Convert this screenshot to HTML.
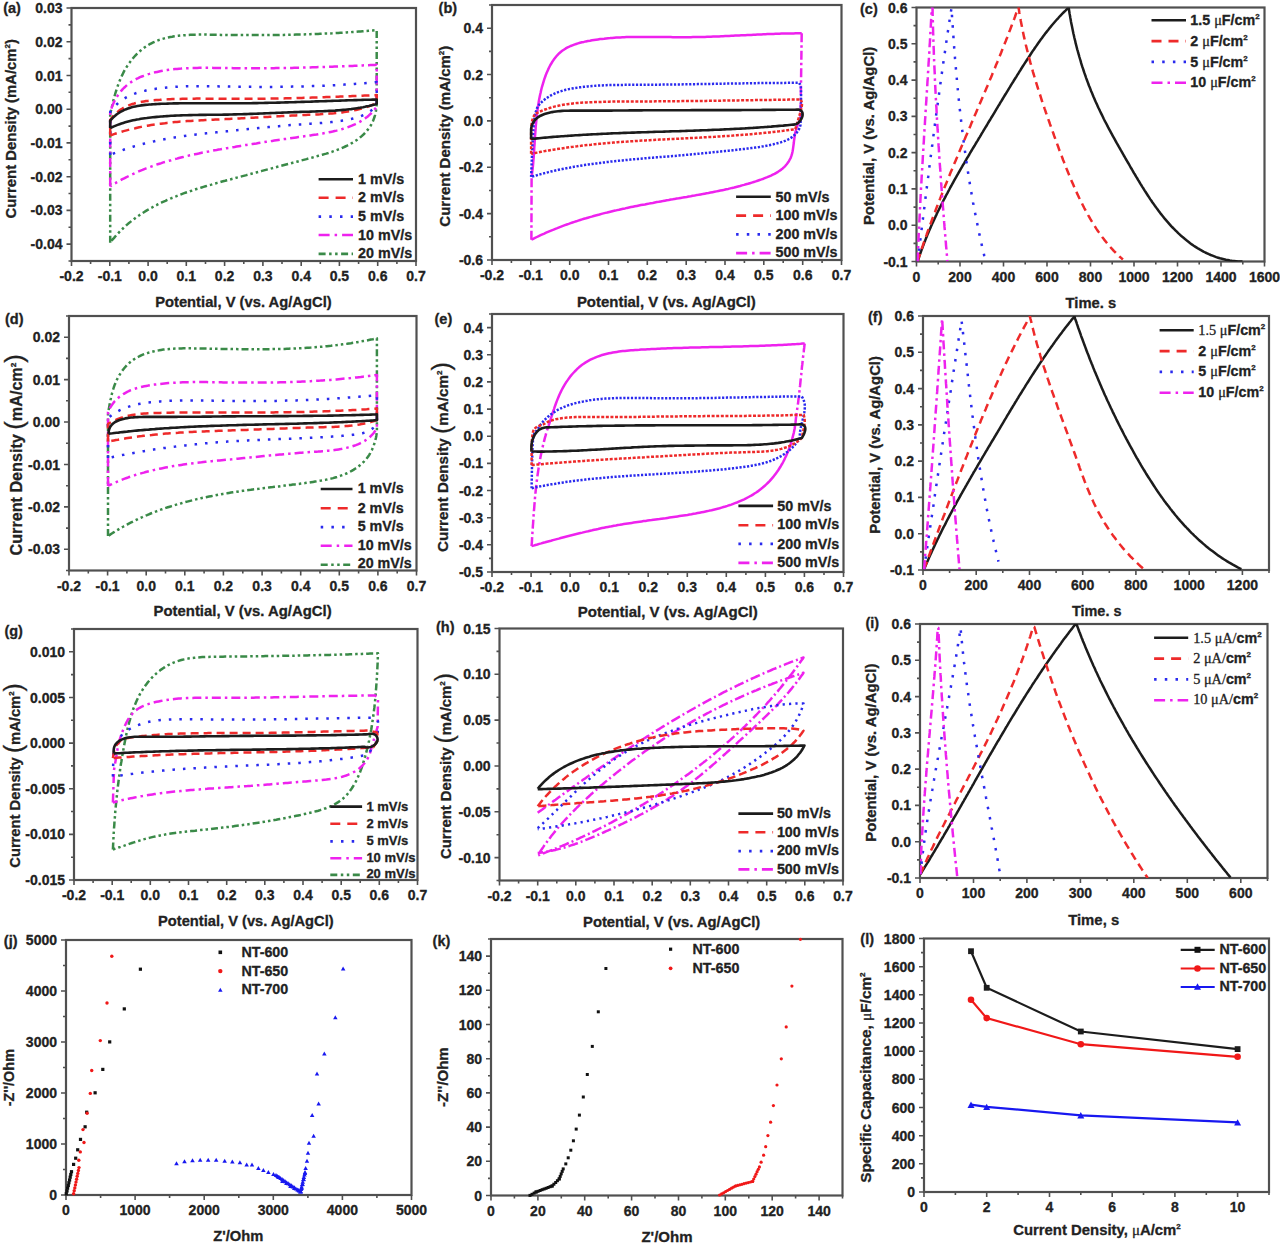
<!DOCTYPE html>
<html><head><meta charset="utf-8"><style>html,body{margin:0;padding:0;background:#fff;overflow:hidden}svg{display:block}</style></head>
<body>
<svg width="1280" height="1245" viewBox="0 0 1280 1245">
<style>text{font-family:"Liberation Sans", sans-serif;font-weight:bold;fill:#222222;stroke:#222222;stroke-width:0.3px} .t{font-size:14px} .ti{font-size:14.8px} .lg{font-size:14.3px} .lgs{font-size:13px} .pl{font-size:14.5px} .sr{font-family:"Liberation Serif",serif;font-weight:normal}</style>
<rect width="1280" height="1245" fill="#fff"/>
<clipPath id="ca"><rect x="71.5" y="8" width="344.5" height="253"/></clipPath>
<clipPath id="cb"><rect x="492" y="5" width="349.5" height="255"/></clipPath>
<clipPath id="cc"><rect x="916.5" y="7.5" width="348.0" height="254.0"/></clipPath>
<clipPath id="cd"><rect x="69" y="316" width="347.5" height="254.5"/></clipPath>
<clipPath id="ce"><rect x="492" y="314" width="351.5" height="258"/></clipPath>
<clipPath id="cf"><rect x="923" y="316" width="346" height="254"/></clipPath>
<clipPath id="cg"><rect x="74" y="629" width="343.5" height="251"/></clipPath>
<clipPath id="ch"><rect x="499.5" y="628.5" width="343.5" height="252.0"/></clipPath>
<clipPath id="ci"><rect x="920" y="624" width="347.5" height="254"/></clipPath>
<clipPath id="cj"><rect x="66" y="940" width="345.5" height="255"/></clipPath>
<clipPath id="ck"><rect x="491" y="939" width="351.5" height="256.5"/></clipPath>
<clipPath id="cl"><rect x="924" y="938.5" width="345" height="253.5"/></clipPath>
<rect x="71.5" y="8" width="344.5" height="253" fill="none" stroke="#505050" stroke-width="2.2"/>
<path d="M71.5 261v5M90.6 261v3M109.8 261v5M128.9 261v3M148.1 261v5M167.2 261v3M186.3 261v5M205.5 261v3M224.6 261v5M243.8 261v3M262.9 261v5M282.0 261v3M301.2 261v5M320.3 261v3M339.4 261v5M358.6 261v3M377.7 261v5M396.9 261v3M416.0 261v5M71.5 244.1h-5M71.5 227.3h-3M71.5 210.4h-5M71.5 193.5h-3M71.5 176.7h-5M71.5 159.8h-3M71.5 142.9h-5M71.5 126.1h-3M71.5 109.2h-5M71.5 92.3h-3M71.5 75.5h-5M71.5 58.6h-3M71.5 41.7h-5M71.5 24.9h-3M71.5 8.0h-5M71.5 261.0h-3" stroke="#505050" stroke-width="1.6" fill="none"/>
<text class="t" x="71.5" y="281" text-anchor="middle">-0.2</text>
<text class="t" x="109.8" y="281" text-anchor="middle">-0.1</text>
<text class="t" x="148.1" y="281" text-anchor="middle">0.0</text>
<text class="t" x="186.3" y="281" text-anchor="middle">0.1</text>
<text class="t" x="224.6" y="281" text-anchor="middle">0.2</text>
<text class="t" x="262.9" y="281" text-anchor="middle">0.3</text>
<text class="t" x="301.2" y="281" text-anchor="middle">0.4</text>
<text class="t" x="339.4" y="281" text-anchor="middle">0.5</text>
<text class="t" x="377.7" y="281" text-anchor="middle">0.6</text>
<text class="t" x="416.0" y="281" text-anchor="middle">0.7</text>
<text class="t" x="62.5" y="249.1" text-anchor="end">-0.04</text>
<text class="t" x="62.5" y="215.4" text-anchor="end">-0.03</text>
<text class="t" x="62.5" y="181.7" text-anchor="end">-0.02</text>
<text class="t" x="62.5" y="147.9" text-anchor="end">-0.01</text>
<text class="t" x="62.5" y="114.2" text-anchor="end">0.00</text>
<text class="t" x="62.5" y="80.5" text-anchor="end">0.01</text>
<text class="t" x="62.5" y="46.7" text-anchor="end">0.02</text>
<text class="t" x="62.5" y="13.0" text-anchor="end">0.03</text>
<rect x="492" y="5" width="349.5" height="255" fill="none" stroke="#505050" stroke-width="2.2"/>
<path d="M492.0 260v5M511.4 260v3M530.8 260v5M550.2 260v3M569.7 260v5M589.1 260v3M608.5 260v5M627.9 260v3M647.3 260v5M666.8 260v3M686.2 260v5M705.6 260v3M725.0 260v5M744.4 260v3M763.8 260v5M783.2 260v3M802.7 260v5M822.1 260v3M841.5 260v5M492 260.0h-5M492 236.8h-3M492 213.6h-5M492 190.5h-3M492 167.3h-5M492 144.1h-3M492 120.9h-5M492 97.7h-3M492 74.5h-5M492 51.4h-3M492 28.2h-5M492 5.0h-3" stroke="#505050" stroke-width="1.6" fill="none"/>
<text class="t" x="492.0" y="280" text-anchor="middle">-0.2</text>
<text class="t" x="530.8" y="280" text-anchor="middle">-0.1</text>
<text class="t" x="569.7" y="280" text-anchor="middle">0.0</text>
<text class="t" x="608.5" y="280" text-anchor="middle">0.1</text>
<text class="t" x="647.3" y="280" text-anchor="middle">0.2</text>
<text class="t" x="686.2" y="280" text-anchor="middle">0.3</text>
<text class="t" x="725.0" y="280" text-anchor="middle">0.4</text>
<text class="t" x="763.8" y="280" text-anchor="middle">0.5</text>
<text class="t" x="802.7" y="280" text-anchor="middle">0.6</text>
<text class="t" x="841.5" y="280" text-anchor="middle">0.7</text>
<text class="t" x="483" y="265.0" text-anchor="end">-0.6</text>
<text class="t" x="483" y="218.6" text-anchor="end">-0.4</text>
<text class="t" x="483" y="172.3" text-anchor="end">-0.2</text>
<text class="t" x="483" y="125.9" text-anchor="end">0.0</text>
<text class="t" x="483" y="79.5" text-anchor="end">0.2</text>
<text class="t" x="483" y="33.2" text-anchor="end">0.4</text>
<rect x="916.5" y="7.5" width="348.0" height="254.0" fill="none" stroke="#505050" stroke-width="2.2"/>
<path d="M916.5 261.5v5M938.2 261.5v3M960.0 261.5v5M981.8 261.5v3M1003.5 261.5v5M1025.2 261.5v3M1047.0 261.5v5M1068.8 261.5v3M1090.5 261.5v5M1112.2 261.5v3M1134.0 261.5v5M1155.8 261.5v3M1177.5 261.5v5M1199.2 261.5v3M1221.0 261.5v5M1242.8 261.5v3M1264.5 261.5v5M916.5 261.5h-5M916.5 243.4h-3M916.5 225.2h-5M916.5 207.1h-3M916.5 188.9h-5M916.5 170.8h-3M916.5 152.6h-5M916.5 134.5h-3M916.5 116.4h-5M916.5 98.2h-3M916.5 80.1h-5M916.5 61.9h-3M916.5 43.8h-5M916.5 25.6h-3M916.5 7.5h-5" stroke="#505050" stroke-width="1.6" fill="none"/>
<text class="t" x="916.5" y="281.5" text-anchor="middle">0</text>
<text class="t" x="960.0" y="281.5" text-anchor="middle">200</text>
<text class="t" x="1003.5" y="281.5" text-anchor="middle">400</text>
<text class="t" x="1047.0" y="281.5" text-anchor="middle">600</text>
<text class="t" x="1090.5" y="281.5" text-anchor="middle">800</text>
<text class="t" x="1134.0" y="281.5" text-anchor="middle">1000</text>
<text class="t" x="1177.5" y="281.5" text-anchor="middle">1200</text>
<text class="t" x="1221.0" y="281.5" text-anchor="middle">1400</text>
<text class="t" x="1264.5" y="281.5" text-anchor="middle">1600</text>
<text class="t" x="907.5" y="266.5" text-anchor="end">-0.1</text>
<text class="t" x="907.5" y="230.2" text-anchor="end">0.0</text>
<text class="t" x="907.5" y="193.9" text-anchor="end">0.1</text>
<text class="t" x="907.5" y="157.6" text-anchor="end">0.2</text>
<text class="t" x="907.5" y="121.4" text-anchor="end">0.3</text>
<text class="t" x="907.5" y="85.1" text-anchor="end">0.4</text>
<text class="t" x="907.5" y="48.8" text-anchor="end">0.5</text>
<text class="t" x="907.5" y="12.5" text-anchor="end">0.6</text>
<rect x="69" y="316" width="347.5" height="254.5" fill="none" stroke="#505050" stroke-width="2.2"/>
<path d="M69.0 570.5v5M88.3 570.5v3M107.6 570.5v5M126.9 570.5v3M146.2 570.5v5M165.5 570.5v3M184.8 570.5v5M204.1 570.5v3M223.4 570.5v5M242.8 570.5v3M262.1 570.5v5M281.4 570.5v3M300.7 570.5v5M320.0 570.5v3M339.3 570.5v5M358.6 570.5v3M377.9 570.5v5M397.2 570.5v3M416.5 570.5v5M69 549.3h-5M69 528.1h-3M69 506.9h-5M69 485.7h-3M69 464.5h-5M69 443.2h-3M69 422.0h-5M69 400.8h-3M69 379.6h-5M69 358.4h-3M69 337.2h-5M69 316.0h-3M69 570.5h-3" stroke="#505050" stroke-width="1.6" fill="none"/>
<text class="t" x="69.0" y="590.5" text-anchor="middle">-0.2</text>
<text class="t" x="107.6" y="590.5" text-anchor="middle">-0.1</text>
<text class="t" x="146.2" y="590.5" text-anchor="middle">0.0</text>
<text class="t" x="184.8" y="590.5" text-anchor="middle">0.1</text>
<text class="t" x="223.4" y="590.5" text-anchor="middle">0.2</text>
<text class="t" x="262.1" y="590.5" text-anchor="middle">0.3</text>
<text class="t" x="300.7" y="590.5" text-anchor="middle">0.4</text>
<text class="t" x="339.3" y="590.5" text-anchor="middle">0.5</text>
<text class="t" x="377.9" y="590.5" text-anchor="middle">0.6</text>
<text class="t" x="416.5" y="590.5" text-anchor="middle">0.7</text>
<text class="t" x="60" y="554.3" text-anchor="end">-0.03</text>
<text class="t" x="60" y="511.9" text-anchor="end">-0.02</text>
<text class="t" x="60" y="469.5" text-anchor="end">-0.01</text>
<text class="t" x="60" y="427.0" text-anchor="end">0.00</text>
<text class="t" x="60" y="384.6" text-anchor="end">0.01</text>
<text class="t" x="60" y="342.2" text-anchor="end">0.02</text>
<rect x="492" y="314" width="351.5" height="258" fill="none" stroke="#505050" stroke-width="2.2"/>
<path d="M492.0 572v5M511.5 572v3M531.1 572v5M550.6 572v3M570.1 572v5M589.6 572v3M609.2 572v5M628.7 572v3M648.2 572v5M667.8 572v3M687.3 572v5M706.8 572v3M726.3 572v5M745.9 572v3M765.4 572v5M784.9 572v3M804.4 572v5M824.0 572v3M843.5 572v5M492 572.0h-5M492 558.4h-3M492 544.8h-5M492 531.3h-3M492 517.7h-5M492 504.1h-3M492 490.5h-5M492 476.9h-3M492 463.4h-5M492 449.8h-3M492 436.2h-5M492 422.6h-3M492 409.1h-5M492 395.5h-3M492 381.9h-5M492 368.3h-3M492 354.7h-5M492 341.2h-3M492 327.6h-5M492 314.0h-3" stroke="#505050" stroke-width="1.6" fill="none"/>
<text class="t" x="492.0" y="592" text-anchor="middle">-0.2</text>
<text class="t" x="531.1" y="592" text-anchor="middle">-0.1</text>
<text class="t" x="570.1" y="592" text-anchor="middle">0.0</text>
<text class="t" x="609.2" y="592" text-anchor="middle">0.1</text>
<text class="t" x="648.2" y="592" text-anchor="middle">0.2</text>
<text class="t" x="687.3" y="592" text-anchor="middle">0.3</text>
<text class="t" x="726.3" y="592" text-anchor="middle">0.4</text>
<text class="t" x="765.4" y="592" text-anchor="middle">0.5</text>
<text class="t" x="804.4" y="592" text-anchor="middle">0.6</text>
<text class="t" x="843.5" y="592" text-anchor="middle">0.7</text>
<text class="t" x="483" y="577.0" text-anchor="end">-0.5</text>
<text class="t" x="483" y="549.8" text-anchor="end">-0.4</text>
<text class="t" x="483" y="522.7" text-anchor="end">-0.3</text>
<text class="t" x="483" y="495.5" text-anchor="end">-0.2</text>
<text class="t" x="483" y="468.4" text-anchor="end">-0.1</text>
<text class="t" x="483" y="441.2" text-anchor="end">0.0</text>
<text class="t" x="483" y="414.1" text-anchor="end">0.1</text>
<text class="t" x="483" y="386.9" text-anchor="end">0.2</text>
<text class="t" x="483" y="359.7" text-anchor="end">0.3</text>
<text class="t" x="483" y="332.6" text-anchor="end">0.4</text>
<rect x="923" y="316" width="346" height="254" fill="none" stroke="#505050" stroke-width="2.2"/>
<path d="M923.0 570v5M949.6 570v3M976.2 570v5M1002.8 570v3M1029.5 570v5M1056.1 570v3M1082.7 570v5M1109.3 570v3M1135.9 570v5M1162.5 570v3M1189.2 570v5M1215.8 570v3M1242.4 570v5M1269.0 570v3M923 570.0h-5M923 551.9h-3M923 533.7h-5M923 515.6h-3M923 497.4h-5M923 479.3h-3M923 461.1h-5M923 443.0h-3M923 424.9h-5M923 406.7h-3M923 388.6h-5M923 370.4h-3M923 352.3h-5M923 334.1h-3M923 316.0h-5" stroke="#505050" stroke-width="1.6" fill="none"/>
<text class="t" x="923.0" y="590" text-anchor="middle">0</text>
<text class="t" x="976.2" y="590" text-anchor="middle">200</text>
<text class="t" x="1029.5" y="590" text-anchor="middle">400</text>
<text class="t" x="1082.7" y="590" text-anchor="middle">600</text>
<text class="t" x="1135.9" y="590" text-anchor="middle">800</text>
<text class="t" x="1189.2" y="590" text-anchor="middle">1000</text>
<text class="t" x="1242.4" y="590" text-anchor="middle">1200</text>
<text class="t" x="914" y="575.0" text-anchor="end">-0.1</text>
<text class="t" x="914" y="538.7" text-anchor="end">0.0</text>
<text class="t" x="914" y="502.4" text-anchor="end">0.1</text>
<text class="t" x="914" y="466.1" text-anchor="end">0.2</text>
<text class="t" x="914" y="429.9" text-anchor="end">0.3</text>
<text class="t" x="914" y="393.6" text-anchor="end">0.4</text>
<text class="t" x="914" y="357.3" text-anchor="end">0.5</text>
<text class="t" x="914" y="321.0" text-anchor="end">0.6</text>
<rect x="74" y="629" width="343.5" height="251" fill="none" stroke="#505050" stroke-width="2.2"/>
<path d="M74.0 880v5M93.1 880v3M112.2 880v5M131.2 880v3M150.3 880v5M169.4 880v3M188.5 880v5M207.6 880v3M226.7 880v5M245.8 880v3M264.8 880v5M283.9 880v3M303.0 880v5M322.1 880v3M341.2 880v5M360.2 880v3M379.3 880v5M398.4 880v3M417.5 880v5M74 880.0h-5M74 857.2h-3M74 834.4h-5M74 811.5h-3M74 788.7h-5M74 765.9h-3M74 743.1h-5M74 720.3h-3M74 697.5h-5M74 674.6h-3M74 651.8h-5M74 629.0h-3" stroke="#505050" stroke-width="1.6" fill="none"/>
<text class="t" x="74.0" y="900" text-anchor="middle">-0.2</text>
<text class="t" x="112.2" y="900" text-anchor="middle">-0.1</text>
<text class="t" x="150.3" y="900" text-anchor="middle">0.0</text>
<text class="t" x="188.5" y="900" text-anchor="middle">0.1</text>
<text class="t" x="226.7" y="900" text-anchor="middle">0.2</text>
<text class="t" x="264.8" y="900" text-anchor="middle">0.3</text>
<text class="t" x="303.0" y="900" text-anchor="middle">0.4</text>
<text class="t" x="341.2" y="900" text-anchor="middle">0.5</text>
<text class="t" x="379.3" y="900" text-anchor="middle">0.6</text>
<text class="t" x="417.5" y="900" text-anchor="middle">0.7</text>
<text class="t" x="65" y="885.0" text-anchor="end">-0.015</text>
<text class="t" x="65" y="839.4" text-anchor="end">-0.010</text>
<text class="t" x="65" y="793.7" text-anchor="end">-0.005</text>
<text class="t" x="65" y="748.1" text-anchor="end">0.000</text>
<text class="t" x="65" y="702.5" text-anchor="end">0.005</text>
<text class="t" x="65" y="656.8" text-anchor="end">0.010</text>
<rect x="499.5" y="628.5" width="343.5" height="252.0" fill="none" stroke="#505050" stroke-width="2.2"/>
<path d="M499.5 880.5v5M518.6 880.5v3M537.7 880.5v5M556.8 880.5v3M575.8 880.5v5M594.9 880.5v3M614.0 880.5v5M633.1 880.5v3M652.2 880.5v5M671.2 880.5v3M690.3 880.5v5M709.4 880.5v3M728.5 880.5v5M747.6 880.5v3M766.7 880.5v5M785.8 880.5v3M804.8 880.5v5M823.9 880.5v3M843.0 880.5v5M499.5 857.6h-5M499.5 834.7h-3M499.5 811.8h-5M499.5 788.9h-3M499.5 766.0h-5M499.5 743.0h-3M499.5 720.1h-5M499.5 697.2h-3M499.5 674.3h-5M499.5 651.4h-3M499.5 628.5h-5M499.5 880.5h-3" stroke="#505050" stroke-width="1.6" fill="none"/>
<text class="t" x="499.5" y="900.5" text-anchor="middle">-0.2</text>
<text class="t" x="537.7" y="900.5" text-anchor="middle">-0.1</text>
<text class="t" x="575.8" y="900.5" text-anchor="middle">0.0</text>
<text class="t" x="614.0" y="900.5" text-anchor="middle">0.1</text>
<text class="t" x="652.2" y="900.5" text-anchor="middle">0.2</text>
<text class="t" x="690.3" y="900.5" text-anchor="middle">0.3</text>
<text class="t" x="728.5" y="900.5" text-anchor="middle">0.4</text>
<text class="t" x="766.7" y="900.5" text-anchor="middle">0.5</text>
<text class="t" x="804.8" y="900.5" text-anchor="middle">0.6</text>
<text class="t" x="843.0" y="900.5" text-anchor="middle">0.7</text>
<text class="t" x="490.5" y="862.6" text-anchor="end">-0.10</text>
<text class="t" x="490.5" y="816.8" text-anchor="end">-0.05</text>
<text class="t" x="490.5" y="771.0" text-anchor="end">0.00</text>
<text class="t" x="490.5" y="725.1" text-anchor="end">0.05</text>
<text class="t" x="490.5" y="679.3" text-anchor="end">0.10</text>
<text class="t" x="490.5" y="633.5" text-anchor="end">0.15</text>
<rect x="920" y="624" width="347.5" height="254" fill="none" stroke="#505050" stroke-width="2.2"/>
<path d="M920.0 878v5M946.7 878v3M973.5 878v5M1000.2 878v3M1026.9 878v5M1053.7 878v3M1080.4 878v5M1107.1 878v3M1133.8 878v5M1160.6 878v3M1187.3 878v5M1214.0 878v3M1240.8 878v5M1267.5 878v3M920 878.0h-5M920 859.9h-3M920 841.7h-5M920 823.6h-3M920 805.4h-5M920 787.3h-3M920 769.1h-5M920 751.0h-3M920 732.9h-5M920 714.7h-3M920 696.6h-5M920 678.4h-3M920 660.3h-5M920 642.1h-3M920 624.0h-5" stroke="#505050" stroke-width="1.6" fill="none"/>
<text class="t" x="920.0" y="898" text-anchor="middle">0</text>
<text class="t" x="973.5" y="898" text-anchor="middle">100</text>
<text class="t" x="1026.9" y="898" text-anchor="middle">200</text>
<text class="t" x="1080.4" y="898" text-anchor="middle">300</text>
<text class="t" x="1133.8" y="898" text-anchor="middle">400</text>
<text class="t" x="1187.3" y="898" text-anchor="middle">500</text>
<text class="t" x="1240.8" y="898" text-anchor="middle">600</text>
<text class="t" x="911" y="883.0" text-anchor="end">-0.1</text>
<text class="t" x="911" y="846.7" text-anchor="end">0.0</text>
<text class="t" x="911" y="810.4" text-anchor="end">0.1</text>
<text class="t" x="911" y="774.1" text-anchor="end">0.2</text>
<text class="t" x="911" y="737.9" text-anchor="end">0.3</text>
<text class="t" x="911" y="701.6" text-anchor="end">0.4</text>
<text class="t" x="911" y="665.3" text-anchor="end">0.5</text>
<text class="t" x="911" y="629.0" text-anchor="end">0.6</text>
<rect x="66" y="940" width="345.5" height="255" fill="none" stroke="#505050" stroke-width="2.2"/>
<path d="M66.0 1195v5M100.6 1195v3M135.1 1195v5M169.6 1195v3M204.2 1195v5M238.8 1195v3M273.3 1195v5M307.9 1195v3M342.4 1195v5M376.9 1195v3M411.5 1195v5M66 1195.0h-5M66 1169.5h-3M66 1144.0h-5M66 1118.5h-3M66 1093.0h-5M66 1067.5h-3M66 1042.0h-5M66 1016.5h-3M66 991.0h-5M66 965.5h-3M66 940.0h-5" stroke="#505050" stroke-width="1.6" fill="none"/>
<text class="t" x="66.0" y="1215" text-anchor="middle">0</text>
<text class="t" x="135.1" y="1215" text-anchor="middle">1000</text>
<text class="t" x="204.2" y="1215" text-anchor="middle">2000</text>
<text class="t" x="273.3" y="1215" text-anchor="middle">3000</text>
<text class="t" x="342.4" y="1215" text-anchor="middle">4000</text>
<text class="t" x="411.5" y="1215" text-anchor="middle">5000</text>
<text class="t" x="57" y="1200.0" text-anchor="end">0</text>
<text class="t" x="57" y="1149.0" text-anchor="end">1000</text>
<text class="t" x="57" y="1098.0" text-anchor="end">2000</text>
<text class="t" x="57" y="1047.0" text-anchor="end">3000</text>
<text class="t" x="57" y="996.0" text-anchor="end">4000</text>
<text class="t" x="57" y="945.0" text-anchor="end">5000</text>
<rect x="491" y="939" width="351.5" height="256.5" fill="none" stroke="#505050" stroke-width="2.2"/>
<path d="M491.0 1195.5v5M514.4 1195.5v3M537.9 1195.5v5M561.3 1195.5v3M584.7 1195.5v5M608.2 1195.5v3M631.6 1195.5v5M655.0 1195.5v3M678.5 1195.5v5M701.9 1195.5v3M725.3 1195.5v5M748.8 1195.5v3M772.2 1195.5v5M795.6 1195.5v3M819.1 1195.5v5M842.5 1195.5v3M491 1195.5h-5M491 1178.4h-3M491 1161.3h-5M491 1144.2h-3M491 1127.1h-5M491 1110.0h-3M491 1092.9h-5M491 1075.8h-3M491 1058.7h-5M491 1041.6h-3M491 1024.5h-5M491 1007.4h-3M491 990.3h-5M491 973.2h-3M491 956.1h-5M491 939.0h-3" stroke="#505050" stroke-width="1.6" fill="none"/>
<text class="t" x="491.0" y="1215.5" text-anchor="middle">0</text>
<text class="t" x="537.9" y="1215.5" text-anchor="middle">20</text>
<text class="t" x="584.7" y="1215.5" text-anchor="middle">40</text>
<text class="t" x="631.6" y="1215.5" text-anchor="middle">60</text>
<text class="t" x="678.5" y="1215.5" text-anchor="middle">80</text>
<text class="t" x="725.3" y="1215.5" text-anchor="middle">100</text>
<text class="t" x="772.2" y="1215.5" text-anchor="middle">120</text>
<text class="t" x="819.1" y="1215.5" text-anchor="middle">140</text>
<text class="t" x="482" y="1200.5" text-anchor="end">0</text>
<text class="t" x="482" y="1166.3" text-anchor="end">20</text>
<text class="t" x="482" y="1132.1" text-anchor="end">40</text>
<text class="t" x="482" y="1097.9" text-anchor="end">60</text>
<text class="t" x="482" y="1063.7" text-anchor="end">80</text>
<text class="t" x="482" y="1029.5" text-anchor="end">100</text>
<text class="t" x="482" y="995.3" text-anchor="end">120</text>
<text class="t" x="482" y="961.1" text-anchor="end">140</text>
<rect x="924" y="938.5" width="345" height="253.5" fill="none" stroke="#505050" stroke-width="2.2"/>
<path d="M924.0 1192v5M955.4 1192v3M986.7 1192v5M1018.1 1192v3M1049.5 1192v5M1080.8 1192v3M1112.2 1192v5M1143.5 1192v3M1174.9 1192v5M1206.3 1192v3M1237.6 1192v5M1269.0 1192v3M924 1192.0h-5M924 1177.9h-3M924 1163.8h-5M924 1149.8h-3M924 1135.7h-5M924 1121.6h-3M924 1107.5h-5M924 1093.4h-3M924 1079.3h-5M924 1065.2h-3M924 1051.2h-5M924 1037.1h-3M924 1023.0h-5M924 1008.9h-3M924 994.8h-5M924 980.8h-3M924 966.7h-5M924 952.6h-3M924 938.5h-5" stroke="#505050" stroke-width="1.6" fill="none"/>
<text class="t" x="924.0" y="1212" text-anchor="middle">0</text>
<text class="t" x="986.7" y="1212" text-anchor="middle">2</text>
<text class="t" x="1049.5" y="1212" text-anchor="middle">4</text>
<text class="t" x="1112.2" y="1212" text-anchor="middle">6</text>
<text class="t" x="1174.9" y="1212" text-anchor="middle">8</text>
<text class="t" x="1237.6" y="1212" text-anchor="middle">10</text>
<text class="t" x="915" y="1197.0" text-anchor="end">0</text>
<text class="t" x="915" y="1168.8" text-anchor="end">200</text>
<text class="t" x="915" y="1140.7" text-anchor="end">400</text>
<text class="t" x="915" y="1112.5" text-anchor="end">600</text>
<text class="t" x="915" y="1084.3" text-anchor="end">800</text>
<text class="t" x="915" y="1056.2" text-anchor="end">1000</text>
<text class="t" x="915" y="1028.0" text-anchor="end">1200</text>
<text class="t" x="915" y="999.8" text-anchor="end">1400</text>
<text class="t" x="915" y="971.7" text-anchor="end">1600</text>
<text class="t" x="915" y="943.5" text-anchor="end">1800</text>
<path d="M110.2 242.7L110.2 114.0L110.2 114.0L110.6 112.1L111.1 110.2L111.5 108.3L112.0 106.4L112.4 104.4L112.9 102.5L113.4 100.5L113.9 98.5L114.5 96.5L115.0 94.5L115.6 92.5L116.2 90.6L116.8 88.6L117.5 86.6L118.2 84.6L118.9 82.7L119.7 80.8L120.5 78.8L121.3 76.9L122.2 75.1L123.1 73.2L124.0 71.4L125.0 69.6L126.1 67.8L127.2 66.1L128.3 64.4L129.5 62.8L130.7 61.1L131.9 59.6L133.2 58.0L134.5 56.5L135.8 55.1L137.2 53.7L138.7 52.3L140.1 51.0L141.6 49.7L143.2 48.5L144.8 47.3L146.4 46.2L148.0 45.2L149.7 44.2L151.4 43.3L153.2 42.4L155.0 41.6L156.8 40.8L158.6 40.1L160.5 39.5L162.4 38.9L164.3 38.4L166.2 37.9L168.2 37.4L170.2 37.0L172.2 36.7L174.2 36.3L176.2 36.0L178.2 35.8L180.2 35.6L182.3 35.4L184.3 35.2L186.3 35.1L188.4 34.9L190.4 34.8L192.4 34.8L194.5 34.7L196.5 34.7L198.6 34.6L200.6 34.6L202.7 34.6L204.7 34.6L206.7 34.6L208.8 34.7L210.8 34.7L212.9 34.7L214.9 34.8L217.0 34.8L219.0 34.8L221.0 34.9L223.1 34.9L225.1 34.9L227.1 34.9L229.2 35.0L231.2 35.0L233.2 35.0L235.3 35.0L237.3 35.0L239.3 35.1L241.4 35.1L243.4 35.1L245.4 35.1L247.4 35.1L249.5 35.1L251.5 35.1L253.5 35.1L255.5 35.1L257.6 35.1L259.6 35.1L261.6 35.1L263.6 35.1L265.7 35.1L267.7 35.1L269.7 35.0L271.7 35.0L273.7 35.0L275.8 35.0L277.8 35.0L279.8 34.9L281.8 34.9L283.8 34.9L285.8 34.8L287.9 34.8L289.9 34.8L291.9 34.7L293.9 34.7L295.9 34.6L297.9 34.6L300.0 34.5L302.0 34.5L304.0 34.4L306.0 34.3L308.0 34.3L310.0 34.2L312.1 34.1L314.1 34.1L316.1 34.0L318.1 33.9L320.1 33.8L322.1 33.7L324.1 33.6L326.2 33.5L328.2 33.5L330.2 33.4L332.2 33.3L334.2 33.1L336.2 33.0L338.3 32.9L340.3 32.8L342.3 32.7L344.3 32.6L346.3 32.4L348.4 32.3L350.4 32.2L352.4 32.0L354.4 31.9L356.4 31.8L358.5 31.6L360.5 31.5L362.5 31.3L364.5 31.1L366.6 31.0L368.6 30.8L370.6 30.6L372.6 30.5L374.7 30.3L376.7 30.1L376.7 30.1L376.7 104.0L376.7 104.0L376.6 106.3L376.3 108.6L376.0 110.8L375.6 112.9L375.1 115.0L374.5 117.0L373.8 118.9L373.1 120.8L372.3 122.6L371.4 124.3L370.4 126.0L369.3 127.6L368.2 129.1L367.0 130.6L365.8 132.1L364.5 133.5L363.1 134.8L361.7 136.1L360.3 137.3L358.8 138.5L357.2 139.7L355.6 140.8L354.0 141.8L352.3 142.8L350.6 143.8L348.9 144.8L347.1 145.7L345.3 146.5L343.5 147.3L341.7 148.1L339.8 148.9L337.9 149.6L336.0 150.3L334.1 151.0L332.2 151.7L330.3 152.3L328.3 153.0L326.3 153.6L324.4 154.1L322.4 154.7L320.4 155.3L318.4 155.8L316.4 156.4L314.5 156.9L312.5 157.5L310.5 158.0L308.5 158.5L306.5 159.1L304.6 159.6L302.6 160.1L300.7 160.6L298.7 161.2L296.8 161.7L294.8 162.2L292.9 162.7L290.9 163.2L289.0 163.8L287.0 164.3L285.1 164.8L283.2 165.3L281.2 165.8L279.3 166.3L277.4 166.8L275.4 167.4L273.5 167.9L271.6 168.4L269.7 168.9L267.7 169.4L265.8 169.9L263.9 170.4L262.0 170.9L260.0 171.5L258.1 172.0L256.2 172.5L254.2 173.0L252.3 173.5L250.4 174.0L248.5 174.5L246.5 175.1L244.6 175.6L242.6 176.1L240.7 176.6L238.8 177.1L236.8 177.6L234.9 178.2L232.9 178.7L231.0 179.2L229.0 179.7L227.1 180.2L225.1 180.8L223.1 181.3L221.2 181.8L219.2 182.4L217.3 182.9L215.3 183.5L213.3 184.0L211.4 184.6L209.4 185.1L207.4 185.7L205.5 186.3L203.5 186.9L201.6 187.5L199.6 188.1L197.7 188.7L195.7 189.3L193.8 189.9L191.9 190.6L189.9 191.2L188.0 191.9L186.1 192.5L184.2 193.2L182.3 193.9L180.4 194.6L178.5 195.3L176.6 196.1L174.7 196.8L172.9 197.6L171.0 198.3L169.1 199.1L167.3 199.9L165.5 200.8L163.6 201.6L161.8 202.4L160.0 203.3L158.2 204.2L156.5 205.1L154.7 206.0L152.9 207.0L151.2 207.9L149.5 208.9L147.7 209.9L146.0 210.9L144.3 212.0L142.7 213.0L141.0 214.1L139.4 215.2L137.7 216.4L136.1 217.5L134.5 218.7L132.9 219.9L131.4 221.1L129.8 222.4L128.3 223.6L126.8 224.9L125.3 226.3L123.8 227.6L122.4 229.0L120.9 230.4L119.5 231.8L118.1 233.3L116.7 234.8L115.4 236.3L114.1 237.9L112.7 239.4L111.5 241.1L110.2 242.7" fill="none" stroke="#3a8a48" stroke-width="2.5" stroke-dasharray="7,3,2.5,3,2.5,3" stroke-linejoin="round" clip-path="url(#ca)"/>
<path d="M110.2 186.4L110.2 113.0L110.2 113.0L110.7 110.9L111.3 108.8L112.0 106.8L112.8 104.8L113.6 102.9L114.5 101.0L115.4 99.2L116.5 97.4L117.6 95.7L118.7 94.1L119.9 92.5L121.2 90.9L122.5 89.4L123.8 88.0L125.3 86.7L126.7 85.4L128.2 84.1L129.8 83.0L131.4 81.9L133.1 80.8L134.7 79.9L136.5 78.9L138.2 78.1L140.0 77.2L141.8 76.5L143.7 75.8L145.5 75.1L147.4 74.4L149.3 73.9L151.3 73.3L153.2 72.8L155.2 72.3L157.2 71.9L159.1 71.5L161.1 71.1L163.1 70.7L165.1 70.4L167.1 70.1L169.1 69.8L171.1 69.5L173.1 69.3L175.1 69.1L177.1 68.9L179.1 68.7L181.1 68.6L183.1 68.4L185.1 68.3L187.2 68.2L189.2 68.1L191.2 68.0L193.2 68.0L195.2 67.9L197.2 67.9L199.3 67.8L201.3 67.8L203.3 67.8L205.3 67.8L207.4 67.8L209.4 67.8L211.4 67.8L213.4 67.9L215.4 67.9L217.5 67.9L219.5 67.9L221.5 68.0L223.5 68.0L225.6 68.1L227.6 68.1L229.6 68.1L231.6 68.1L233.7 68.2L235.7 68.2L237.7 68.2L239.7 68.2L241.7 68.3L243.8 68.3L245.8 68.3L247.8 68.3L249.8 68.3L251.8 68.3L253.8 68.3L255.9 68.3L257.9 68.3L259.9 68.3L261.9 68.3L263.9 68.3L265.9 68.2L268.0 68.2L270.0 68.2L272.0 68.2L274.0 68.2L276.0 68.1L278.0 68.1L280.0 68.1L282.1 68.0L284.1 68.0L286.1 68.0L288.1 67.9L290.1 67.9L292.1 67.9L294.1 67.8L296.1 67.8L298.2 67.7L300.2 67.7L302.2 67.6L304.2 67.6L306.2 67.5L308.2 67.5L310.2 67.4L312.2 67.3L314.2 67.3L316.3 67.2L318.3 67.1L320.3 67.1L322.3 67.0L324.3 66.9L326.3 66.9L328.3 66.8L330.3 66.7L332.4 66.7L334.4 66.6L336.4 66.5L338.4 66.4L340.4 66.4L342.4 66.3L344.4 66.2L346.5 66.1L348.5 66.0L350.5 66.0L352.5 65.9L354.5 65.8L356.5 65.7L358.5 65.6L360.6 65.5L362.6 65.4L364.6 65.3L366.6 65.3L368.6 65.2L370.6 65.1L372.7 65.0L374.7 64.9L376.7 64.8L376.7 64.8L376.7 106.7L376.7 106.7L375.5 108.4L374.2 110.0L372.9 111.5L371.5 113.0L370.0 114.4L368.6 115.7L367.1 116.9L365.5 118.1L363.9 119.2L362.3 120.3L360.6 121.3L358.9 122.3L357.2 123.2L355.4 124.1L353.6 124.9L351.8 125.7L350.0 126.4L348.1 127.1L346.2 127.7L344.4 128.4L342.4 129.0L340.5 129.5L338.6 130.1L336.6 130.6L334.7 131.0L332.7 131.5L330.7 131.9L328.7 132.3L326.7 132.7L324.7 133.1L322.7 133.5L320.6 133.8L318.6 134.1L316.6 134.5L314.5 134.8L312.5 135.1L310.5 135.4L308.4 135.7L306.4 136.0L304.4 136.2L302.3 136.5L300.3 136.8L298.3 137.1L296.3 137.4L294.2 137.7L292.2 138.0L290.2 138.3L288.2 138.6L286.2 138.9L284.2 139.1L282.2 139.4L280.2 139.7L278.2 140.0L276.2 140.3L274.2 140.6L272.3 140.9L270.3 141.2L268.3 141.5L266.3 141.8L264.3 142.1L262.3 142.4L260.3 142.7L258.4 143.0L256.4 143.4L254.4 143.7L252.4 144.0L250.4 144.3L248.5 144.6L246.5 144.9L244.5 145.2L242.5 145.6L240.5 145.9L238.5 146.2L236.6 146.5L234.6 146.9L232.6 147.2L230.6 147.5L228.6 147.9L226.6 148.2L224.6 148.6L222.6 148.9L220.6 149.3L218.6 149.6L216.6 150.0L214.6 150.3L212.6 150.7L210.6 151.1L208.6 151.5L206.7 151.8L204.7 152.2L202.7 152.6L200.7 153.0L198.7 153.5L196.7 153.9L194.7 154.3L192.7 154.7L190.8 155.2L188.8 155.6L186.8 156.1L184.8 156.6L182.9 157.1L180.9 157.5L178.9 158.0L177.0 158.6L175.0 159.1L173.0 159.6L171.1 160.2L169.2 160.7L167.2 161.3L165.3 161.9L163.3 162.4L161.4 163.1L159.5 163.7L157.6 164.3L155.7 164.9L153.8 165.6L151.9 166.3L150.0 167.0L148.1 167.7L146.2 168.4L144.3 169.1L142.5 169.9L140.6 170.6L138.7 171.4L136.9 172.2L135.1 173.0L133.2 173.9L131.4 174.7L129.6 175.6L127.8 176.5L126.0 177.4L124.2 178.3L122.4 179.2L120.6 180.2L118.9 181.2L117.1 182.2L115.4 183.2L113.6 184.2L111.9 185.3L110.2 186.4" fill="none" stroke="#ee22ee" stroke-width="2.5" stroke-dasharray="9,4,2.5,4" stroke-linejoin="round" clip-path="url(#ca)"/>
<path d="M110.2 155.0L110.2 112.0L110.2 112.0L111.5 110.2L112.8 108.5L114.2 107.0L115.6 105.5L117.1 104.0L118.6 102.7L120.1 101.5L121.7 100.3L123.3 99.2L125.0 98.2L126.7 97.2L128.4 96.3L130.2 95.5L132.0 94.7L133.8 94.0L135.6 93.3L137.5 92.7L139.3 92.1L141.2 91.6L143.2 91.1L145.1 90.7L147.0 90.2L149.0 89.9L151.0 89.5L152.9 89.2L154.9 88.9L156.9 88.6L158.9 88.3L160.9 88.1L162.9 87.9L164.9 87.7L166.9 87.5L168.9 87.3L170.9 87.1L172.9 87.0L174.9 86.8L176.9 86.7L178.9 86.6L180.9 86.5L183.0 86.4L185.0 86.4L187.0 86.3L189.0 86.3L191.1 86.2L193.1 86.2L195.1 86.2L197.2 86.2L199.2 86.2L201.2 86.2L203.2 86.2L205.3 86.2L207.3 86.2L209.4 86.2L211.4 86.2L213.4 86.3L215.5 86.3L217.5 86.3L219.5 86.4L221.6 86.4L223.6 86.4L225.6 86.5L227.7 86.5L229.7 86.6L231.7 86.6L233.7 86.6L235.8 86.7L237.8 86.7L239.8 86.7L241.8 86.7L243.9 86.8L245.9 86.8L247.9 86.8L249.9 86.8L252.0 86.8L254.0 86.9L256.0 86.9L258.0 86.9L260.0 86.9L262.0 86.9L264.1 86.9L266.1 86.9L268.1 86.9L270.1 86.9L272.1 86.9L274.1 86.9L276.1 86.8L278.1 86.8L280.1 86.8L282.2 86.8L284.2 86.8L286.2 86.7L288.2 86.7L290.2 86.7L292.2 86.6L294.2 86.6L296.2 86.6L298.2 86.5L300.2 86.5L302.2 86.4L304.2 86.4L306.3 86.3L308.3 86.3L310.3 86.2L312.3 86.1L314.3 86.1L316.3 86.0L318.3 85.9L320.3 85.8L322.3 85.8L324.3 85.7L326.3 85.6L328.3 85.5L330.4 85.4L332.4 85.3L334.4 85.2L336.4 85.1L338.4 85.0L340.4 84.9L342.4 84.7L344.4 84.6L346.4 84.5L348.4 84.4L350.5 84.2L352.5 84.1L354.5 83.9L356.5 83.8L358.5 83.6L360.5 83.5L362.6 83.3L364.6 83.2L366.6 83.0L368.6 82.8L370.6 82.7L372.7 82.5L374.7 82.3L376.7 82.1L376.7 82.1L376.7 105.3L376.7 105.3L375.3 106.8L373.9 108.2L372.4 109.6L370.9 110.8L369.3 111.9L367.6 112.9L365.9 113.8L364.2 114.7L362.4 115.5L360.6 116.2L358.8 116.9L356.9 117.5L355.0 118.0L353.1 118.5L351.2 119.0L349.2 119.4L347.3 119.8L345.3 120.2L343.3 120.5L341.3 120.8L339.3 121.1L337.3 121.4L335.3 121.7L333.3 121.9L331.3 122.1L329.3 122.3L327.2 122.5L325.2 122.7L323.1 122.8L321.1 123.0L319.1 123.1L317.0 123.3L315.0 123.4L312.9 123.5L310.9 123.7L308.8 123.8L306.8 123.9L304.8 124.1L302.7 124.2L300.7 124.4L298.7 124.5L296.6 124.7L294.6 124.8L292.6 125.0L290.6 125.1L288.5 125.3L286.5 125.5L284.5 125.6L282.5 125.8L280.5 126.0L278.5 126.2L276.5 126.3L274.5 126.5L272.5 126.7L270.5 126.9L268.5 127.1L266.5 127.3L264.5 127.5L262.5 127.7L260.5 127.9L258.5 128.1L256.5 128.3L254.5 128.5L252.5 128.7L250.5 128.9L248.5 129.1L246.5 129.3L244.5 129.5L242.5 129.7L240.5 129.9L238.5 130.1L236.5 130.3L234.5 130.5L232.5 130.7L230.5 130.9L228.5 131.1L226.5 131.3L224.5 131.5L222.5 131.7L220.4 131.9L218.4 132.1L216.4 132.3L214.4 132.5L212.4 132.7L210.4 132.9L208.4 133.1L206.4 133.3L204.3 133.5L202.3 133.7L200.3 134.0L198.3 134.2L196.3 134.4L194.3 134.7L192.3 134.9L190.3 135.2L188.3 135.4L186.3 135.7L184.3 136.0L182.3 136.3L180.3 136.5L178.3 136.8L176.3 137.2L174.3 137.5L172.3 137.8L170.3 138.1L168.3 138.5L166.3 138.8L164.3 139.2L162.3 139.6L160.3 139.9L158.4 140.3L156.4 140.7L154.4 141.2L152.5 141.6L150.5 142.0L148.5 142.5L146.6 143.0L144.6 143.5L142.7 144.0L140.7 144.5L138.8 145.0L136.8 145.6L134.9 146.1L133.0 146.7L131.1 147.3L129.1 147.9L127.2 148.5L125.3 149.2L123.4 149.8L121.5 150.5L119.6 151.2L117.7 151.9L115.8 152.7L113.9 153.4L112.1 154.2L110.2 155.0" fill="none" stroke="#2a2aee" stroke-width="2.5" stroke-dasharray="2.5,8" stroke-linejoin="round" clip-path="url(#ca)"/>
<path d="M110.2 135.5L110.2 120.0L110.2 120.0L111.5 118.2L112.8 116.6L114.2 115.0L115.6 113.6L117.1 112.2L118.7 111.0L120.2 109.8L121.9 108.8L123.5 107.8L125.2 106.9L127.0 106.1L128.7 105.3L130.6 104.6L132.4 104.0L134.3 103.5L136.2 102.9L138.1 102.5L140.0 102.1L142.0 101.7L143.9 101.4L145.9 101.1L147.9 100.9L149.9 100.6L151.9 100.4L153.9 100.3L156.0 100.1L158.0 99.9L160.0 99.8L162.0 99.6L164.0 99.5L166.1 99.4L168.1 99.3L170.1 99.2L172.2 99.1L174.2 99.0L176.2 99.0L178.2 98.9L180.3 98.9L182.3 98.8L184.3 98.8L186.4 98.7L188.4 98.7L190.4 98.7L192.5 98.7L194.5 98.7L196.5 98.6L198.6 98.6L200.6 98.6L202.6 98.6L204.7 98.7L206.7 98.7L208.7 98.7L210.8 98.7L212.8 98.7L214.8 98.7L216.9 98.7L218.9 98.8L220.9 98.8L223.0 98.8L225.0 98.8L227.0 98.8L229.1 98.8L231.1 98.8L233.1 98.8L235.2 98.8L237.2 98.8L239.2 98.8L241.2 98.8L243.3 98.8L245.3 98.8L247.3 98.8L249.3 98.8L251.4 98.8L253.4 98.8L255.4 98.8L257.4 98.8L259.5 98.7L261.5 98.7L263.5 98.7L265.5 98.7L267.6 98.6L269.6 98.6L271.6 98.6L273.6 98.5L275.6 98.5L277.7 98.5L279.7 98.4L281.7 98.4L283.7 98.4L285.7 98.3L287.7 98.3L289.8 98.2L291.8 98.2L293.8 98.1L295.8 98.1L297.8 98.0L299.9 98.0L301.9 97.9L303.9 97.8L305.9 97.8L307.9 97.7L309.9 97.7L312.0 97.6L314.0 97.5L316.0 97.5L318.0 97.4L320.0 97.3L322.1 97.3L324.1 97.2L326.1 97.1L328.1 97.1L330.1 97.0L332.2 96.9L334.2 96.8L336.2 96.8L338.2 96.7L340.2 96.6L342.3 96.5L344.3 96.5L346.3 96.4L348.3 96.3L350.3 96.2L352.4 96.1L354.4 96.1L356.4 96.0L358.4 95.9L360.5 95.8L362.5 95.7L364.5 95.6L366.6 95.5L368.6 95.5L370.6 95.4L372.6 95.3L374.7 95.2L376.7 95.1L376.7 95.1L376.7 103.0L376.7 103.0L374.9 103.8L373.0 104.6L371.1 105.4L369.2 106.1L367.3 106.8L365.4 107.4L363.5 108.0L361.6 108.5L359.7 109.0L357.8 109.5L355.8 110.0L353.9 110.4L351.9 110.8L350.0 111.2L348.0 111.5L346.0 111.8L344.1 112.1L342.1 112.4L340.1 112.6L338.1 112.9L336.1 113.1L334.1 113.3L332.1 113.4L330.1 113.6L328.1 113.8L326.1 113.9L324.1 114.0L322.1 114.1L320.1 114.3L318.0 114.4L316.0 114.5L314.0 114.6L312.0 114.7L310.0 114.7L307.9 114.8L305.9 114.9L303.9 115.0L301.9 115.1L299.9 115.2L297.9 115.3L295.8 115.4L293.8 115.5L291.8 115.6L289.8 115.7L287.8 115.8L285.8 115.9L283.8 116.0L281.7 116.1L279.7 116.2L277.7 116.3L275.7 116.5L273.7 116.6L271.7 116.7L269.7 116.8L267.7 116.9L265.7 117.0L263.6 117.1L261.6 117.2L259.6 117.4L257.6 117.5L255.6 117.6L253.6 117.7L251.6 117.8L249.6 117.9L247.5 118.0L245.5 118.1L243.5 118.2L241.5 118.3L239.5 118.4L237.5 118.5L235.5 118.7L233.4 118.8L231.4 118.8L229.4 118.9L227.4 119.0L225.4 119.1L223.3 119.2L221.3 119.3L219.3 119.4L217.3 119.5L215.3 119.6L213.2 119.7L211.2 119.8L209.2 119.9L207.2 120.0L205.2 120.1L203.1 120.2L201.1 120.3L199.1 120.4L197.1 120.5L195.1 120.6L193.1 120.7L191.0 120.9L189.0 121.0L187.0 121.1L185.0 121.3L183.0 121.4L181.0 121.6L179.0 121.7L177.0 121.9L174.9 122.1L172.9 122.3L170.9 122.5L168.9 122.7L166.9 122.9L164.9 123.2L163.0 123.4L161.0 123.7L159.0 123.9L157.0 124.2L155.0 124.5L153.0 124.8L151.0 125.1L149.1 125.4L147.1 125.8L145.1 126.1L143.1 126.5L141.2 126.9L139.2 127.3L137.2 127.7L135.3 128.2L133.3 128.6L131.4 129.1L129.4 129.6L127.5 130.1L125.6 130.6L123.6 131.1L121.7 131.7L119.8 132.3L117.8 132.9L115.9 133.5L114.0 134.1L112.1 134.8L110.2 135.5" fill="none" stroke="#ee2a2a" stroke-width="2.5" stroke-dasharray="8,5" stroke-linejoin="round" clip-path="url(#ca)"/>
<path d="M110.2 128.1L110.2 120.7L110.2 120.7L111.6 119.1L113.0 117.6L114.5 116.2L116.0 114.9L117.6 113.8L119.2 112.7L120.9 111.7L122.6 110.8L124.3 109.9L126.1 109.2L127.9 108.5L129.7 107.9L131.6 107.3L133.5 106.8L135.4 106.4L137.4 106.0L139.3 105.7L141.3 105.4L143.3 105.1L145.3 104.9L147.3 104.7L149.4 104.5L151.4 104.4L153.4 104.2L155.5 104.1L157.5 104.0L159.6 103.9L161.6 103.8L163.6 103.7L165.7 103.7L167.7 103.6L169.7 103.5L171.8 103.5L173.8 103.4L175.9 103.4L177.9 103.4L179.9 103.3L182.0 103.3L184.0 103.3L186.0 103.3L188.1 103.2L190.1 103.2L192.2 103.2L194.2 103.2L196.2 103.2L198.3 103.2L200.3 103.2L202.3 103.2L204.4 103.2L206.4 103.3L208.4 103.3L210.5 103.3L212.5 103.3L214.5 103.3L216.6 103.3L218.6 103.3L220.6 103.3L222.7 103.3L224.7 103.3L226.7 103.3L228.7 103.3L230.8 103.3L232.8 103.3L234.8 103.3L236.9 103.3L238.9 103.3L240.9 103.3L243.0 103.3L245.0 103.3L247.0 103.2L249.0 103.2L251.1 103.2L253.1 103.1L255.1 103.1L257.1 103.1L259.2 103.0L261.2 103.0L263.2 103.0L265.2 102.9L267.3 102.9L269.3 102.8L271.3 102.8L273.3 102.7L275.4 102.7L277.4 102.6L279.4 102.6L281.4 102.5L283.5 102.5L285.5 102.4L287.5 102.4L289.5 102.3L291.6 102.2L293.6 102.2L295.6 102.1L297.6 102.0L299.7 102.0L301.7 101.9L303.7 101.9L305.7 101.8L307.8 101.7L309.8 101.7L311.8 101.6L313.8 101.5L315.9 101.4L317.9 101.4L319.9 101.3L321.9 101.2L324.0 101.2L326.0 101.1L328.0 101.0L330.0 101.0L332.1 100.9L334.1 100.8L336.1 100.7L338.1 100.7L340.2 100.6L342.2 100.5L344.2 100.5L346.3 100.4L348.3 100.3L350.3 100.3L352.3 100.2L354.4 100.1L356.4 100.1L358.4 100.0L360.5 100.0L362.5 99.9L364.5 99.8L366.5 99.8L368.6 99.7L370.6 99.7L372.6 99.6L374.7 99.6L376.7 99.5L376.7 99.5L376.7 103.8L376.7 103.8L374.8 104.4L372.8 104.9L370.9 105.4L368.9 105.9L367.0 106.3L365.0 106.8L363.1 107.2L361.1 107.5L359.1 107.9L357.1 108.2L355.2 108.5L353.2 108.8L351.2 109.1L349.2 109.3L347.2 109.5L345.2 109.7L343.2 109.9L341.2 110.1L339.1 110.3L337.1 110.4L335.1 110.6L333.1 110.7L331.1 110.8L329.0 110.9L327.0 111.0L325.0 111.1L323.0 111.2L320.9 111.3L318.9 111.3L316.9 111.4L314.8 111.5L312.8 111.5L310.8 111.6L308.7 111.7L306.7 111.7L304.7 111.8L302.7 111.8L300.6 111.9L298.6 112.0L296.6 112.1L294.5 112.1L292.5 112.2L290.5 112.3L288.5 112.4L286.5 112.5L284.4 112.5L282.4 112.6L280.4 112.7L278.4 112.8L276.4 112.9L274.3 113.0L272.3 113.0L270.3 113.1L268.3 113.2L266.3 113.3L264.2 113.4L262.2 113.5L260.2 113.5L258.2 113.6L256.2 113.7L254.1 113.8L252.1 113.9L250.1 113.9L248.1 114.0L246.1 114.1L244.0 114.1L242.0 114.2L240.0 114.3L238.0 114.3L235.9 114.4L233.9 114.4L231.9 114.5L229.9 114.5L227.8 114.6L225.8 114.6L223.8 114.6L221.7 114.7L219.7 114.7L217.7 114.7L215.7 114.7L213.6 114.8L211.6 114.8L209.5 114.8L207.5 114.8L205.5 114.9L203.4 114.9L201.4 114.9L199.4 114.9L197.3 115.0L195.3 115.0L193.3 115.0L191.2 115.1L189.2 115.1L187.2 115.2L185.2 115.3L183.1 115.3L181.1 115.4L179.1 115.5L177.0 115.5L175.0 115.6L173.0 115.7L171.0 115.8L168.9 116.0L166.9 116.1L164.9 116.2L162.9 116.4L160.9 116.5L158.9 116.7L156.9 116.9L154.8 117.1L152.8 117.3L150.8 117.5L148.8 117.7L146.8 118.0L144.8 118.2L142.9 118.5L140.9 118.8L138.9 119.2L136.9 119.5L135.0 119.9L133.0 120.3L131.1 120.8L129.1 121.3L127.2 121.8L125.2 122.3L123.3 122.9L121.4 123.5L119.5 124.2L117.6 124.9L115.8 125.6L113.9 126.4L112.0 127.2L110.2 128.1" fill="none" stroke="#1c1c1c" stroke-width="2.6" stroke-linejoin="round" clip-path="url(#ca)"/>
<path d="M531.4 239.7L531.6 177.0" fill="none" stroke="#ee22ee" stroke-width="2.5" stroke-dasharray="9,3,2.5,3" stroke-linejoin="round" clip-path="url(#cb)"/>
<path d="M531.6 177.0L531.9 175.0L532.1 173.0L532.3 171.1L532.6 169.1L532.8 167.1L533.0 165.1L533.2 163.1L533.3 161.1L533.5 159.1L533.7 157.1L533.8 155.1L533.9 153.1L534.1 151.1L534.2 149.0L534.3 147.0L534.5 145.0L534.6 143.0L534.7 141.0L534.9 139.0L535.0 136.9L535.1 134.9L535.3 132.9L535.4 130.9L535.6 128.9L535.7 126.8L535.9 124.8L536.1 122.8L536.3 120.8L536.5 118.8L536.7 116.7L536.9 114.7L537.1 112.7L537.4 110.7L537.7 108.7L538.0 106.7L538.3 104.7L538.6 102.7L538.9 100.7L539.3 98.7L539.7 96.7L540.1 94.7L540.6 92.7L541.0 90.7L541.5 88.7L542.0 86.8L542.6 84.8L543.2 82.8L543.8 80.9L544.4 78.9L545.1 77.0L545.8 75.0L546.6 73.1L547.4 71.2L548.2 69.4L549.1 67.5L550.0 65.7L551.0 64.0L552.0 62.3L553.1 60.6L554.2 59.0L555.4 57.5L556.6 56.0L557.9 54.6L559.3 53.2L560.7 52.0L562.2 50.8L563.8 49.7L565.4 48.7L567.1 47.7L568.8 46.9L570.6 46.0L572.4 45.3L574.2 44.6L576.1 44.0L578.0 43.4L580.0 42.8L581.9 42.3L583.9 41.9L585.9 41.4L587.9 41.0L590.0 40.7L592.0 40.3L594.0 40.0L596.0 39.7L598.0 39.4L600.1 39.1L602.1 38.9L604.1 38.7L606.1 38.4L608.1 38.2L610.2 38.1L612.2 37.9L614.2 37.7L616.2 37.6L618.2 37.5L620.3 37.4L622.3 37.3L624.3 37.2L626.3 37.1L628.3 37.1L630.4 37.0L632.4 37.0L634.4 36.9L636.4 36.9L638.4 36.9L640.5 36.9L642.5 36.9L644.5 36.9L646.5 36.9L648.5 36.9L650.6 36.9L652.6 36.9L654.6 36.9L656.6 37.0L658.6 37.0L660.7 37.0L662.7 37.0L664.7 37.1L666.7 37.1L668.7 37.1L670.7 37.1L672.8 37.2L674.8 37.2L676.8 37.2L678.8 37.2L680.8 37.2L682.8 37.2L684.9 37.2L686.9 37.2L688.9 37.2L690.9 37.2L692.9 37.1L694.9 37.1L696.9 37.1L699.0 37.0L701.0 37.0L703.0 36.9L705.0 36.9L707.0 36.8L709.0 36.7L711.0 36.7L713.1 36.6L715.1 36.5L717.1 36.4L719.1 36.4L721.1 36.3L723.1 36.2L725.1 36.1L727.1 36.0L729.2 35.9L731.2 35.8L733.2 35.7L735.2 35.6L737.2 35.5L739.2 35.4L741.2 35.3L743.2 35.2L745.3 35.2L747.3 35.1L749.3 35.0L751.3 34.9L753.3 34.8L755.3 34.7L757.3 34.6L759.4 34.5L761.4 34.4L763.4 34.3L765.4 34.2L767.4 34.1L769.4 34.1L771.4 34.0L773.5 33.9L775.5 33.8L777.5 33.8L779.5 33.7L781.5 33.6L783.5 33.6L785.6 33.5L787.6 33.5L789.6 33.4L791.6 33.4L793.6 33.4L795.6 33.3L797.7 33.3L799.7 33.3L801.7 33.3" fill="none" stroke="#ee22ee" stroke-width="2.5" stroke-linejoin="round" clip-path="url(#cb)"/>
<path d="M801.7 33.3L800.5 119.8" fill="none" stroke="#ee22ee" stroke-width="2.5" stroke-dasharray="9,3,2.5,3" stroke-linejoin="round" clip-path="url(#cb)"/>
<path d="M800.5 119.8L799.4 121.5L798.4 123.3L797.6 125.0L796.9 126.9L796.3 128.8L795.8 130.7L795.3 132.6L794.9 134.6L794.6 136.7L794.3 138.7L794.0 140.9L793.8 143.0L793.5 145.2L793.2 147.4L792.9 149.6L792.5 151.8L792.0 153.9L791.4 155.9L790.7 157.8L789.8 159.5L788.9 161.2L787.8 162.8L786.7 164.3L785.4 165.8L784.1 167.1L782.7 168.4L781.2 169.6L779.6 170.7L778.0 171.8L776.3 172.8L774.6 173.8L772.8 174.7L771.0 175.6L769.2 176.4L767.3 177.2L765.4 177.9L763.5 178.7L761.5 179.4L759.6 180.0L757.6 180.7L755.7 181.4L753.8 182.0L751.8 182.6L749.9 183.2L747.9 183.8L746.0 184.3L744.0 184.9L742.0 185.4L740.1 186.0L738.1 186.5L736.2 187.0L734.2 187.5L732.2 187.9L730.3 188.4L728.3 188.9L726.3 189.3L724.4 189.8L722.4 190.2L720.4 190.6L718.4 191.0L716.5 191.4L714.5 191.8L712.5 192.2L710.5 192.6L708.5 193.0L706.6 193.3L704.6 193.7L702.6 194.1L700.6 194.4L698.6 194.8L696.6 195.1L694.7 195.5L692.7 195.8L690.7 196.2L688.7 196.5L686.7 196.9L684.7 197.2L682.7 197.6L680.7 197.9L678.7 198.3L676.7 198.6L674.7 198.9L672.8 199.3L670.8 199.6L668.8 200.0L666.8 200.3L664.8 200.7L662.8 201.1L660.8 201.4L658.8 201.8L656.8 202.1L654.8 202.5L652.8 202.9L650.8 203.2L648.9 203.6L646.9 204.0L644.9 204.4L642.9 204.7L640.9 205.1L638.9 205.5L636.9 205.9L634.9 206.3L633.0 206.7L631.0 207.1L629.0 207.5L627.0 207.9L625.1 208.4L623.1 208.8L621.1 209.2L619.1 209.7L617.2 210.1L615.2 210.6L613.2 211.0L611.3 211.5L609.3 212.0L607.3 212.5L605.4 212.9L603.4 213.4L601.5 213.9L599.5 214.5L597.6 215.0L595.6 215.5L593.7 216.0L591.7 216.6L589.8 217.1L587.9 217.7L585.9 218.3L584.0 218.8L582.1 219.4L580.1 220.0L578.2 220.6L576.3 221.3L574.4 221.9L572.5 222.5L570.6 223.2L568.7 223.9L566.8 224.5L564.9 225.2L563.0 225.9L561.1 226.6L559.2 227.3L557.3 228.1L555.4 228.8L553.6 229.6L551.7 230.3L549.8 231.1L548.0 231.9L546.1 232.7L544.3 233.6L542.4 234.4L540.6 235.2L538.7 236.1L536.9 237.0L535.0 237.9L533.2 238.8L531.4 239.7" fill="none" stroke="#ee22ee" stroke-width="2.5" stroke-linejoin="round" clip-path="url(#cb)"/>
<path d="M531.1 176.9C531.5 168.0 532.7 135.1 533.8 123.4C534.9 111.7 536.9 109.6 537.5 106.8L537.5 106.8L538.8 105.2L540.2 103.6L541.6 102.2L543.1 100.8L544.6 99.6L546.2 98.4L547.8 97.3L549.5 96.3L551.1 95.3L552.9 94.4L554.6 93.6L556.4 92.8L558.3 92.1L560.1 91.5L562.0 90.9L563.9 90.3L565.9 89.8L567.8 89.4L569.8 88.9L571.7 88.6L573.7 88.2L575.7 87.9L577.7 87.6L579.8 87.3L581.8 87.1L583.8 86.8L585.8 86.6L587.8 86.4L589.9 86.2L591.9 86.0L593.9 85.9L595.9 85.7L598.0 85.6L600.0 85.5L602.0 85.4L604.1 85.3L606.1 85.2L608.2 85.1L610.2 85.1L612.2 85.0L614.3 85.0L616.3 84.9L618.4 84.9L620.4 84.9L622.5 84.9L624.5 84.8L626.5 84.8L628.6 84.8L630.6 84.8L632.7 84.8L634.7 84.8L636.8 84.8L638.8 84.8L640.8 84.8L642.9 84.8L644.9 84.8L647.0 84.7L649.0 84.7L651.0 84.7L653.1 84.7L655.1 84.7L657.1 84.7L659.2 84.7L661.2 84.6L663.2 84.6L665.3 84.6L667.3 84.6L669.3 84.5L671.3 84.5L673.4 84.5L675.4 84.5L677.4 84.4L679.4 84.4L681.5 84.4L683.5 84.3L685.5 84.3L687.5 84.3L689.6 84.3L691.6 84.2L693.6 84.2L695.6 84.2L697.7 84.1L699.7 84.1L701.7 84.1L703.7 84.0L705.7 84.0L707.8 84.0L709.8 83.9L711.8 83.9L713.8 83.8L715.8 83.8L717.9 83.8L719.9 83.7L721.9 83.7L723.9 83.7L725.9 83.6L728.0 83.6L730.0 83.6L732.0 83.5L734.0 83.5L736.1 83.5L738.1 83.4L740.1 83.4L742.1 83.4L744.1 83.3L746.2 83.3L748.2 83.3L750.2 83.2L752.2 83.2L754.3 83.2L756.3 83.2L758.3 83.1L760.3 83.1L762.4 83.1L764.4 83.0L766.4 83.0L768.5 83.0L770.5 83.0L772.5 83.0L774.6 82.9L776.6 82.9L778.6 82.9L780.7 82.9L782.7 82.9L784.7 82.9L786.8 82.8L788.8 82.8L790.8 82.8L792.9 82.8L794.9 82.8L797.0 82.8L799.0 82.8L799.0 82.8C799.3 84.0 800.8 83.0 801.0 90.0C801.2 97.0 800.6 119.2 800.5 125.0L800.5 125.0L799.9 127.0L799.1 128.9L798.1 130.7L797.0 132.3L795.9 133.7L794.5 135.0L793.1 136.3L791.6 137.4L790.1 138.4L788.4 139.3L786.7 140.1L784.9 140.9L783.0 141.5L781.1 142.2L779.2 142.8L777.3 143.3L775.3 143.8L773.3 144.3L771.4 144.7L769.4 145.2L767.4 145.6L765.4 145.9L763.4 146.3L761.4 146.6L759.3 147.0L757.3 147.3L755.3 147.6L753.3 147.9L751.2 148.1L749.2 148.4L747.2 148.6L745.1 148.9L743.1 149.1L741.0 149.3L739.0 149.6L737.0 149.8L735.0 150.0L732.9 150.2L730.9 150.5L728.9 150.7L726.9 150.9L724.9 151.1L722.8 151.3L720.8 151.5L718.8 151.7L716.8 151.9L714.8 152.1L712.8 152.3L710.8 152.5L708.8 152.7L706.8 152.9L704.8 153.1L702.8 153.3L700.8 153.5L698.8 153.7L696.8 153.9L694.8 154.1L692.8 154.3L690.8 154.4L688.8 154.6L686.8 154.8L684.8 155.0L682.8 155.2L680.8 155.3L678.8 155.5L676.8 155.7L674.8 155.9L672.8 156.0L670.8 156.2L668.7 156.4L666.7 156.5L664.7 156.7L662.7 156.8L660.7 157.0L658.7 157.2L656.7 157.3L654.7 157.5L652.7 157.7L650.6 157.8L648.6 158.0L646.6 158.2L644.6 158.3L642.6 158.5L640.6 158.7L638.5 158.9L636.5 159.0L634.5 159.2L632.5 159.4L630.5 159.6L628.5 159.8L626.5 160.0L624.4 160.2L622.4 160.4L620.4 160.6L618.4 160.8L616.4 161.0L614.4 161.2L612.4 161.4L610.4 161.6L608.3 161.9L606.3 162.1L604.3 162.4L602.3 162.6L600.3 162.9L598.3 163.1L596.3 163.4L594.3 163.6L592.3 163.9L590.3 164.2L588.3 164.5L586.3 164.8L584.3 165.1L582.3 165.4L580.3 165.7L578.3 166.1L576.3 166.4L574.3 166.7L572.3 167.1L570.4 167.5L568.4 167.8L566.4 168.2L564.4 168.6L562.4 169.0L560.5 169.4L558.5 169.8L556.5 170.3L554.5 170.7L552.6 171.2L550.6 171.6L548.6 172.1L546.7 172.6L544.7 173.1L542.8 173.6L540.8 174.1L538.9 174.6L536.9 175.2L535.0 175.7L533.0 176.3L531.1 176.9" fill="none" stroke="#2a2aee" stroke-width="2.5" stroke-dasharray="2.2,1.6" stroke-linejoin="round" clip-path="url(#cb)"/>
<path d="M531.1 153.8C531.2 149.0 530.9 131.6 531.5 125.0C532.1 118.4 534.2 115.9 534.8 114.1L534.8 114.1L536.6 113.2L538.4 112.3L540.2 111.5L542.1 110.7L543.9 109.9L545.8 109.3L547.7 108.6L549.6 108.0L551.5 107.4L553.4 106.9L555.3 106.4L557.2 106.0L559.2 105.6L561.1 105.2L563.1 104.8L565.0 104.5L567.0 104.2L569.0 103.9L570.9 103.7L572.9 103.4L574.9 103.2L576.9 103.0L578.9 102.9L580.9 102.7L582.9 102.6L584.9 102.5L587.0 102.4L589.0 102.3L591.0 102.2L593.0 102.1L595.0 102.0L597.1 102.0L599.1 101.9L601.1 101.9L603.1 101.8L605.1 101.8L607.2 101.7L609.2 101.7L611.2 101.6L613.2 101.6L615.3 101.6L617.3 101.5L619.3 101.5L621.3 101.5L623.3 101.5L625.4 101.5L627.4 101.5L629.4 101.4L631.4 101.4L633.5 101.4L635.5 101.4L637.5 101.4L639.5 101.4L641.5 101.4L643.6 101.4L645.6 101.4L647.6 101.4L649.6 101.4L651.7 101.4L653.7 101.4L655.7 101.3L657.7 101.3L659.7 101.3L661.8 101.3L663.8 101.3L665.8 101.3L667.8 101.3L669.8 101.3L671.8 101.2L673.9 101.2L675.9 101.2L677.9 101.2L679.9 101.2L681.9 101.1L683.9 101.1L685.9 101.1L688.0 101.1L690.0 101.1L692.0 101.0L694.0 101.0L696.0 101.0L698.0 101.0L700.0 100.9L702.1 100.9L704.1 100.9L706.1 100.9L708.1 100.8L710.1 100.8L712.1 100.8L714.1 100.7L716.1 100.7L718.2 100.7L720.2 100.7L722.2 100.6L724.2 100.6L726.2 100.6L728.2 100.5L730.2 100.5L732.2 100.5L734.3 100.4L736.3 100.4L738.3 100.4L740.3 100.3L742.3 100.3L744.3 100.3L746.3 100.2L748.3 100.2L750.4 100.2L752.4 100.2L754.4 100.1L756.4 100.1L758.4 100.1L760.4 100.0L762.4 100.0L764.5 100.0L766.5 99.9L768.5 99.9L770.5 99.9L772.5 99.9L774.5 99.8L776.6 99.8L778.6 99.8L780.6 99.7L782.6 99.7L784.6 99.7L786.7 99.7L788.7 99.6L790.7 99.6L792.7 99.6L794.7 99.6L796.8 99.5L798.8 99.5L800.8 99.5L800.8 99.5C800.9 100.7 802.6 102.0 801.7 106.9C800.8 111.8 796.4 125.4 795.3 129.1L795.3 129.1L793.3 129.4L791.3 129.7L789.3 130.0L787.3 130.2L785.3 130.5L783.3 130.8L781.2 131.0L779.2 131.3L777.2 131.5L775.2 131.7L773.2 132.0L771.2 132.2L769.2 132.4L767.2 132.6L765.1 132.8L763.1 133.0L761.1 133.2L759.1 133.4L757.1 133.6L755.1 133.8L753.0 134.0L751.0 134.2L749.0 134.3L747.0 134.5L745.0 134.7L742.9 134.8L740.9 135.0L738.9 135.1L736.9 135.3L734.8 135.4L732.8 135.6L730.8 135.7L728.8 135.9L726.7 136.0L724.7 136.1L722.7 136.3L720.7 136.4L718.6 136.5L716.6 136.6L714.6 136.8L712.6 136.9L710.5 137.0L708.5 137.1L706.5 137.2L704.5 137.3L702.4 137.4L700.4 137.6L698.4 137.7L696.3 137.8L694.3 137.9L692.3 138.0L690.3 138.1L688.2 138.2L686.2 138.3L684.2 138.4L682.1 138.5L680.1 138.6L678.1 138.7L676.1 138.8L674.0 138.9L672.0 139.0L670.0 139.1L667.9 139.2L665.9 139.3L663.9 139.4L661.9 139.5L659.8 139.6L657.8 139.7L655.8 139.8L653.7 140.0L651.7 140.1L649.7 140.2L647.7 140.3L645.6 140.4L643.6 140.5L641.6 140.6L639.6 140.8L637.5 140.9L635.5 141.0L633.5 141.2L631.5 141.3L629.4 141.4L627.4 141.6L625.4 141.7L623.4 141.8L621.4 142.0L619.3 142.1L617.3 142.3L615.3 142.4L613.3 142.6L611.3 142.8L609.2 142.9L607.2 143.1L605.2 143.3L603.2 143.5L601.2 143.7L599.1 143.8L597.1 144.0L595.1 144.2L593.1 144.4L591.1 144.7L589.1 144.9L587.1 145.1L585.1 145.3L583.0 145.5L581.0 145.8L579.0 146.0L577.0 146.3L575.0 146.5L573.0 146.8L571.0 147.0L569.0 147.3L567.0 147.6L565.0 147.9L563.0 148.2L561.0 148.5L559.0 148.8L557.0 149.1L555.0 149.4L553.0 149.7L551.0 150.0L549.0 150.4L547.0 150.7L545.0 151.1L543.0 151.4L541.0 151.8L539.0 152.2L537.1 152.6L535.1 153.0L533.1 153.4L531.1 153.8" fill="none" stroke="#ee2a2a" stroke-width="2.5" stroke-dasharray="3,1.6" stroke-linejoin="round" clip-path="url(#cb)"/>
<path d="M531.1 139.0L531.1 128.9L531.1 128.9L531.5 126.7L532.2 124.6L533.0 122.8L534.0 121.2L535.2 119.7L536.5 118.5L537.9 117.3L539.4 116.3L541.1 115.5L542.8 114.7L544.6 114.0L546.4 113.4L548.3 112.9L550.2 112.5L552.1 112.1L554.0 111.8L556.0 111.5L558.0 111.3L560.1 111.1L562.1 110.9L564.1 110.8L566.2 110.7L568.3 110.7L570.4 110.6L572.5 110.6L574.6 110.6L576.6 110.6L578.7 110.6L580.8 110.6L582.9 110.6L585.0 110.6L587.0 110.6L589.1 110.6L591.2 110.6L593.2 110.6L595.3 110.6L597.3 110.6L599.4 110.6L601.4 110.6L603.4 110.6L605.5 110.6L607.5 110.6L609.5 110.6L611.5 110.6L613.5 110.5L615.6 110.5L617.6 110.5L619.6 110.5L621.6 110.5L623.6 110.5L625.6 110.5L627.6 110.5L629.6 110.4L631.6 110.4L633.6 110.4L635.6 110.4L637.6 110.4L639.6 110.4L641.6 110.4L643.6 110.3L645.6 110.3L647.6 110.3L649.6 110.3L651.6 110.3L653.6 110.3L655.6 110.3L657.6 110.3L659.6 110.2L661.6 110.2L663.6 110.2L665.6 110.2L667.7 110.2L669.7 110.2L671.7 110.2L673.7 110.2L675.7 110.2L677.7 110.2L679.7 110.2L681.8 110.2L683.8 110.2L685.8 110.2L687.8 110.2L689.8 110.2L691.9 110.1L693.9 110.1L695.9 110.1L697.9 110.1L700.0 110.1L702.0 110.1L704.0 110.1L706.0 110.1L708.1 110.1L710.1 110.1L712.1 110.1L714.1 110.1L716.2 110.1L718.2 110.1L720.2 110.1L722.3 110.1L724.3 110.1L726.3 110.1L728.3 110.1L730.4 110.1L732.4 110.1L734.4 110.1L736.4 110.1L738.5 110.1L740.5 110.1L742.5 110.0L744.6 110.0L746.6 110.0L748.6 110.0L750.6 110.0L752.7 110.0L754.7 110.0L756.7 110.0L758.7 110.0L760.7 110.0L762.8 109.9L764.8 109.9L766.8 109.9L768.8 109.9L770.8 109.9L772.9 109.9L774.9 109.9L776.9 109.8L778.9 109.8L780.9 109.8L782.9 109.8L785.0 109.8L787.0 109.7L789.0 109.7L791.0 109.7L793.0 109.7L795.0 109.7L797.0 109.6L799.0 109.6L799.0 109.6L800.1 110.1L801.0 110.6L801.7 111.3L802.2 112.1L802.5 113.0L802.6 113.9L802.6 114.9L802.5 115.9L802.2 116.9L801.8 118.0L801.3 119.0L800.7 119.9L800.0 120.9L799.3 121.7L798.6 122.5L797.8 123.2L796.9 123.7L796.1 124.1L795.3 124.4L795.3 124.4L793.3 124.6L791.3 124.8L789.3 125.0L787.3 125.2L785.2 125.4L783.2 125.6L781.2 125.7L779.2 125.9L777.2 126.1L775.2 126.3L773.2 126.4L771.2 126.6L769.1 126.7L767.1 126.9L765.1 127.0L763.1 127.2L761.1 127.3L759.1 127.5L757.1 127.6L755.0 127.7L753.0 127.9L751.0 128.0L749.0 128.1L747.0 128.2L745.0 128.4L742.9 128.5L740.9 128.6L738.9 128.7L736.9 128.8L734.9 128.9L732.9 129.0L730.8 129.1L728.8 129.2L726.8 129.3L724.8 129.4L722.8 129.5L720.8 129.6L718.7 129.7L716.7 129.8L714.7 129.8L712.7 129.9L710.7 130.0L708.6 130.1L706.6 130.2L704.6 130.2L702.6 130.3L700.6 130.4L698.6 130.5L696.5 130.5L694.5 130.6L692.5 130.7L690.5 130.8L688.5 130.8L686.4 130.9L684.4 131.0L682.4 131.0L680.4 131.1L678.4 131.2L676.3 131.2L674.3 131.3L672.3 131.3L670.3 131.4L668.3 131.5L666.2 131.5L664.2 131.6L662.2 131.7L660.2 131.7L658.2 131.8L656.1 131.8L654.1 131.9L652.1 132.0L650.1 132.0L648.1 132.1L646.0 132.2L644.0 132.2L642.0 132.3L640.0 132.4L638.0 132.4L635.9 132.5L633.9 132.6L631.9 132.6L629.9 132.7L627.9 132.8L625.8 132.9L623.8 132.9L621.8 133.0L619.8 133.1L617.8 133.2L615.7 133.3L613.7 133.3L611.7 133.4L609.7 133.5L607.7 133.6L605.7 133.7L603.6 133.8L601.6 133.9L599.6 134.0L597.6 134.1L595.6 134.2L593.5 134.3L591.5 134.4L589.5 134.5L587.5 134.6L585.5 134.7L583.5 134.8L581.4 135.0L579.4 135.1L577.4 135.2L575.4 135.3L573.4 135.5L571.4 135.6L569.4 135.7L567.3 135.9L565.3 136.0L563.3 136.2L561.3 136.3L559.3 136.5L557.3 136.6L555.2 136.8L553.2 136.9L551.2 137.1L549.2 137.3L547.2 137.5L545.2 137.6L543.2 137.8L541.2 138.0L539.1 138.2L537.1 138.4L535.1 138.6L533.1 138.8L531.1 139.0" fill="none" stroke="#1c1c1c" stroke-width="2.6" stroke-linejoin="round" clip-path="url(#cb)"/>
<path d="M917.6 261.4L918.2 259.5L918.9 257.5L919.5 255.6L920.2 253.7L920.9 251.8L921.6 249.9L922.3 248.0L923.0 246.1L923.7 244.2L924.4 242.3L925.2 240.4L925.9 238.6L926.7 236.7L927.4 234.8L928.2 233.0L929.0 231.1L929.8 229.3L930.6 227.4L931.4 225.6L932.2 223.7L933.1 221.9L933.9 220.1L934.8 218.3L935.6 216.4L936.5 214.6L937.3 212.8L938.2 211.0L939.1 209.2L940.0 207.4L940.9 205.6L941.8 203.8L942.7 202.0L943.6 200.2L944.6 198.4L945.5 196.6L946.4 194.8L947.4 193.1L948.3 191.3L949.3 189.5L950.2 187.7L951.2 186.0L952.2 184.2L953.2 182.4L954.1 180.7L955.1 178.9L956.1 177.2L957.1 175.4L958.1 173.7L959.1 171.9L960.1 170.1L961.1 168.4L962.1 166.7L963.1 164.9L964.2 163.2L965.2 161.4L966.2 159.7L967.2 157.9L968.3 156.2L969.3 154.5L970.3 152.7L971.3 151.0L972.4 149.2L973.4 147.5L974.5 145.8L975.5 144.0L976.5 142.3L977.6 140.6L978.6 138.8L979.7 137.1L980.7 135.4L981.7 133.6L982.8 131.9L983.8 130.2L984.9 128.4L985.9 126.7L987.0 125.0L988.0 123.2L989.0 121.5L990.1 119.8L991.1 118.0L992.2 116.3L993.2 114.6L994.3 112.8L995.3 111.1L996.3 109.4L997.4 107.6L998.4 105.9L999.5 104.2L1000.5 102.4L1001.6 100.7L1002.6 99.0L1003.7 97.2L1004.7 95.5L1005.8 93.8L1006.8 92.1L1007.9 90.3L1008.9 88.6L1010.0 86.9L1011.0 85.2L1012.1 83.4L1013.2 81.7L1014.2 80.0L1015.3 78.3L1016.4 76.6L1017.4 74.9L1018.5 73.2L1019.6 71.4L1020.7 69.7L1021.7 68.0L1022.8 66.3L1023.9 64.6L1025.0 62.9L1026.1 61.2L1027.2 59.5L1028.3 57.9L1029.4 56.2L1030.5 54.5L1031.6 52.8L1032.7 51.1L1033.9 49.5L1035.0 47.8L1036.2 46.1L1037.3 44.5L1038.5 42.8L1039.6 41.2L1040.8 39.6L1042.0 38.0L1043.2 36.3L1044.4 34.7L1045.6 33.1L1046.8 31.6L1048.1 30.0L1049.3 28.4L1050.6 26.9L1051.9 25.3L1053.2 23.8L1054.5 22.3L1055.8 20.8L1057.1 19.3L1058.5 17.8L1059.8 16.3L1061.2 14.8L1062.6 13.4L1064.0 12.0L1065.5 10.6L1066.9 9.2L1068.4 7.8L1068.7 7.8L1069.0 9.8L1069.3 11.8L1069.6 13.8L1070.0 15.7L1070.3 17.7L1070.7 19.7L1071.0 21.7L1071.4 23.7L1071.8 25.6L1072.2 27.6L1072.6 29.6L1073.0 31.6L1073.4 33.5L1073.9 35.5L1074.3 37.5L1074.8 39.5L1075.3 41.4L1075.7 43.4L1076.2 45.3L1076.7 47.3L1077.2 49.3L1077.8 51.2L1078.3 53.2L1078.9 55.1L1079.4 57.0L1080.0 59.0L1080.6 60.9L1081.1 62.9L1081.7 64.8L1082.3 66.7L1083.0 68.6L1083.6 70.5L1084.2 72.4L1084.9 74.4L1085.6 76.3L1086.2 78.1L1086.9 80.0L1087.6 81.9L1088.3 83.8L1089.0 85.7L1089.8 87.5L1090.5 89.4L1091.2 91.3L1092.0 93.1L1092.8 95.0L1093.5 96.8L1094.3 98.6L1095.1 100.5L1095.9 102.3L1096.8 104.1L1097.6 105.9L1098.4 107.7L1099.3 109.5L1100.1 111.3L1101.0 113.1L1101.9 114.9L1102.8 116.7L1103.6 118.5L1104.5 120.3L1105.4 122.0L1106.4 123.8L1107.3 125.6L1108.2 127.4L1109.1 129.1L1110.1 130.9L1111.0 132.6L1112.0 134.4L1112.9 136.2L1113.9 137.9L1114.9 139.7L1115.8 141.4L1116.8 143.2L1117.8 144.9L1118.8 146.7L1119.8 148.4L1120.8 150.2L1121.8 151.9L1122.8 153.7L1123.8 155.5L1124.8 157.2L1125.8 159.0L1126.8 160.7L1127.9 162.5L1128.9 164.2L1129.9 166.0L1130.9 167.8L1132.0 169.5L1133.0 171.3L1134.0 173.1L1135.1 174.8L1136.1 176.6L1137.2 178.3L1138.2 180.1L1139.3 181.8L1140.3 183.6L1141.4 185.3L1142.5 187.1L1143.6 188.8L1144.7 190.6L1145.8 192.3L1146.9 194.0L1148.0 195.7L1149.1 197.4L1150.2 199.1L1151.4 200.8L1152.5 202.5L1153.7 204.1L1154.9 205.8L1156.1 207.4L1157.3 209.1L1158.5 210.7L1159.7 212.3L1160.9 213.9L1162.2 215.5L1163.4 217.0L1164.7 218.6L1166.0 220.1L1167.3 221.6L1168.6 223.1L1169.9 224.6L1171.2 226.1L1172.6 227.5L1174.0 228.9L1175.4 230.3L1176.8 231.7L1178.2 233.1L1179.6 234.4L1181.1 235.8L1182.6 237.1L1184.1 238.3L1185.6 239.6L1187.1 240.8L1188.7 242.0L1190.2 243.2L1191.8 244.4L1193.4 245.5L1195.1 246.6L1196.7 247.6L1198.4 248.7L1200.1 249.7L1201.8 250.6L1203.5 251.6L1205.3 252.5L1207.1 253.3L1208.9 254.2L1210.7 255.0L1212.5 255.7L1214.4 256.4L1216.2 257.1L1218.1 257.7L1220.0 258.3L1222.0 258.8L1223.9 259.3L1225.9 259.8L1227.9 260.1L1229.9 260.5L1232.0 260.8L1234.0 261.0L1236.1 261.2L1238.2 261.4L1240.4 261.5L1242.5 261.5" fill="none" stroke="#1c1c1c" stroke-width="2.5" stroke-linejoin="round" clip-path="url(#cc)"/>
<path d="M917.6 261.4L918.2 259.5L918.8 257.5L919.5 255.6L920.1 253.7L920.7 251.8L921.4 249.8L922.0 247.9L922.7 246.0L923.3 244.1L924.0 242.1L924.7 240.2L925.3 238.3L926.0 236.4L926.7 234.5L927.3 232.6L928.0 230.7L928.7 228.8L929.4 226.9L930.1 225.0L930.8 223.1L931.5 221.2L932.2 219.3L932.9 217.4L933.6 215.5L934.3 213.6L935.1 211.7L935.8 209.8L936.5 207.9L937.2 206.0L938.0 204.1L938.7 202.2L939.4 200.3L940.2 198.4L940.9 196.6L941.7 194.7L942.4 192.8L943.2 190.9L943.9 189.0L944.7 187.1L945.4 185.3L946.2 183.4L947.0 181.5L947.7 179.6L948.5 177.8L949.3 175.9L950.0 174.0L950.8 172.1L951.6 170.3L952.4 168.4L953.1 166.5L953.9 164.6L954.7 162.8L955.5 160.9L956.3 159.0L957.1 157.2L957.8 155.3L958.6 153.4L959.4 151.5L960.2 149.7L961.0 147.8L961.8 145.9L962.6 144.1L963.4 142.2L964.2 140.3L965.0 138.5L965.8 136.6L966.6 134.7L967.4 132.9L968.2 131.0L969.0 129.2L969.8 127.3L970.6 125.4L971.3 123.6L972.1 121.7L972.9 119.8L973.7 118.0L974.5 116.1L975.3 114.2L976.1 112.4L976.9 110.5L977.7 108.6L978.5 106.8L979.3 104.9L980.1 103.0L980.9 101.2L981.7 99.3L982.5 97.4L983.3 95.6L984.1 93.7L984.9 91.8L985.7 90.0L986.5 88.1L987.3 86.2L988.0 84.4L988.8 82.5L989.6 80.6L990.4 78.8L991.2 76.9L992.0 75.0L992.7 73.1L993.5 71.3L994.3 69.4L995.1 67.5L995.8 65.6L996.6 63.8L997.4 61.9L998.1 60.0L998.9 58.1L999.7 56.3L1000.4 54.4L1001.2 52.5L1001.9 50.6L1002.7 48.7L1003.4 46.8L1004.2 45.0L1004.9 43.1L1005.7 41.2L1006.4 39.3L1007.2 37.4L1007.9 35.5L1008.6 33.6L1009.3 31.7L1010.1 29.8L1010.8 27.9L1011.5 26.0L1012.2 24.1L1012.9 22.2L1013.6 20.3L1014.4 18.4L1015.1 16.5L1015.7 14.6L1016.4 12.7L1017.1 10.8L1017.8 8.9L1018.5 7.0L1018.5 7.0L1018.8 9.0L1019.1 11.0L1019.4 13.0L1019.8 15.0L1020.1 17.0L1020.5 19.0L1020.8 21.0L1021.2 23.0L1021.6 25.0L1022.0 27.0L1022.4 29.0L1022.8 31.0L1023.2 33.0L1023.6 34.9L1024.0 36.9L1024.5 38.9L1024.9 40.9L1025.4 42.8L1025.8 44.8L1026.3 46.8L1026.8 48.7L1027.3 50.7L1027.8 52.6L1028.3 54.6L1028.8 56.5L1029.3 58.5L1029.8 60.4L1030.3 62.4L1030.9 64.3L1031.4 66.3L1031.9 68.2L1032.5 70.1L1033.0 72.1L1033.6 74.0L1034.2 76.0L1034.8 77.9L1035.3 79.8L1035.9 81.8L1036.5 83.7L1037.1 85.6L1037.7 87.5L1038.3 89.5L1038.9 91.4L1039.5 93.3L1040.2 95.2L1040.8 97.1L1041.4 99.1L1042.0 101.0L1042.7 102.9L1043.3 104.8L1044.0 106.7L1044.6 108.6L1045.3 110.6L1045.9 112.5L1046.6 114.4L1047.3 116.3L1047.9 118.2L1048.6 120.1L1049.3 122.0L1049.9 123.9L1050.6 125.8L1051.3 127.8L1052.0 129.7L1052.7 131.6L1053.4 133.5L1054.0 135.4L1054.7 137.3L1055.4 139.2L1056.1 141.1L1056.8 143.0L1057.5 144.9L1058.2 146.8L1058.9 148.8L1059.6 150.7L1060.4 152.6L1061.1 154.5L1061.8 156.4L1062.5 158.3L1063.2 160.2L1064.0 162.1L1064.7 164.0L1065.4 165.9L1066.2 167.8L1066.9 169.6L1067.7 171.5L1068.5 173.4L1069.2 175.3L1070.0 177.2L1070.8 179.0L1071.6 180.9L1072.4 182.8L1073.2 184.6L1074.0 186.5L1074.8 188.3L1075.6 190.2L1076.5 192.0L1077.3 193.9L1078.2 195.7L1079.0 197.5L1079.9 199.3L1080.8 201.1L1081.7 202.9L1082.6 204.7L1083.5 206.5L1084.4 208.3L1085.4 210.1L1086.3 211.9L1087.3 213.6L1088.3 215.4L1089.3 217.1L1090.3 218.9L1091.3 220.6L1092.3 222.3L1093.4 224.0L1094.4 225.7L1095.5 227.4L1096.6 229.1L1097.7 230.7L1098.9 232.4L1100.0 234.0L1101.2 235.6L1102.4 237.3L1103.6 238.8L1104.8 240.4L1106.1 242.0L1107.3 243.5L1108.6 245.1L1109.9 246.6L1111.3 248.1L1112.7 249.6L1114.0 251.1L1115.5 252.5L1116.9 253.9L1118.4 255.4L1119.8 256.8L1121.4 258.1L1122.9 259.5" fill="none" stroke="#ee2a2a" stroke-width="2.5" stroke-dasharray="8,5" stroke-linejoin="round" clip-path="url(#cc)"/>
<path d="M917.6 261.4L917.8 259.4L918.1 257.4L918.3 255.4L918.6 253.4L918.9 251.3L919.1 249.3L919.4 247.3L919.6 245.3L919.9 243.3L920.1 241.3L920.4 239.3L920.6 237.3L920.9 235.3L921.1 233.2L921.4 231.2L921.6 229.2L921.9 227.2L922.1 225.2L922.4 223.2L922.6 221.2L922.9 219.2L923.1 217.1L923.4 215.1L923.6 213.1L923.9 211.1L924.1 209.1L924.4 207.1L924.6 205.1L924.9 203.1L925.1 201.0L925.4 199.0L925.6 197.0L925.9 195.0L926.1 193.0L926.4 191.0L926.6 189.0L926.9 187.0L927.1 184.9L927.4 182.9L927.6 180.9L927.9 178.9L928.2 176.9L928.4 174.9L928.7 172.9L928.9 170.8L929.2 168.8L929.4 166.8L929.7 164.8L929.9 162.8L930.2 160.8L930.5 158.8L930.7 156.8L931.0 154.7L931.2 152.7L931.5 150.7L931.8 148.7L932.0 146.7L932.3 144.7L932.5 142.7L932.8 140.6L933.1 138.6L933.3 136.6L933.6 134.6L933.8 132.6L934.1 130.6L934.4 128.6L934.6 126.6L934.9 124.5L935.2 122.5L935.4 120.5L935.7 118.5L936.0 116.5L936.2 114.5L936.5 112.5L936.8 110.5L937.0 108.4L937.3 106.4L937.6 104.4L937.9 102.4L938.1 100.4L938.4 98.4L938.7 96.4L939.0 94.4L939.2 92.3L939.5 90.3L939.8 88.3L940.1 86.3L940.3 84.3L940.6 82.3L940.9 80.3L941.2 78.3L941.5 76.3L941.7 74.3L942.0 72.2L942.3 70.2L942.6 68.2L942.9 66.2L943.1 64.2L943.4 62.2L943.7 60.2L944.0 58.2L944.3 56.2L944.6 54.2L944.9 52.1L945.2 50.1L945.5 48.1L945.8 46.1L946.0 44.1L946.3 42.1L946.6 40.1L946.9 38.1L947.2 36.1L947.5 34.1L947.8 32.1L948.1 30.1L948.4 28.1L948.7 26.0L949.0 24.0L949.3 22.0L949.6 20.0L949.9 18.0L950.3 16.0L950.6 14.0L950.9 12.0L951.2 10.0L951.5 8.0L951.5 8.0L951.6 10.0L951.7 12.0L951.9 14.0L952.0 16.1L952.1 18.1L952.3 20.1L952.4 22.1L952.5 24.1L952.7 26.1L952.8 28.1L952.9 30.2L953.1 32.2L953.2 34.2L953.4 36.2L953.5 38.2L953.6 40.2L953.8 42.2L953.9 44.3L954.1 46.3L954.2 48.3L954.4 50.3L954.6 52.3L954.7 54.3L954.9 56.4L955.0 58.4L955.2 60.4L955.4 62.4L955.5 64.4L955.7 66.4L955.9 68.4L956.0 70.5L956.2 72.5L956.4 74.5L956.6 76.5L956.8 78.5L956.9 80.5L957.1 82.5L957.3 84.6L957.5 86.6L957.7 88.6L957.9 90.6L958.1 92.6L958.3 94.6L958.5 96.6L958.7 98.6L958.9 100.6L959.1 102.7L959.3 104.7L959.5 106.7L959.7 108.7L960.0 110.7L960.2 112.7L960.4 114.7L960.6 116.7L960.9 118.7L961.1 120.7L961.3 122.8L961.6 124.8L961.8 126.8L962.0 128.8L962.3 130.8L962.5 132.8L962.8 134.8L963.0 136.8L963.3 138.8L963.6 140.8L963.8 142.8L964.1 144.8L964.4 146.8L964.6 148.8L964.9 150.8L965.2 152.8L965.5 154.8L965.7 156.8L966.0 158.8L966.3 160.8L966.6 162.8L966.9 164.8L967.2 166.8L967.5 168.8L967.8 170.8L968.1 172.8L968.4 174.8L968.7 176.8L969.1 178.8L969.4 180.8L969.7 182.8L970.0 184.8L970.4 186.8L970.7 188.8L971.0 190.8L971.4 192.8L971.7 194.8L972.1 196.7L972.4 198.7L972.8 200.7L973.1 202.7L973.5 204.7L973.9 206.7L974.3 208.7L974.6 210.6L975.0 212.6L975.4 214.6L975.8 216.6L976.2 218.6L976.6 220.6L977.0 222.5L977.4 224.5L977.8 226.5L978.2 228.5L978.6 230.5L979.0 232.4L979.4 234.4L979.9 236.4L980.3 238.4L980.7 240.3L981.2 242.3L981.6 244.3L982.0 246.2L982.5 248.2L983.0 250.2L983.4 252.1L983.9 254.1L984.3 256.1L984.8 258.0L985.3 260.0" fill="none" stroke="#2a2aee" stroke-width="2.5" stroke-dasharray="2.5,8" stroke-linejoin="round" clip-path="url(#cc)"/>
<path d="M917.6 261.4L917.7 259.4L917.8 257.3L917.8 255.3L917.9 253.3L918.0 251.3L918.1 249.2L918.2 247.2L918.2 245.2L918.3 243.1L918.4 241.1L918.5 239.1L918.6 237.1L918.7 235.0L918.8 233.0L918.9 231.0L919.0 228.9L919.1 226.9L919.2 224.9L919.3 222.9L919.4 220.8L919.5 218.8L919.6 216.8L919.7 214.8L919.8 212.7L919.9 210.7L920.0 208.7L920.1 206.6L920.2 204.6L920.3 202.6L920.4 200.6L920.5 198.5L920.6 196.5L920.7 194.5L920.8 192.4L920.9 190.4L921.0 188.4L921.2 186.4L921.3 184.3L921.4 182.3L921.5 180.3L921.6 178.3L921.7 176.2L921.8 174.2L922.0 172.2L922.1 170.1L922.2 168.1L922.3 166.1L922.4 164.1L922.6 162.0L922.7 160.0L922.8 158.0L922.9 156.0L923.0 153.9L923.2 151.9L923.3 149.9L923.4 147.9L923.5 145.8L923.6 143.8L923.8 141.8L923.9 139.7L924.0 137.7L924.1 135.7L924.3 133.7L924.4 131.6L924.5 129.6L924.6 127.6L924.8 125.6L924.9 123.5L925.0 121.5L925.1 119.5L925.3 117.5L925.4 115.4L925.5 113.4L925.6 111.4L925.8 109.3L925.9 107.3L926.0 105.3L926.1 103.3L926.3 101.2L926.4 99.2L926.5 97.2L926.6 95.2L926.8 93.1L926.9 91.1L927.0 89.1L927.2 87.1L927.3 85.0L927.4 83.0L927.5 81.0L927.7 78.9L927.8 76.9L927.9 74.9L928.0 72.9L928.2 70.8L928.3 68.8L928.4 66.8L928.5 64.8L928.6 62.7L928.8 60.7L928.9 58.7L929.0 56.7L929.1 54.6L929.3 52.6L929.4 50.6L929.5 48.5L929.6 46.5L929.7 44.5L929.9 42.5L930.0 40.4L930.1 38.4L930.2 36.4L930.3 34.4L930.4 32.3L930.6 30.3L930.7 28.3L930.8 26.2L930.9 24.2L931.0 22.2L931.1 20.2L931.2 18.1L931.4 16.1L931.5 14.1L931.6 12.1L931.7 10.0L931.8 8.0L932.5 8.0L932.6 10.0L932.6 12.1L932.6 14.1L932.7 16.1L932.7 18.2L932.8 20.2L932.9 22.2L932.9 24.2L933.0 26.3L933.0 28.3L933.1 30.3L933.1 32.4L933.2 34.4L933.3 36.4L933.3 38.5L933.4 40.5L933.5 42.5L933.5 44.5L933.6 46.6L933.7 48.6L933.8 50.6L933.8 52.7L933.9 54.7L934.0 56.7L934.1 58.7L934.1 60.8L934.2 62.8L934.3 64.8L934.4 66.9L934.5 68.9L934.6 70.9L934.7 72.9L934.8 75.0L934.8 77.0L934.9 79.0L935.0 81.1L935.1 83.1L935.2 85.1L935.3 87.1L935.4 89.2L935.5 91.2L935.6 93.2L935.7 95.2L935.8 97.3L935.9 99.3L936.0 101.3L936.1 103.4L936.2 105.4L936.4 107.4L936.5 109.4L936.6 111.5L936.7 113.5L936.8 115.5L936.9 117.5L937.0 119.6L937.2 121.6L937.3 123.6L937.4 125.7L937.5 127.7L937.6 129.7L937.8 131.7L937.9 133.8L938.0 135.8L938.1 137.8L938.3 139.8L938.4 141.9L938.5 143.9L938.6 145.9L938.8 147.9L938.9 150.0L939.0 152.0L939.2 154.0L939.3 156.0L939.4 158.1L939.6 160.1L939.7 162.1L939.8 164.1L940.0 166.2L940.1 168.2L940.3 170.2L940.4 172.2L940.6 174.3L940.7 176.3L940.8 178.3L941.0 180.3L941.1 182.4L941.3 184.4L941.4 186.4L941.6 188.4L941.7 190.5L941.9 192.5L942.0 194.5L942.2 196.5L942.3 198.6L942.5 200.6L942.6 202.6L942.8 204.6L942.9 206.7L943.1 208.7L943.3 210.7L943.4 212.7L943.6 214.8L943.7 216.8L943.9 218.8L944.1 220.8L944.2 222.9L944.4 224.9L944.5 226.9L944.7 228.9L944.9 231.0L945.0 233.0L945.2 235.0L945.4 237.0L945.5 239.0L945.7 241.1L945.9 243.1L946.0 245.1L946.2 247.1L946.4 249.2L946.5 251.2L946.7 253.2L946.9 255.2L947.1 257.3L947.2 259.3L947.4 261.3" fill="none" stroke="#ee22ee" stroke-width="2.5" stroke-dasharray="9,4,2.5,4" stroke-linejoin="round" clip-path="url(#cc)"/>
<path d="M108.0 536.1L108.0 415.0L108.0 415.0L108.3 413.1L108.6 411.1L108.8 409.1L109.2 407.1L109.5 405.1L109.9 403.1L110.2 401.1L110.7 399.1L111.1 397.0L111.6 395.0L112.1 393.0L112.7 391.0L113.3 389.0L113.9 387.0L114.6 385.1L115.4 383.2L116.2 381.3L117.0 379.5L118.0 377.6L118.9 375.9L120.0 374.2L121.0 372.5L122.2 370.9L123.4 369.3L124.6 367.8L125.9 366.3L127.2 364.9L128.6 363.6L130.1 362.3L131.6 361.1L133.2 359.9L134.8 358.8L136.4 357.8L138.2 356.9L139.9 356.0L141.7 355.2L143.5 354.4L145.4 353.7L147.3 353.1L149.2 352.5L151.2 352.0L153.1 351.5L155.1 351.0L157.1 350.6L159.1 350.3L161.1 349.9L163.2 349.6L165.2 349.4L167.2 349.2L169.2 349.0L171.3 348.8L173.3 348.7L175.3 348.6L177.3 348.5L179.4 348.4L181.4 348.4L183.4 348.3L185.4 348.3L187.5 348.3L189.5 348.3L191.5 348.3L193.6 348.4L195.6 348.4L197.6 348.4L199.7 348.5L201.7 348.5L203.7 348.5L205.8 348.6L207.8 348.6L209.8 348.7L211.8 348.7L213.9 348.8L215.9 348.8L217.9 348.8L220.0 348.9L222.0 348.9L224.0 348.9L226.1 349.0L228.1 349.0L230.1 349.0L232.1 349.1L234.2 349.1L236.2 349.1L238.2 349.2L240.2 349.2L242.3 349.2L244.3 349.2L246.3 349.2L248.3 349.2L250.4 349.3L252.4 349.3L254.4 349.3L256.4 349.3L258.5 349.3L260.5 349.3L262.5 349.2L264.5 349.2L266.6 349.2L268.6 349.2L270.6 349.2L272.6 349.1L274.6 349.1L276.7 349.1L278.7 349.0L280.7 349.0L282.7 348.9L284.7 348.9L286.8 348.8L288.8 348.7L290.8 348.6L292.8 348.6L294.8 348.5L296.8 348.4L298.8 348.3L300.9 348.2L302.9 348.1L304.9 347.9L306.9 347.8L308.9 347.7L310.9 347.6L312.9 347.4L314.9 347.3L316.9 347.1L319.0 346.9L321.0 346.8L323.0 346.6L325.0 346.4L327.0 346.2L329.0 346.0L331.0 345.8L333.0 345.5L335.0 345.3L337.0 345.1L339.0 344.8L341.0 344.6L343.0 344.3L345.0 344.0L347.0 343.8L349.0 343.5L351.0 343.2L353.0 342.8L355.0 342.5L357.0 342.2L359.0 341.9L361.0 341.5L363.0 341.1L365.0 340.8L367.0 340.4L368.9 340.0L370.9 339.6L372.9 339.2L374.9 338.7L376.9 338.3L376.9 338.3L376.9 431.8L376.9 431.8L376.6 433.9L376.3 435.9L375.9 438.0L375.4 440.0L374.9 442.0L374.2 444.0L373.6 446.0L372.8 447.9L372.0 449.8L371.1 451.6L370.1 453.4L369.1 455.1L368.0 456.7L366.8 458.3L365.5 459.8L364.2 461.3L362.8 462.7L361.4 464.0L359.9 465.3L358.4 466.6L356.8 467.7L355.1 468.8L353.4 469.9L351.7 470.9L350.0 471.8L348.2 472.7L346.4 473.5L344.6 474.3L342.7 475.0L340.8 475.7L338.9 476.4L337.0 477.0L335.1 477.5L333.1 478.1L331.1 478.6L329.2 479.0L327.2 479.4L325.2 479.9L323.2 480.2L321.1 480.6L319.1 480.9L317.1 481.3L315.1 481.6L313.0 481.9L311.0 482.2L309.0 482.5L306.9 482.8L304.9 483.1L302.9 483.3L300.9 483.6L298.9 483.9L296.8 484.1L294.8 484.4L292.8 484.6L290.8 484.9L288.8 485.1L286.8 485.4L284.8 485.6L282.8 485.9L280.8 486.1L278.8 486.4L276.8 486.6L274.8 486.8L272.8 487.1L270.8 487.3L268.8 487.5L266.8 487.8L264.8 488.0L262.8 488.3L260.8 488.5L258.8 488.8L256.8 489.0L254.8 489.3L252.8 489.5L250.8 489.8L248.8 490.0L246.8 490.3L244.8 490.6L242.8 490.8L240.8 491.1L238.8 491.4L236.9 491.7L234.9 492.0L232.9 492.3L230.9 492.6L228.9 492.9L226.9 493.3L224.9 493.6L222.9 493.9L220.9 494.3L218.9 494.6L216.9 495.0L214.9 495.4L213.0 495.8L211.0 496.2L209.0 496.6L207.0 497.0L205.0 497.4L203.0 497.8L201.0 498.2L199.1 498.7L197.1 499.1L195.1 499.6L193.1 500.1L191.2 500.6L189.2 501.1L187.2 501.6L185.3 502.1L183.3 502.6L181.4 503.2L179.4 503.7L177.5 504.3L175.5 504.9L173.6 505.5L171.7 506.1L169.7 506.7L167.8 507.3L165.9 507.9L164.0 508.6L162.1 509.2L160.2 509.9L158.3 510.6L156.4 511.3L154.5 512.0L152.6 512.8L150.7 513.5L148.9 514.3L147.0 515.1L145.2 515.8L143.3 516.6L141.5 517.5L139.6 518.3L137.8 519.2L136.0 520.0L134.2 520.9L132.4 521.8L130.6 522.7L128.8 523.6L127.0 524.6L125.2 525.5L123.5 526.5L121.7 527.5L120.0 528.5L118.2 529.6L116.5 530.6L114.8 531.7L113.1 532.7L111.4 533.8L109.7 535.0L108.0 536.1" fill="none" stroke="#3a8a48" stroke-width="2.5" stroke-dasharray="7,3,2.5,3,2.5,3" stroke-linejoin="round" clip-path="url(#cd)"/>
<path d="M108.0 485.9L108.0 412.0L108.0 412.0L108.9 410.0L109.9 408.1L111.0 406.3L112.2 404.5L113.4 402.9L114.7 401.3L116.1 399.9L117.5 398.5L119.0 397.2L120.6 396.0L122.2 394.8L123.8 393.8L125.5 392.8L127.2 391.9L129.0 391.0L130.8 390.2L132.7 389.5L134.5 388.9L136.4 388.3L138.4 387.7L140.3 387.2L142.3 386.7L144.3 386.3L146.3 385.9L148.3 385.6L150.3 385.2L152.3 384.9L154.3 384.6L156.3 384.4L158.3 384.1L160.4 383.9L162.4 383.7L164.4 383.5L166.4 383.3L168.4 383.1L170.5 383.0L172.5 382.8L174.5 382.7L176.5 382.6L178.5 382.5L180.6 382.4L182.6 382.3L184.6 382.3L186.6 382.2L188.7 382.2L190.7 382.2L192.7 382.1L194.8 382.1L196.8 382.1L198.8 382.1L200.8 382.1L202.9 382.1L204.9 382.1L206.9 382.1L209.0 382.2L211.0 382.2L213.0 382.2L215.0 382.2L217.1 382.3L219.1 382.3L221.1 382.3L223.2 382.4L225.2 382.4L227.2 382.4L229.2 382.5L231.3 382.5L233.3 382.5L235.3 382.6L237.4 382.6L239.4 382.6L241.4 382.6L243.5 382.6L245.5 382.6L247.5 382.6L249.5 382.6L251.6 382.6L253.6 382.6L255.6 382.6L257.7 382.6L259.7 382.6L261.7 382.6L263.7 382.6L265.8 382.6L267.8 382.5L269.8 382.5L271.9 382.5L273.9 382.4L275.9 382.4L277.9 382.4L280.0 382.3L282.0 382.3L284.0 382.2L286.1 382.2L288.1 382.1L290.1 382.0L292.1 382.0L294.2 381.9L296.2 381.8L298.2 381.7L300.2 381.7L302.3 381.6L304.3 381.5L306.3 381.4L308.3 381.3L310.4 381.2L312.4 381.1L314.4 380.9L316.4 380.8L318.4 380.7L320.5 380.6L322.5 380.4L324.5 380.3L326.5 380.2L328.5 380.0L330.6 379.9L332.6 379.7L334.6 379.5L336.6 379.4L338.6 379.2L340.7 379.0L342.7 378.8L344.7 378.6L346.7 378.5L348.7 378.3L350.7 378.1L352.8 377.8L354.8 377.6L356.8 377.4L358.8 377.2L360.8 377.0L362.8 376.7L364.8 376.5L366.9 376.2L368.9 376.0L370.9 375.7L372.9 375.5L374.9 375.2L376.9 374.9L376.9 374.9L376.9 428.0L376.9 428.0L375.9 429.9L374.7 431.6L373.5 433.2L372.2 434.7L370.8 436.1L369.4 437.5L367.9 438.7L366.3 439.8L364.7 440.9L363.0 441.9L361.3 442.8L359.6 443.6L357.8 444.4L355.9 445.1L354.1 445.7L352.2 446.3L350.3 446.9L348.4 447.4L346.4 447.9L344.5 448.3L342.5 448.7L340.6 449.1L338.6 449.4L336.6 449.7L334.5 450.0L332.5 450.3L330.5 450.5L328.5 450.7L326.4 450.9L324.4 451.1L322.3 451.2L320.3 451.4L318.2 451.6L316.2 451.7L314.1 451.8L312.0 452.0L310.0 452.1L307.9 452.2L305.9 452.4L303.9 452.5L301.8 452.7L299.8 452.8L297.8 453.0L295.8 453.2L293.7 453.3L291.7 453.5L289.7 453.7L287.7 453.8L285.7 454.0L283.7 454.2L281.7 454.4L279.7 454.6L277.7 454.8L275.7 455.0L273.7 455.1L271.7 455.3L269.7 455.5L267.7 455.7L265.7 455.9L263.7 456.1L261.7 456.3L259.7 456.5L257.7 456.7L255.8 456.9L253.8 457.1L251.8 457.3L249.8 457.5L247.8 457.7L245.8 457.9L243.8 458.1L241.8 458.3L239.8 458.5L237.8 458.7L235.8 458.9L233.7 459.1L231.7 459.3L229.7 459.4L227.7 459.6L225.7 459.8L223.7 460.0L221.7 460.2L219.6 460.4L217.6 460.6L215.6 460.8L213.6 461.0L211.6 461.2L209.5 461.4L207.5 461.6L205.5 461.8L203.5 462.0L201.5 462.3L199.4 462.5L197.4 462.7L195.4 463.0L193.4 463.2L191.4 463.5L189.4 463.8L187.4 464.0L185.3 464.3L183.3 464.6L181.3 464.9L179.3 465.2L177.3 465.5L175.3 465.8L173.3 466.1L171.3 466.5L169.3 466.8L167.4 467.2L165.4 467.6L163.4 468.0L161.4 468.4L159.4 468.8L157.5 469.2L155.5 469.6L153.5 470.1L151.6 470.6L149.6 471.0L147.7 471.5L145.7 472.0L143.8 472.6L141.9 473.1L139.9 473.7L138.0 474.2L136.1 474.8L134.2 475.4L132.3 476.0L130.3 476.7L128.4 477.3L126.6 478.0L124.7 478.7L122.8 479.4L120.9 480.2L119.1 480.9L117.2 481.7L115.3 482.5L113.5 483.3L111.7 484.2L109.8 485.0L108.0 485.9" fill="none" stroke="#ee22ee" stroke-width="2.5" stroke-dasharray="9,4,2.5,4" stroke-linejoin="round" clip-path="url(#cd)"/>
<path d="M108.0 458.0L108.0 418.0L108.0 418.0L109.6 416.7L111.3 415.4L112.9 414.3L114.6 413.2L116.4 412.1L118.1 411.2L119.9 410.2L121.7 409.4L123.5 408.6L125.3 407.9L127.2 407.2L129.0 406.6L130.9 406.0L132.8 405.5L134.7 405.0L136.6 404.5L138.6 404.1L140.5 403.7L142.5 403.4L144.5 403.1L146.4 402.8L148.4 402.5L150.4 402.3L152.4 402.1L154.4 401.9L156.4 401.7L158.4 401.5L160.5 401.4L162.5 401.3L164.5 401.1L166.5 401.0L168.5 400.9L170.5 400.8L172.6 400.8L174.6 400.7L176.6 400.6L178.6 400.6L180.7 400.5L182.7 400.5L184.7 400.5L186.8 400.4L188.8 400.4L190.8 400.4L192.9 400.4L194.9 400.4L196.9 400.4L199.0 400.5L201.0 400.5L203.0 400.5L205.1 400.5L207.1 400.6L209.1 400.6L211.2 400.6L213.2 400.7L215.3 400.7L217.3 400.7L219.3 400.8L221.4 400.8L223.4 400.8L225.4 400.9L227.5 400.9L229.5 400.9L231.5 401.0L233.6 401.0L235.6 401.0L237.6 401.0L239.6 401.0L241.7 401.1L243.7 401.1L245.7 401.1L247.8 401.1L249.8 401.1L251.8 401.1L253.8 401.1L255.8 401.1L257.9 401.1L259.9 401.1L261.9 401.0L263.9 401.0L266.0 401.0L268.0 401.0L270.0 401.0L272.0 400.9L274.0 400.9L276.1 400.9L278.1 400.8L280.1 400.8L282.1 400.7L284.1 400.7L286.1 400.6L288.2 400.6L290.2 400.5L292.2 400.5L294.2 400.4L296.2 400.4L298.2 400.3L300.3 400.2L302.3 400.1L304.3 400.1L306.3 400.0L308.3 399.9L310.3 399.8L312.3 399.7L314.4 399.6L316.4 399.5L318.4 399.4L320.4 399.3L322.4 399.2L324.4 399.1L326.4 399.0L328.5 398.9L330.5 398.8L332.5 398.6L334.5 398.5L336.5 398.4L338.5 398.3L340.6 398.1L342.6 398.0L344.6 397.8L346.6 397.7L348.6 397.5L350.6 397.4L352.7 397.2L354.7 397.1L356.7 396.9L358.7 396.8L360.7 396.6L362.7 396.4L364.8 396.2L366.8 396.1L368.8 395.9L370.8 395.7L372.9 395.5L374.9 395.3L376.9 395.1L376.9 395.1L376.9 424.0L376.9 424.0L375.7 425.6L374.3 427.1L372.9 428.3L371.3 429.4L369.7 430.4L368.0 431.3L366.2 432.0L364.4 432.6L362.5 433.2L360.6 433.6L358.6 434.0L356.6 434.3L354.6 434.6L352.6 434.8L350.6 435.1L348.5 435.3L346.5 435.5L344.4 435.6L342.4 435.8L340.4 436.0L338.4 436.2L336.3 436.3L334.3 436.5L332.3 436.6L330.3 436.7L328.3 436.9L326.3 437.0L324.2 437.1L322.2 437.2L320.2 437.3L318.2 437.4L316.2 437.5L314.2 437.6L312.2 437.7L310.2 437.8L308.2 437.9L306.2 438.0L304.1 438.1L302.1 438.2L300.1 438.3L298.1 438.3L296.1 438.4L294.1 438.5L292.1 438.6L290.1 438.7L288.0 438.7L286.0 438.8L284.0 438.9L282.0 439.0L280.0 439.1L278.0 439.1L276.0 439.2L274.0 439.3L271.9 439.4L269.9 439.5L267.9 439.5L265.9 439.6L263.9 439.7L261.9 439.8L259.8 439.9L257.8 440.0L255.8 440.1L253.8 440.1L251.8 440.2L249.8 440.3L247.8 440.4L245.7 440.5L243.7 440.6L241.7 440.8L239.7 440.9L237.7 441.0L235.7 441.1L233.7 441.2L231.6 441.3L229.6 441.5L227.6 441.6L225.6 441.7L223.6 441.9L221.6 442.0L219.6 442.2L217.6 442.3L215.5 442.5L213.5 442.7L211.5 442.8L209.5 443.0L207.5 443.2L205.5 443.3L203.5 443.5L201.5 443.7L199.5 443.9L197.5 444.1L195.5 444.3L193.5 444.5L191.5 444.7L189.5 444.9L187.5 445.2L185.5 445.4L183.4 445.6L181.4 445.8L179.4 446.1L177.4 446.3L175.4 446.6L173.5 446.8L171.5 447.1L169.5 447.3L167.5 447.6L165.5 447.9L163.5 448.1L161.5 448.4L159.5 448.7L157.5 449.0L155.5 449.3L153.5 449.6L151.5 449.9L149.5 450.2L147.5 450.5L145.6 450.9L143.6 451.2L141.6 451.5L139.6 451.9L137.6 452.2L135.6 452.6L133.7 452.9L131.7 453.3L129.7 453.6L127.7 454.0L125.7 454.4L123.8 454.8L121.8 455.1L119.8 455.5L117.8 455.9L115.9 456.3L113.9 456.7L111.9 457.2L110.0 457.6L108.0 458.0" fill="none" stroke="#2a2aee" stroke-width="2.5" stroke-dasharray="2.5,8" stroke-linejoin="round" clip-path="url(#cd)"/>
<path d="M108.0 441.6L108.0 424.0L108.0 424.0L109.7 422.9L111.5 421.9L113.3 421.0L115.1 420.2L116.9 419.4L118.7 418.6L120.6 418.0L122.5 417.4L124.4 416.8L126.3 416.3L128.2 415.8L130.1 415.4L132.1 415.0L134.0 414.7L136.0 414.4L138.0 414.1L139.9 413.9L141.9 413.7L143.9 413.5L145.9 413.4L148.0 413.3L150.0 413.2L152.0 413.1L154.0 413.0L156.0 412.9L158.1 412.9L160.1 412.9L162.1 412.8L164.2 412.8L166.2 412.7L168.2 412.7L170.3 412.7L172.3 412.6L174.3 412.6L176.4 412.6L178.4 412.6L180.4 412.6L182.5 412.5L184.5 412.5L186.5 412.5L188.6 412.5L190.6 412.5L192.6 412.5L194.7 412.5L196.7 412.5L198.7 412.5L200.7 412.5L202.8 412.5L204.8 412.5L206.8 412.5L208.9 412.5L210.9 412.5L212.9 412.5L215.0 412.5L217.0 412.5L219.0 412.5L221.0 412.5L223.1 412.5L225.1 412.5L227.1 412.5L229.2 412.5L231.2 412.5L233.2 412.5L235.2 412.5L237.3 412.5L239.3 412.5L241.3 412.5L243.4 412.5L245.4 412.5L247.4 412.5L249.4 412.5L251.5 412.5L253.5 412.5L255.5 412.5L257.5 412.5L259.6 412.5L261.6 412.5L263.6 412.4L265.6 412.4L267.7 412.4L269.7 412.4L271.7 412.4L273.7 412.4L275.8 412.3L277.8 412.3L279.8 412.3L281.8 412.3L283.9 412.2L285.9 412.2L287.9 412.2L289.9 412.2L291.9 412.1L294.0 412.1L296.0 412.0L298.0 412.0L300.0 412.0L302.1 411.9L304.1 411.9L306.1 411.8L308.1 411.8L310.1 411.7L312.2 411.7L314.2 411.6L316.2 411.6L318.2 411.5L320.3 411.4L322.3 411.4L324.3 411.3L326.3 411.2L328.3 411.2L330.4 411.1L332.4 411.0L334.4 410.9L336.4 410.8L338.5 410.8L340.5 410.7L342.5 410.6L344.5 410.5L346.5 410.4L348.6 410.3L350.6 410.2L352.6 410.1L354.6 410.0L356.7 409.9L358.7 409.8L360.7 409.6L362.7 409.5L364.8 409.4L366.8 409.3L368.8 409.1L370.8 409.0L372.9 408.9L374.9 408.7L376.9 408.6L376.9 408.6L376.9 420.0L376.9 420.0L375.0 420.7L373.1 421.3L371.2 421.9L369.3 422.4L367.4 422.9L365.5 423.3L363.5 423.8L361.6 424.1L359.6 424.5L357.6 424.8L355.7 425.1L353.7 425.3L351.7 425.6L349.7 425.8L347.7 426.0L345.7 426.1L343.7 426.3L341.7 426.4L339.7 426.6L337.6 426.7L335.6 426.8L333.6 426.9L331.6 426.9L329.6 427.0L327.5 427.1L325.5 427.1L323.5 427.2L321.4 427.3L319.4 427.3L317.4 427.4L315.3 427.4L313.3 427.5L311.3 427.5L309.3 427.6L307.2 427.6L305.2 427.7L303.2 427.8L301.2 427.8L299.2 427.9L297.1 428.0L295.1 428.0L293.1 428.1L291.1 428.2L289.1 428.2L287.0 428.3L285.0 428.4L283.0 428.5L281.0 428.6L279.0 428.6L277.0 428.7L274.9 428.8L272.9 428.9L270.9 428.9L268.9 429.0L266.9 429.1L264.9 429.2L262.8 429.3L260.8 429.3L258.8 429.4L256.8 429.5L254.8 429.6L252.8 429.6L250.7 429.7L248.7 429.8L246.7 429.9L244.7 429.9L242.7 430.0L240.6 430.1L238.6 430.1L236.6 430.2L234.6 430.3L232.6 430.3L230.5 430.4L228.5 430.5L226.5 430.5L224.5 430.6L222.5 430.7L220.4 430.8L218.4 430.8L216.4 430.9L214.4 431.0L212.3 431.0L210.3 431.1L208.3 431.2L206.3 431.3L204.3 431.4L202.2 431.5L200.2 431.5L198.2 431.6L196.2 431.7L194.1 431.8L192.1 431.9L190.1 432.0L188.1 432.1L186.1 432.3L184.1 432.4L182.0 432.5L180.0 432.6L178.0 432.8L176.0 432.9L174.0 433.0L172.0 433.2L169.9 433.3L167.9 433.5L165.9 433.6L163.9 433.8L161.9 434.0L159.9 434.2L157.9 434.4L155.9 434.5L153.8 434.7L151.8 435.0L149.8 435.2L147.8 435.4L145.8 435.6L143.8 435.8L141.8 436.1L139.8 436.3L137.8 436.6L135.8 436.9L133.8 437.1L131.8 437.4L129.8 437.7L127.8 438.0L125.9 438.3L123.9 438.7L121.9 439.0L119.9 439.3L117.9 439.7L115.9 440.0L113.9 440.4L112.0 440.8L110.0 441.2L108.0 441.6" fill="none" stroke="#ee2a2a" stroke-width="2.5" stroke-dasharray="8,5" stroke-linejoin="round" clip-path="url(#cd)"/>
<path d="M108.5 433.8L108.7 431.6L109.1 429.5L109.8 427.7L110.7 426.1L111.8 424.7L113.1 423.5L114.5 422.4L116.1 421.5L117.8 420.7L119.5 420.0L121.4 419.4L123.3 418.9L125.2 418.4L127.2 418.1L129.1 417.8L131.1 417.5L133.2 417.4L135.2 417.2L137.3 417.1L139.3 417.0L141.4 417.0L143.5 416.9L145.6 416.9L147.7 416.9L149.7 416.9L151.8 416.9L153.9 416.9L156.0 416.9L158.0 416.9L160.1 416.9L162.2 416.9L164.2 416.9L166.3 416.9L168.3 416.9L170.4 416.9L172.4 416.9L174.4 416.9L176.5 416.9L178.5 416.8L180.6 416.8L182.6 416.8L184.6 416.8L186.6 416.8L188.7 416.8L190.7 416.7L192.7 416.7L194.7 416.7L196.7 416.7L198.8 416.7L200.8 416.7L202.8 416.6L204.8 416.6L206.8 416.6L208.8 416.6L210.8 416.6L212.8 416.5L214.9 416.5L216.9 416.5L218.9 416.5L220.9 416.5L222.9 416.4L224.9 416.4L226.9 416.4L228.9 416.4L230.9 416.4L233.0 416.4L235.0 416.4L237.0 416.3L239.0 416.3L241.0 416.3L243.1 416.3L245.1 416.3L247.1 416.3L249.1 416.3L251.1 416.3L253.2 416.2L255.2 416.2L257.2 416.2L259.3 416.2L261.3 416.2L263.3 416.2L265.3 416.2L267.4 416.2L269.4 416.2L271.4 416.2L273.5 416.1L275.5 416.1L277.5 416.1L279.5 416.1L281.6 416.1L283.6 416.1L285.6 416.1L287.7 416.1L289.7 416.0L291.7 416.0L293.8 416.0L295.8 416.0L297.8 416.0L299.9 416.0L301.9 416.0L303.9 415.9L306.0 415.9L308.0 415.9L310.0 415.9L312.1 415.9L314.1 415.8L316.1 415.8L318.2 415.8L320.2 415.8L322.2 415.7L324.3 415.7L326.3 415.7L328.3 415.6L330.4 415.6L332.4 415.6L334.4 415.5L336.5 415.5L338.5 415.5L340.5 415.4L342.5 415.4L344.6 415.3L346.6 415.3L348.6 415.2L350.6 415.2L352.7 415.1L354.7 415.1L356.7 415.0L358.7 415.0L360.8 414.9L362.8 414.9L364.8 414.8L366.8 414.7L368.8 414.7L370.9 414.6L372.9 414.5L374.9 414.5L376.9 414.4L376.9 414.4L376.9 420.2L376.9 420.2L374.9 420.3L372.9 420.5L370.9 420.6L368.8 420.7L366.8 420.8L364.8 421.0L362.8 421.1L360.8 421.2L358.8 421.3L356.7 421.4L354.7 421.5L352.7 421.6L350.7 421.7L348.7 421.8L346.6 421.9L344.6 422.0L342.6 422.1L340.6 422.2L338.6 422.3L336.5 422.4L334.5 422.4L332.5 422.5L330.5 422.6L328.5 422.7L326.4 422.7L324.4 422.8L322.4 422.9L320.4 422.9L318.4 423.0L316.3 423.1L314.3 423.1L312.3 423.2L310.3 423.3L308.3 423.3L306.2 423.4L304.2 423.4L302.2 423.5L300.2 423.5L298.1 423.6L296.1 423.7L294.1 423.7L292.1 423.8L290.1 423.8L288.0 423.9L286.0 423.9L284.0 424.0L282.0 424.0L279.9 424.0L277.9 424.1L275.9 424.1L273.9 424.2L271.8 424.2L269.8 424.3L267.8 424.3L265.8 424.4L263.8 424.4L261.7 424.5L259.7 424.5L257.7 424.6L255.7 424.6L253.6 424.7L251.6 424.7L249.6 424.8L247.6 424.8L245.6 424.9L243.5 424.9L241.5 425.0L239.5 425.0L237.5 425.1L235.4 425.2L233.4 425.2L231.4 425.3L229.4 425.3L227.4 425.4L225.3 425.5L223.3 425.5L221.3 425.6L219.3 425.7L217.2 425.7L215.2 425.8L213.2 425.9L211.2 425.9L209.2 426.0L207.1 426.1L205.1 426.2L203.1 426.3L201.1 426.4L199.1 426.4L197.0 426.5L195.0 426.6L193.0 426.7L191.0 426.8L189.0 426.9L187.0 427.0L184.9 427.1L182.9 427.2L180.9 427.3L178.9 427.5L176.9 427.6L174.9 427.7L172.8 427.8L170.8 427.9L168.8 428.1L166.8 428.2L164.8 428.3L162.8 428.5L160.7 428.6L158.7 428.8L156.7 428.9L154.7 429.1L152.7 429.2L150.7 429.4L148.7 429.6L146.7 429.7L144.6 429.9L142.6 430.1L140.6 430.3L138.6 430.4L136.6 430.6L134.6 430.8L132.6 431.0L130.6 431.2L128.6 431.4L126.6 431.7L124.5 431.9L122.5 432.1L120.5 432.3L118.5 432.6L116.5 432.8L114.5 433.0L112.5 433.3L110.5 433.5L108.5 433.8" fill="none" stroke="#1c1c1c" stroke-width="2.6" stroke-linejoin="round" clip-path="url(#cd)"/>
<path d="M531.6 546.1L531.7 544.0L531.9 542.0L532.0 539.9L532.1 537.9L532.3 535.8L532.4 533.8L532.5 531.7L532.7 529.7L532.8 527.6L532.9 525.5L533.1 523.5L533.2 521.4L533.4 519.4L533.5 517.3L533.6 515.2L533.8 513.2L533.9 511.1L534.1 509.1L534.3 507.0L534.4 505.0L534.6 502.9L534.8 500.8L534.9 498.8L535.1 496.7L535.3 494.7L535.5 492.6L535.7 490.6L535.9 488.5L536.2 486.5L536.4 484.4L536.6 482.4L536.9 480.3L537.1 478.3L537.4 476.2L537.7 474.2L538.0 472.2L538.3 470.1L538.6 468.1L538.9 466.1L539.3 464.0L539.6 462.0L540.0 460.0L540.3 458.0L540.7 455.9L541.1 453.9L541.6 451.9L542.0 449.9L542.4 447.9L542.9 445.9L543.4 443.9L543.9 441.9L544.4 439.9L544.9 437.9L545.5 435.9L546.0 433.9L546.6 431.9L547.2 429.9L547.9 428.0L548.5 426.0" fill="none" stroke="#ee22ee" stroke-width="2.5" stroke-dasharray="9,3,2.5,3" stroke-linejoin="round" clip-path="url(#ce)"/>
<path d="M548.5 426.0L549.1 424.2L549.7 422.3L550.3 420.5L550.9 418.6L551.5 416.7L552.1 414.8L552.7 412.9L553.3 411.0L554.0 409.1L554.6 407.1L555.3 405.2L556.0 403.3L556.7 401.4L557.5 399.4L558.3 397.5L559.1 395.6L559.9 393.8L560.8 391.9L561.7 390.0L562.7 388.2L563.7 386.4L564.7 384.6L565.8 382.8L567.0 381.1L568.2 379.4L569.4 377.7L570.6 376.1L571.9 374.5L573.3 373.0L574.7 371.5L576.1 370.1L577.5 368.7L579.0 367.3L580.6 366.0L582.1 364.8L583.7 363.7L585.3 362.6L587.0 361.6L588.7 360.6L590.4 359.7L592.2 358.8L593.9 358.1L595.7 357.3L597.5 356.6L599.4 356.0L601.2 355.3L603.1 354.8L605.0 354.3L607.0 353.8L608.9 353.3L610.9 352.9L612.8 352.5L614.8 352.2L616.8 351.9L618.8 351.6L620.8 351.3L622.8 351.1L624.9 350.9L626.9 350.7L629.0 350.5L631.0 350.3L633.1 350.2L635.1 350.0L637.2 349.9L639.2 349.8L641.3 349.6L643.3 349.5L645.4 349.4L647.4 349.3L649.5 349.2L651.5 349.1L653.5 349.0L655.6 348.9L657.6 348.8L659.6 348.7L661.7 348.6L663.7 348.5L665.7 348.4L667.8 348.3L669.8 348.3L671.8 348.2L673.8 348.1L675.8 348.1L677.9 348.0L679.9 347.9L681.9 347.9L683.9 347.8L685.9 347.7L687.9 347.7L690.0 347.6L692.0 347.6L694.0 347.5L696.0 347.5L698.0 347.4L700.0 347.4L702.0 347.3L704.0 347.3L706.0 347.2L708.0 347.2L710.0 347.1L712.0 347.1L714.0 347.0L716.0 347.0L718.0 346.9L720.1 346.9L722.1 346.9L724.1 346.8L726.1 346.8L728.1 346.7L730.1 346.7L732.1 346.6L734.1 346.6L736.1 346.5L738.1 346.5L740.1 346.4L742.1 346.4L744.1 346.3L746.1 346.3L748.1 346.2L750.1 346.1L752.1 346.1L754.1 346.0L756.1 346.0L758.1 345.9L760.2 345.8L762.2 345.7L764.2 345.7L766.2 345.6L768.2 345.5L770.2 345.4L772.2 345.3L774.3 345.3L776.3 345.2L778.3 345.1L780.3 345.0L782.3 344.9L784.4 344.8L786.4 344.7L788.4 344.5L790.4 344.4L792.5 344.3L794.5 344.2L796.5 344.1L798.6 343.9L800.6 343.8L802.7 343.6L804.7 343.5" fill="none" stroke="#ee22ee" stroke-width="2.5" stroke-linejoin="round" clip-path="url(#ce)"/>
<path d="M804.7 343.5L804.4 345.6L804.2 347.7L803.9 349.8L803.7 351.9L803.4 353.9L803.2 356.0L802.9 358.1L802.7 360.2L802.5 362.3L802.3 364.4L802.0 366.5L801.8 368.6L801.6 370.7L801.4 372.8L801.2 374.9L800.9 377.0L800.7 379.1L800.5 381.2L800.3 383.3L800.1 385.4L799.8 387.5L799.6 389.5L799.4 391.6L799.2 393.7L798.9 395.8L798.7 397.9L798.4 400.0L798.2 402.1L797.9 404.2L797.6 406.3L797.3 408.4L797.0 410.4L796.7 412.5L796.4 414.6L796.1 416.7" fill="none" stroke="#ee22ee" stroke-width="2.5" stroke-dasharray="9,3,2.5,3" stroke-linejoin="round" clip-path="url(#ce)"/>
<path d="M796.1 416.7L795.9 418.7L795.7 420.7L795.5 422.7L795.2 424.7L794.9 426.7L794.6 428.7L794.2 430.7L793.8 432.7L793.3 434.7L792.8 436.6L792.3 438.6L791.8 440.6L791.2 442.6L790.6 444.5L789.9 446.5L789.2 448.4L788.5 450.3L787.7 452.2L786.9 454.1L786.1 456.0L785.2 457.8L784.3 459.7L783.4 461.5L782.4 463.3L781.4 465.0L780.4 466.8L779.3 468.5L778.2 470.2L777.1 471.8L775.9 473.4L774.7 475.0L773.5 476.6L772.2 478.1L770.9 479.6L769.6 481.1L768.2 482.5L766.8 483.9L765.4 485.2L763.9 486.5L762.4 487.8L760.9 489.0L759.3 490.2L757.8 491.4L756.2 492.5L754.5 493.5L752.9 494.6L751.2 495.6L749.5 496.5L747.7 497.5L746.0 498.4L744.2 499.3L742.4 500.1L740.6 500.9L738.8 501.7L736.9 502.5L735.0 503.2L733.2 503.9L731.3 504.6L729.3 505.2L727.4 505.9L725.5 506.5L723.5 507.0L721.6 507.6L719.6 508.2L717.6 508.7L715.6 509.2L713.6 509.7L711.6 510.2L709.6 510.6L707.6 511.1L705.6 511.5L703.6 511.9L701.6 512.3L699.6 512.7L697.6 513.1L695.6 513.5L693.6 513.8L691.5 514.2L689.5 514.5L687.5 514.9L685.5 515.2L683.5 515.5L681.5 515.8L679.5 516.1L677.5 516.4L675.5 516.7L673.5 517.0L671.5 517.3L669.5 517.6L667.5 517.9L665.5 518.2L663.5 518.4L661.5 518.7L659.5 519.0L657.6 519.2L655.6 519.5L653.6 519.8L651.6 520.1L649.6 520.3L647.6 520.6L645.6 520.9L643.6 521.1L641.7 521.4L639.7 521.7L637.7 522.0L635.7 522.3L633.7 522.6L631.7 522.9L629.8 523.2L627.8 523.5L625.8 523.8L623.8 524.1L621.8 524.4L619.8 524.8L617.9 525.1L615.9 525.5L613.9 525.8L611.9 526.2L610.0 526.6L608.0 526.9L606.0 527.3L604.0 527.7L602.0 528.1L600.1 528.5L598.1 529.0L596.1 529.4L594.2 529.8L592.2 530.3L590.2 530.7L588.2 531.2L586.3 531.6L584.3 532.1L582.3 532.6L580.4 533.0L578.4 533.5L576.4 534.0L574.5 534.5L572.5 535.0L570.5 535.5L568.6 536.0L566.6 536.5L564.7 537.0L562.7 537.5L560.7 538.0L558.8 538.6L556.8 539.1L554.9 539.6L552.9 540.1L551.0 540.7L549.0 541.2L547.1 541.7L545.2 542.3L543.2 542.8L541.3 543.4L539.3 543.9L537.4 544.5L535.5 545.0L533.5 545.6L531.6 546.1" fill="none" stroke="#ee22ee" stroke-width="2.5" stroke-linejoin="round" clip-path="url(#ce)"/>
<path d="M531.6 488.2C531.8 480.2 532.1 449.7 533.0 440.0C533.9 430.3 536.3 431.7 537.0 430.0L537.0 430.0L538.2 428.1L539.4 426.3L540.7 424.6L542.0 422.9L543.3 421.3L544.7 419.8L546.2 418.4L547.7 417.0L549.2 415.8L550.7 414.5L552.3 413.4L554.0 412.3L555.6 411.2L557.3 410.2L559.0 409.3L560.8 408.4L562.5 407.6L564.3 406.8L566.2 406.1L568.0 405.4L569.9 404.8L571.8 404.2L573.7 403.6L575.6 403.1L577.5 402.6L579.4 402.2L581.4 401.7L583.4 401.4L585.3 401.0L587.3 400.7L589.3 400.3L591.3 400.1L593.3 399.8L595.3 399.6L597.3 399.3L599.3 399.1L601.3 398.9L603.3 398.8L605.3 398.6L607.3 398.5L609.4 398.4L611.4 398.3L613.4 398.2L615.4 398.1L617.5 398.1L619.5 398.0L621.5 398.0L623.6 397.9L625.6 397.9L627.7 397.9L629.7 397.9L631.7 397.9L633.8 397.9L635.8 397.9L637.9 398.0L639.9 398.0L642.0 398.0L644.0 398.1L646.1 398.1L648.1 398.1L650.1 398.1L652.2 398.2L654.2 398.2L656.3 398.2L658.3 398.2L660.3 398.3L662.4 398.3L664.4 398.3L666.4 398.3L668.5 398.3L670.5 398.3L672.5 398.3L674.5 398.3L676.6 398.3L678.6 398.3L680.6 398.3L682.6 398.3L684.7 398.3L686.7 398.3L688.7 398.2L690.7 398.2L692.7 398.2L694.8 398.2L696.8 398.2L698.8 398.1L700.8 398.1L702.8 398.1L704.8 398.1L706.8 398.0L708.9 398.0L710.9 398.0L712.9 397.9L714.9 397.9L716.9 397.8L718.9 397.8L720.9 397.8L722.9 397.7L725.0 397.7L727.0 397.6L729.0 397.6L731.0 397.6L733.0 397.5L735.0 397.5L737.0 397.4L739.0 397.4L741.1 397.4L743.1 397.3L745.1 397.3L747.1 397.2L749.1 397.2L751.1 397.2L753.1 397.1L755.2 397.1L757.2 397.0L759.2 397.0L761.2 397.0L763.2 396.9L765.3 396.9L767.3 396.9L769.3 396.8L771.3 396.8L773.3 396.8L775.4 396.7L777.4 396.7L779.4 396.7L781.4 396.6L783.5 396.6L785.5 396.6L787.5 396.6L789.6 396.6L791.6 396.5L793.6 396.5L795.7 396.5L797.7 396.5L799.8 396.5L801.8 396.5L801.8 396.5L802.9 398.3L803.7 400.2L804.3 402.1L804.7 404.1L804.8 406.1L804.8 408.2L804.6 410.3L804.3 412.4L803.9 414.5L803.4 416.7L802.9 418.9L802.4 421.0L801.8 423.2L801.3 425.3L800.8 427.5L800.4 429.6L800.1 431.7L799.9 433.8L799.8 435.9L799.9 437.9L799.9 437.9L798.7 439.7L797.5 441.5L796.2 443.2L794.9 444.8L793.5 446.3L792.1 447.8L790.6 449.2L789.1 450.5L787.6 451.7L786.0 452.9L784.4 454.0L782.8 455.1L781.1 456.1L779.4 457.0L777.7 457.9L775.9 458.7L774.2 459.5L772.4 460.3L770.5 461.0L768.7 461.6L766.8 462.2L764.9 462.8L763.0 463.3L761.1 463.8L759.1 464.3L757.2 464.7L755.2 465.1L753.2 465.5L751.2 465.8L749.2 466.2L747.2 466.5L745.2 466.8L743.1 467.1L741.1 467.3L739.1 467.6L737.0 467.8L735.0 468.1L733.0 468.3L731.0 468.5L728.9 468.7L726.9 468.9L724.9 469.2L722.8 469.4L720.8 469.6L718.8 469.7L716.8 469.9L714.7 470.1L712.7 470.3L710.7 470.5L708.7 470.6L706.6 470.8L704.6 471.0L702.6 471.1L700.6 471.3L698.6 471.4L696.5 471.6L694.5 471.7L692.5 471.9L690.5 472.0L688.5 472.2L686.4 472.3L684.4 472.4L682.4 472.6L680.4 472.7L678.3 472.8L676.3 472.9L674.3 473.1L672.3 473.2L670.3 473.3L668.2 473.4L666.2 473.5L664.2 473.7L662.2 473.8L660.2 473.9L658.1 474.0L656.1 474.1L654.1 474.3L652.1 474.4L650.1 474.5L648.0 474.6L646.0 474.8L644.0 474.9L642.0 475.0L640.0 475.1L637.9 475.3L635.9 475.4L633.9 475.5L631.9 475.6L629.8 475.8L627.8 475.9L625.8 476.1L623.8 476.2L621.8 476.3L619.8 476.5L617.7 476.6L615.7 476.8L613.7 476.9L611.7 477.1L609.7 477.3L607.7 477.4L605.6 477.6L603.6 477.8L601.6 478.0L599.6 478.2L597.6 478.3L595.6 478.5L593.6 478.7L591.5 478.9L589.5 479.1L587.5 479.4L585.5 479.6L583.5 479.8L581.5 480.0L579.5 480.3L577.5 480.5L575.5 480.8L573.5 481.0L571.5 481.3L569.5 481.6L567.5 481.8L565.5 482.1L563.5 482.4L561.5 482.7L559.5 483.0L557.5 483.3L555.5 483.7L553.5 484.0L551.5 484.3L549.5 484.7L547.5 485.0L545.5 485.4L543.5 485.8L541.5 486.1L539.5 486.5L537.6 486.9L535.6 487.3L533.6 487.8L531.6 488.2" fill="none" stroke="#2a2aee" stroke-width="2.5" stroke-dasharray="2.2,1.6" stroke-linejoin="round" clip-path="url(#ce)"/>
<path d="M531.6 465.1C531.8 459.6 531.1 438.8 533.0 432.0C534.9 425.2 541.5 425.8 543.2 424.5L543.2 424.5L544.9 423.5L546.6 422.5L548.3 421.7L550.1 421.0L552.0 420.4L553.8 419.8L555.7 419.3L557.6 418.9L559.5 418.6L561.5 418.3L563.5 418.0L565.4 417.8L567.4 417.6L569.4 417.5L571.4 417.3L573.4 417.2L575.4 417.1L577.5 417.1L579.5 417.0L581.5 417.0L583.5 416.9L585.6 416.9L587.6 416.9L589.6 416.9L591.7 416.9L593.7 416.9L595.8 416.9L597.8 416.9L599.9 417.0L601.9 417.0L603.9 417.0L606.0 417.0L608.0 417.0L610.0 417.0L612.1 417.0L614.1 417.0L616.1 417.0L618.2 417.0L620.2 417.0L622.2 417.0L624.2 417.0L626.2 417.0L628.3 417.0L630.3 417.0L632.3 416.9L634.3 416.9L636.3 416.9L638.3 416.9L640.4 416.8L642.4 416.8L644.4 416.8L646.4 416.8L648.4 416.7L650.4 416.7L652.4 416.7L654.4 416.7L656.5 416.6L658.5 416.6L660.5 416.6L662.5 416.5L664.5 416.5L666.5 416.5L668.5 416.5L670.5 416.4L672.6 416.4L674.6 416.4L676.6 416.4L678.6 416.4L680.6 416.3L682.6 416.3L684.7 416.3L686.7 416.3L688.7 416.3L690.7 416.2L692.7 416.2L694.7 416.2L696.8 416.2L698.8 416.2L700.8 416.2L702.8 416.2L704.8 416.1L706.9 416.1L708.9 416.1L710.9 416.1L712.9 416.1L714.9 416.1L717.0 416.1L719.0 416.1L721.0 416.0L723.0 416.0L725.0 416.0L727.1 416.0L729.1 416.0L731.1 416.0L733.1 416.0L735.2 415.9L737.2 415.9L739.2 415.9L741.2 415.9L743.2 415.9L745.3 415.9L747.3 415.8L749.3 415.8L751.3 415.8L753.4 415.8L755.4 415.8L757.4 415.7L759.4 415.7L761.4 415.7L763.5 415.7L765.5 415.6L767.5 415.6L769.5 415.6L771.5 415.5L773.6 415.5L775.6 415.5L777.6 415.4L779.6 415.4L781.6 415.4L783.6 415.3L785.7 415.3L787.7 415.2L789.7 415.2L791.7 415.1L793.7 415.1L795.7 415.0L797.8 415.0L799.8 414.9L801.8 414.9L803.8 414.8L803.8 414.8C803.9 416.1 805.0 418.6 804.7 422.5C804.4 426.4 802.3 435.3 801.8 437.9L801.8 437.9L800.3 439.3L798.7 440.5L797.1 441.7L795.4 442.8L793.8 443.8L792.1 444.7L790.3 445.6L788.5 446.4L786.8 447.1L784.9 447.7L783.1 448.3L781.2 448.9L779.3 449.3L777.4 449.8L775.5 450.1L773.5 450.5L771.6 450.7L769.6 451.0L767.6 451.2L765.6 451.4L763.6 451.5L761.6 451.7L759.5 451.8L757.5 451.8L755.5 451.9L753.4 452.0L751.4 452.0L749.3 452.1L747.3 452.1L745.2 452.2L743.2 452.2L741.1 452.3L739.1 452.4L737.0 452.4L735.0 452.5L733.0 452.6L730.9 452.6L728.9 452.7L726.9 452.8L724.8 452.9L722.8 453.0L720.8 453.0L718.8 453.1L716.8 453.2L714.7 453.3L712.7 453.4L710.7 453.5L708.7 453.6L706.7 453.7L704.7 453.8L702.7 454.0L700.6 454.1L698.6 454.2L696.6 454.3L694.6 454.4L692.6 454.5L690.6 454.6L688.6 454.7L686.6 454.9L684.6 455.0L682.6 455.1L680.6 455.2L678.5 455.3L676.5 455.4L674.5 455.6L672.5 455.7L670.5 455.8L668.5 455.9L666.5 456.0L664.5 456.1L662.5 456.2L660.5 456.4L658.4 456.5L656.4 456.6L654.4 456.7L652.4 456.8L650.4 456.9L648.4 457.0L646.4 457.1L644.4 457.3L642.3 457.4L640.3 457.5L638.3 457.6L636.3 457.7L634.3 457.8L632.3 457.9L630.2 458.1L628.2 458.2L626.2 458.3L624.2 458.4L622.2 458.5L620.2 458.6L618.1 458.7L616.1 458.9L614.1 459.0L612.1 459.1L610.1 459.2L608.1 459.3L606.0 459.5L604.0 459.6L602.0 459.7L600.0 459.8L598.0 460.0L596.0 460.1L593.9 460.2L591.9 460.4L589.9 460.5L587.9 460.6L585.9 460.8L583.9 460.9L581.9 461.0L579.8 461.2L577.8 461.3L575.8 461.5L573.8 461.6L571.8 461.7L569.8 461.9L567.8 462.0L565.7 462.2L563.7 462.3L561.7 462.5L559.7 462.7L557.7 462.8L555.7 463.0L553.7 463.1L551.7 463.3L549.7 463.5L547.6 463.6L545.6 463.8L543.6 464.0L541.6 464.2L539.6 464.4L537.6 464.5L535.6 464.7L533.6 464.9L531.6 465.1" fill="none" stroke="#ee2a2a" stroke-width="2.5" stroke-dasharray="3,1.6" stroke-linejoin="round" clip-path="url(#ce)"/>
<path d="M531.6 451.5L531.4 449.8L531.4 448.1L531.4 446.3L531.6 444.5L531.8 442.7L532.2 440.9L532.8 439.1L533.4 437.4L534.2 435.8L535.1 434.2L536.1 432.8L537.2 431.5L538.5 430.3L539.9 429.3L541.4 428.5L543.1 427.9L544.9 427.5L546.8 427.3L548.9 427.4L548.9 427.4L550.9 427.3L552.9 427.2L555.0 427.1L557.0 427.1L559.0 427.0L561.0 426.9L563.1 426.8L565.1 426.8L567.1 426.7L569.1 426.6L571.1 426.6L573.2 426.5L575.2 426.5L577.2 426.4L579.2 426.3L581.3 426.3L583.3 426.2L585.3 426.2L587.3 426.1L589.3 426.1L591.4 426.1L593.4 426.0L595.4 426.0L597.4 425.9L599.5 425.9L601.5 425.9L603.5 425.8L605.5 425.8L607.6 425.8L609.6 425.7L611.6 425.7L613.6 425.7L615.6 425.6L617.7 425.6L619.7 425.6L621.7 425.6L623.7 425.6L625.8 425.5L627.8 425.5L629.8 425.5L631.8 425.5L633.9 425.5L635.9 425.4L637.9 425.4L639.9 425.4L641.9 425.4L644.0 425.4L646.0 425.4L648.0 425.4L650.0 425.4L652.1 425.4L654.1 425.4L656.1 425.3L658.1 425.3L660.2 425.3L662.2 425.3L664.2 425.3L666.2 425.3L668.3 425.3L670.3 425.3L672.3 425.3L674.3 425.3L676.3 425.3L678.4 425.3L680.4 425.3L682.4 425.3L684.4 425.3L686.5 425.3L688.5 425.3L690.5 425.3L692.5 425.3L694.6 425.3L696.6 425.3L698.6 425.3L700.6 425.3L702.7 425.3L704.7 425.3L706.7 425.3L708.7 425.3L710.7 425.3L712.8 425.3L714.8 425.3L716.8 425.3L718.8 425.3L720.9 425.3L722.9 425.3L724.9 425.3L726.9 425.3L729.0 425.3L731.0 425.3L733.0 425.2L735.0 425.2L737.1 425.2L739.1 425.2L741.1 425.2L743.1 425.2L745.1 425.2L747.2 425.2L749.2 425.2L751.2 425.2L753.2 425.1L755.3 425.1L757.3 425.1L759.3 425.1L761.3 425.1L763.4 425.0L765.4 425.0L767.4 425.0L769.4 425.0L771.5 425.0L773.5 424.9L775.5 424.9L777.5 424.9L779.5 424.8L781.6 424.8L783.6 424.8L785.6 424.7L787.6 424.7L789.7 424.7L791.7 424.6L793.7 424.6L795.7 424.5L797.8 424.5L799.8 424.4L801.8 424.4L801.8 424.4L802.8 424.7L803.5 425.1L804.2 425.6L804.6 426.2L805.0 426.9L805.2 427.6L805.3 428.4L805.3 429.3L805.2 430.1L805.0 431.0L804.7 431.9L804.5 432.8L804.1 433.7L803.7 434.6L803.3 435.4L802.9 436.1L802.5 436.8L802.2 437.4L801.8 437.9L801.8 437.9L799.9 438.5L797.9 439.0L796.0 439.5L794.1 440.0L792.1 440.4L790.2 440.9L788.2 441.2L786.2 441.6L784.3 442.0L782.3 442.3L780.3 442.6L778.3 442.9L776.4 443.1L774.4 443.4L772.4 443.6L770.4 443.8L768.4 444.0L766.4 444.2L764.4 444.3L762.4 444.5L760.3 444.6L758.3 444.7L756.3 444.8L754.3 444.9L752.3 445.0L750.3 445.1L748.2 445.1L746.2 445.2L744.2 445.2L742.2 445.3L740.1 445.3L738.1 445.3L736.1 445.3L734.0 445.3L732.0 445.4L730.0 445.4L727.9 445.4L725.9 445.4L723.9 445.4L721.9 445.4L719.8 445.4L717.8 445.4L715.8 445.4L713.7 445.4L711.7 445.4L709.7 445.4L707.6 445.4L705.6 445.5L703.6 445.5L701.6 445.5L699.5 445.5L697.5 445.5L695.5 445.5L693.4 445.6L691.4 445.6L689.4 445.6L687.4 445.6L685.3 445.6L683.3 445.7L681.3 445.7L679.3 445.7L677.2 445.8L675.2 445.8L673.2 445.9L671.2 445.9L669.1 445.9L667.1 446.0L665.1 446.1L663.1 446.1L661.0 446.2L659.0 446.2L657.0 446.3L655.0 446.4L652.9 446.5L650.9 446.5L648.9 446.6L646.9 446.7L644.9 446.8L642.8 446.9L640.8 447.0L638.8 447.1L636.8 447.2L634.8 447.3L632.7 447.4L630.7 447.6L628.7 447.7L626.7 447.8L624.6 447.9L622.6 448.0L620.6 448.1L618.6 448.3L616.6 448.4L614.5 448.5L612.5 448.6L610.5 448.7L608.5 448.9L606.5 449.0L604.4 449.1L602.4 449.2L600.4 449.4L598.4 449.5L596.4 449.6L594.3 449.7L592.3 449.8L590.3 449.9L588.3 450.0L586.3 450.2L584.2 450.3L582.2 450.4L580.2 450.5L578.2 450.6L576.1 450.7L574.1 450.7L572.1 450.8L570.1 450.9L568.1 451.0L566.0 451.1L564.0 451.1L562.0 451.2L560.0 451.3L557.9 451.3L555.9 451.4L553.9 451.4L551.9 451.5L549.8 451.5L547.8 451.5L545.8 451.5L543.8 451.6L541.7 451.6L539.7 451.6L537.7 451.6L535.7 451.5L533.6 451.5L531.6 451.5" fill="none" stroke="#1c1c1c" stroke-width="2.6" stroke-linejoin="round" clip-path="url(#ce)"/>
<path d="M924.1 569.2L924.9 567.3L925.7 565.5L926.5 563.6L927.3 561.8L928.1 559.9L928.9 558.1L929.7 556.2L930.5 554.4L931.4 552.6L932.2 550.7L933.1 548.9L933.9 547.1L934.8 545.2L935.6 543.4L936.5 541.6L937.4 539.8L938.3 538.0L939.1 536.2L940.0 534.4L940.9 532.6L941.8 530.7L942.7 528.9L943.6 527.1L944.6 525.4L945.5 523.6L946.4 521.8L947.3 520.0L948.3 518.2L949.2 516.4L950.1 514.6L951.1 512.8L952.0 511.1L953.0 509.3L953.9 507.5L954.9 505.7L955.9 504.0L956.8 502.2L957.8 500.4L958.8 498.7L959.8 496.9L960.7 495.1L961.7 493.4L962.7 491.6L963.7 489.8L964.7 488.1L965.7 486.3L966.7 484.6L967.7 482.8L968.7 481.1L969.7 479.3L970.7 477.6L971.7 475.8L972.7 474.1L973.7 472.3L974.8 470.6L975.8 468.8L976.8 467.1L977.8 465.3L978.8 463.6L979.9 461.9L980.9 460.1L981.9 458.4L982.9 456.6L984.0 454.9L985.0 453.2L986.0 451.4L987.1 449.7L988.1 447.9L989.1 446.2L990.2 444.5L991.2 442.7L992.2 441.0L993.3 439.3L994.3 437.5L995.3 435.8L996.4 434.0L997.4 432.3L998.4 430.6L999.5 428.8L1000.5 427.1L1001.5 425.4L1002.6 423.6L1003.6 421.9L1004.6 420.1L1005.7 418.4L1006.7 416.7L1007.7 414.9L1008.8 413.2L1009.8 411.5L1010.9 409.7L1011.9 408.0L1012.9 406.3L1014.0 404.6L1015.0 402.8L1016.1 401.1L1017.1 399.4L1018.2 397.7L1019.2 395.9L1020.3 394.2L1021.4 392.5L1022.4 390.8L1023.5 389.1L1024.6 387.4L1025.6 385.6L1026.7 383.9L1027.8 382.2L1028.9 380.5L1029.9 378.8L1031.0 377.1L1032.1 375.4L1033.2 373.7L1034.3 372.0L1035.4 370.3L1036.5 368.7L1037.6 367.0L1038.7 365.3L1039.8 363.6L1040.9 361.9L1042.1 360.3L1043.2 358.6L1044.3 356.9L1045.5 355.3L1046.6 353.6L1047.8 351.9L1048.9 350.3L1050.1 348.6L1051.2 347.0L1052.4 345.4L1053.6 343.7L1054.7 342.1L1055.9 340.4L1057.1 338.8L1058.3 337.2L1059.5 335.6L1060.7 334.0L1061.9 332.4L1063.1 330.7L1064.4 329.1L1065.6 327.5L1066.8 326.0L1068.1 324.4L1069.3 322.8L1070.6 321.2L1071.8 319.6L1073.1 318.1L1074.4 316.5L1074.4 316.5L1075.0 318.4L1075.7 320.3L1076.4 322.2L1077.0 324.1L1077.7 326.1L1078.3 328.0L1079.0 329.9L1079.7 331.8L1080.4 333.7L1081.0 335.6L1081.7 337.5L1082.4 339.3L1083.1 341.2L1083.8 343.1L1084.5 345.0L1085.2 346.9L1085.9 348.8L1086.6 350.7L1087.3 352.5L1088.1 354.4L1088.8 356.3L1089.5 358.2L1090.2 360.0L1091.0 361.9L1091.7 363.8L1092.5 365.6L1093.2 367.5L1094.0 369.4L1094.7 371.2L1095.5 373.1L1096.3 374.9L1097.1 376.8L1097.8 378.6L1098.6 380.5L1099.4 382.3L1100.2 384.2L1101.0 386.0L1101.8 387.9L1102.6 389.7L1103.4 391.5L1104.2 393.4L1105.0 395.2L1105.9 397.0L1106.7 398.9L1107.5 400.7L1108.4 402.5L1109.2 404.3L1110.1 406.2L1110.9 408.0L1111.8 409.8L1112.6 411.6L1113.5 413.4L1114.4 415.2L1115.3 417.0L1116.1 418.8L1117.0 420.6L1117.9 422.4L1118.8 424.2L1119.7 426.0L1120.6 427.8L1121.6 429.6L1122.5 431.4L1123.4 433.2L1124.3 435.0L1125.3 436.8L1126.2 438.6L1127.2 440.4L1128.1 442.1L1129.1 443.9L1130.0 445.7L1131.0 447.5L1132.0 449.2L1133.0 451.0L1134.0 452.8L1134.9 454.5L1135.9 456.3L1136.9 458.1L1138.0 459.8L1139.0 461.6L1140.0 463.3L1141.0 465.1L1142.0 466.8L1143.1 468.6L1144.1 470.3L1145.2 472.0L1146.2 473.8L1147.3 475.5L1148.4 477.2L1149.5 478.9L1150.6 480.6L1151.7 482.3L1152.8 484.0L1153.9 485.7L1155.0 487.4L1156.1 489.1L1157.2 490.8L1158.4 492.5L1159.5 494.1L1160.7 495.8L1161.9 497.4L1163.1 499.1L1164.2 500.7L1165.4 502.3L1166.6 503.9L1167.9 505.5L1169.1 507.1L1170.3 508.7L1171.6 510.3L1172.8 511.9L1174.1 513.4L1175.3 515.0L1176.6 516.5L1177.9 518.1L1179.2 519.6L1180.5 521.1L1181.9 522.6L1183.2 524.1L1184.5 525.6L1185.9 527.0L1187.3 528.5L1188.7 529.9L1190.0 531.4L1191.4 532.8L1192.9 534.2L1194.3 535.6L1195.7 536.9L1197.2 538.3L1198.6 539.7L1200.1 541.0L1201.6 542.3L1203.1 543.6L1204.6 544.9L1206.1 546.2L1207.7 547.5L1209.2 548.7L1210.8 549.9L1212.4 551.1L1214.0 552.3L1215.6 553.5L1217.2 554.7L1218.8 555.9L1220.5 557.0L1222.1 558.1L1223.8 559.2L1225.5 560.3L1227.2 561.4L1228.9 562.4L1230.7 563.4L1232.4 564.4L1234.2 565.4L1236.0 566.4L1237.8 567.4L1239.6 568.3L1241.4 569.2" fill="none" stroke="#1c1c1c" stroke-width="2.5" stroke-linejoin="round" clip-path="url(#cf)"/>
<path d="M924.1 569.2L924.8 567.3L925.5 565.4L926.2 563.5L926.9 561.6L927.5 559.7L928.2 557.8L928.9 556.0L929.6 554.1L930.3 552.2L931.0 550.3L931.7 548.4L932.4 546.5L933.1 544.6L933.8 542.7L934.5 540.8L935.2 538.9L935.9 537.0L936.6 535.2L937.3 533.3L938.0 531.4L938.7 529.5L939.4 527.6L940.1 525.7L940.8 523.8L941.5 521.9L942.2 520.0L942.9 518.1L943.6 516.3L944.4 514.4L945.1 512.5L945.8 510.6L946.5 508.7L947.2 506.8L947.9 504.9L948.6 503.0L949.3 501.1L950.0 499.3L950.8 497.4L951.5 495.5L952.2 493.6L952.9 491.7L953.6 489.8L954.4 487.9L955.1 486.1L955.8 484.2L956.5 482.3L957.3 480.4L958.0 478.5L958.7 476.6L959.4 474.7L960.2 472.9L960.9 471.0L961.6 469.1L962.4 467.2L963.1 465.3L963.8 463.5L964.6 461.6L965.3 459.7L966.0 457.8L966.8 455.9L967.5 454.1L968.2 452.2L969.0 450.3L969.7 448.4L970.5 446.5L971.2 444.7L972.0 442.8L972.7 440.9L973.5 439.0L974.2 437.2L975.0 435.3L975.7 433.4L976.5 431.6L977.2 429.7L978.0 427.8L978.7 425.9L979.5 424.1L980.3 422.2L981.0 420.3L981.8 418.5L982.6 416.6L983.3 414.7L984.1 412.9L984.9 411.0L985.7 409.2L986.4 407.3L987.2 405.4L988.0 403.6L988.8 401.7L989.6 399.9L990.4 398.0L991.2 396.2L992.0 394.3L992.8 392.5L993.6 390.6L994.4 388.8L995.2 386.9L996.0 385.1L996.8 383.2L997.6 381.4L998.5 379.5L999.3 377.7L1000.1 375.9L1001.0 374.0L1001.8 372.2L1002.6 370.4L1003.5 368.5L1004.3 366.7L1005.2 364.9L1006.0 363.1L1006.9 361.2L1007.8 359.4L1008.6 357.6L1009.5 355.8L1010.4 354.0L1011.3 352.2L1012.2 350.4L1013.1 348.6L1014.0 346.8L1014.9 345.0L1015.8 343.2L1016.7 341.4L1017.6 339.6L1018.5 337.8L1019.4 336.0L1020.4 334.2L1021.3 332.4L1022.2 330.6L1023.2 328.9L1024.1 327.1L1025.1 325.3L1026.1 323.5L1027.0 321.8L1028.0 320.0L1029.0 318.3L1030.0 316.5L1030.0 316.5L1030.4 318.5L1030.9 320.5L1031.4 322.4L1031.8 324.4L1032.3 326.4L1032.8 328.3L1033.3 330.3L1033.8 332.2L1034.3 334.2L1034.8 336.2L1035.3 338.1L1035.9 340.1L1036.4 342.0L1036.9 343.9L1037.5 345.9L1038.1 347.8L1038.6 349.8L1039.2 351.7L1039.8 353.6L1040.3 355.6L1040.9 357.5L1041.5 359.4L1042.1 361.4L1042.7 363.3L1043.3 365.2L1043.9 367.1L1044.6 369.1L1045.2 371.0L1045.8 372.9L1046.5 374.8L1047.1 376.7L1047.7 378.6L1048.4 380.5L1049.0 382.5L1049.7 384.4L1050.3 386.3L1051.0 388.2L1051.7 390.1L1052.3 392.0L1053.0 393.9L1053.7 395.8L1054.3 397.7L1055.0 399.6L1055.7 401.5L1056.4 403.4L1057.1 405.3L1057.7 407.2L1058.4 409.1L1059.1 411.0L1059.8 412.9L1060.5 414.8L1061.2 416.7L1061.9 418.6L1062.6 420.5L1063.3 422.4L1064.0 424.3L1064.7 426.2L1065.4 428.1L1066.1 430.0L1066.8 431.9L1067.5 433.8L1068.2 435.7L1068.8 437.6L1069.5 439.5L1070.2 441.4L1070.9 443.3L1071.6 445.2L1072.3 447.1L1073.0 449.0L1073.7 450.9L1074.4 452.8L1075.1 454.7L1075.8 456.7L1076.4 458.6L1077.1 460.5L1077.8 462.4L1078.5 464.3L1079.2 466.2L1079.8 468.1L1080.5 470.0L1081.2 471.9L1081.9 473.8L1082.6 475.7L1083.3 477.6L1084.0 479.5L1084.7 481.4L1085.5 483.3L1086.2 485.1L1086.9 487.0L1087.7 488.9L1088.5 490.8L1089.2 492.6L1090.0 494.5L1090.8 496.3L1091.6 498.2L1092.5 500.0L1093.3 501.8L1094.2 503.7L1095.1 505.5L1096.0 507.3L1096.9 509.1L1097.8 510.9L1098.7 512.7L1099.7 514.4L1100.7 516.2L1101.7 517.9L1102.7 519.7L1103.7 521.4L1104.7 523.1L1105.8 524.8L1106.9 526.5L1108.0 528.2L1109.1 529.9L1110.2 531.6L1111.4 533.2L1112.6 534.9L1113.8 536.5L1115.0 538.1L1116.2 539.7L1117.4 541.3L1118.7 542.9L1119.9 544.5L1121.2 546.0L1122.5 547.6L1123.8 549.1L1125.2 550.6L1126.5 552.1L1127.9 553.6L1129.3 555.1L1130.6 556.6L1132.1 558.0L1133.5 559.5L1134.9 560.9L1136.4 562.3L1137.8 563.7L1139.3 565.1L1140.8 566.5L1142.3 567.8L1143.8 569.2" fill="none" stroke="#ee2a2a" stroke-width="2.5" stroke-dasharray="8,5" stroke-linejoin="round" clip-path="url(#cf)"/>
<path d="M924.1 569.2L924.4 567.2L924.7 565.2L925.0 563.2L925.3 561.2L925.5 559.2L925.8 557.2L926.1 555.2L926.4 553.2L926.7 551.2L927.0 549.2L927.3 547.1L927.6 545.1L927.9 543.1L928.2 541.1L928.5 539.1L928.7 537.1L929.0 535.1L929.3 533.1L929.6 531.1L929.9 529.1L930.2 527.1L930.5 525.1L930.8 523.1L931.1 521.1L931.4 519.1L931.7 517.1L932.0 515.1L932.3 513.1L932.6 511.1L932.9 509.1L933.2 507.1L933.5 505.1L933.8 503.0L934.0 501.0L934.3 499.0L934.6 497.0L934.9 495.0L935.2 493.0L935.5 491.0L935.8 489.0L936.1 487.0L936.4 485.0L936.7 483.0L937.0 481.0L937.3 479.0L937.6 477.0L937.9 475.0L938.2 473.0L938.5 471.0L938.8 469.0L939.1 467.0L939.4 465.0L939.7 463.0L940.0 461.0L940.3 459.0L940.6 457.0L940.9 454.9L941.2 452.9L941.5 450.9L941.8 448.9L942.1 446.9L942.4 444.9L942.7 442.9L943.0 440.9L943.3 438.9L943.6 436.9L943.9 434.9L944.2 432.9L944.5 430.9L944.8 428.9L945.1 426.9L945.5 424.9L945.8 422.9L946.1 420.9L946.4 418.9L946.7 416.9L947.0 414.9L947.3 412.9L947.6 410.9L947.9 408.9L948.2 406.9L948.5 404.9L948.8 402.9L949.1 400.9L949.4 398.9L949.7 396.9L950.0 394.9L950.3 392.9L950.7 390.9L951.0 388.8L951.3 386.8L951.6 384.8L951.9 382.8L952.2 380.8L952.5 378.8L952.8 376.8L953.1 374.8L953.4 372.8L953.7 370.8L954.1 368.8L954.4 366.8L954.7 364.8L955.0 362.8L955.3 360.8L955.6 358.8L955.9 356.8L956.2 354.8L956.6 352.8L956.9 350.8L957.2 348.8L957.5 346.8L957.8 344.8L958.1 342.8L958.4 340.8L958.7 338.8L959.1 336.8L959.4 334.8L959.7 332.8L960.0 330.8L960.3 328.8L960.6 326.8L961.0 324.8L961.3 322.8L961.6 320.8L961.6 320.8L961.8 322.8L962.1 324.8L962.3 326.9L962.5 328.9L962.8 330.9L963.0 332.9L963.2 334.9L963.5 336.9L963.7 339.0L963.9 341.0L964.2 343.0L964.4 345.0L964.6 347.0L964.8 349.1L965.1 351.1L965.3 353.1L965.5 355.1L965.8 357.1L966.0 359.2L966.2 361.2L966.4 363.2L966.7 365.2L966.9 367.2L967.1 369.3L967.3 371.3L967.6 373.3L967.8 375.3L968.0 377.3L968.2 379.4L968.5 381.4L968.7 383.4L968.9 385.4L969.2 387.4L969.4 389.5L969.6 391.5L969.9 393.5L970.1 395.5L970.3 397.5L970.6 399.5L970.8 401.6L971.1 403.6L971.3 405.6L971.5 407.6L971.8 409.6L972.0 411.6L972.3 413.7L972.5 415.7L972.8 417.7L973.0 419.7L973.3 421.7L973.5 423.7L973.8 425.8L974.1 427.8L974.3 429.8L974.6 431.8L974.8 433.8L975.1 435.8L975.4 437.8L975.7 439.8L975.9 441.9L976.2 443.9L976.5 445.9L976.8 447.9L977.1 449.9L977.3 451.9L977.6 453.9L977.9 455.9L978.2 457.9L978.5 459.9L978.8 462.0L979.1 464.0L979.4 466.0L979.8 468.0L980.1 470.0L980.4 472.0L980.7 474.0L981.0 476.0L981.4 478.0L981.7 480.0L982.0 482.0L982.4 484.0L982.7 486.0L983.0 488.0L983.4 490.0L983.7 492.0L984.1 494.0L984.4 496.0L984.8 498.0L985.2 500.0L985.5 502.0L985.9 504.0L986.3 506.0L986.7 508.0L987.0 510.0L987.4 512.0L987.8 514.0L988.2 516.0L988.6 518.0L989.0 519.9L989.4 521.9L989.8 523.9L990.3 525.9L990.7 527.9L991.1 529.9L991.5 531.9L992.0 533.9L992.4 535.9L992.8 537.8L993.3 539.8L993.7 541.8L994.2 543.8L994.7 545.8L995.1 547.8L995.6 549.7L996.1 551.7L996.5 553.7L997.0 555.7L997.5 557.6L998.0 559.6L998.5 561.6" fill="none" stroke="#2a2aee" stroke-width="2.5" stroke-dasharray="2.5,8" stroke-linejoin="round" clip-path="url(#cf)"/>
<path d="M924.1 569.2L924.3 567.2L924.4 565.2L924.6 563.1L924.7 561.1L924.9 559.1L925.0 557.1L925.2 555.1L925.4 553.0L925.5 551.0L925.7 549.0L925.8 547.0L926.0 545.0L926.1 542.9L926.3 540.9L926.4 538.9L926.6 536.9L926.8 534.9L926.9 532.9L927.1 530.8L927.2 528.8L927.4 526.8L927.5 524.8L927.7 522.8L927.8 520.7L928.0 518.7L928.1 516.7L928.3 514.7L928.4 512.7L928.6 510.6L928.7 508.6L928.9 506.6L929.0 504.6L929.2 502.6L929.3 500.5L929.5 498.5L929.6 496.5L929.8 494.5L929.9 492.5L930.1 490.4L930.2 488.4L930.4 486.4L930.5 484.4L930.7 482.4L930.8 480.3L931.0 478.3L931.1 476.3L931.3 474.3L931.4 472.3L931.6 470.2L931.7 468.2L931.9 466.2L932.0 464.2L932.2 462.2L932.3 460.1L932.4 458.1L932.6 456.1L932.7 454.1L932.9 452.1L933.0 450.0L933.2 448.0L933.3 446.0L933.5 444.0L933.6 442.0L933.7 439.9L933.9 437.9L934.0 435.9L934.2 433.9L934.3 431.9L934.5 429.8L934.6 427.8L934.7 425.8L934.9 423.8L935.0 421.8L935.2 419.7L935.3 417.7L935.5 415.7L935.6 413.7L935.7 411.7L935.9 409.6L936.0 407.6L936.2 405.6L936.3 403.6L936.4 401.5L936.6 399.5L936.7 397.5L936.9 395.5L937.0 393.5L937.2 391.4L937.3 389.4L937.4 387.4L937.6 385.4L937.7 383.4L937.8 381.3L938.0 379.3L938.1 377.3L938.3 375.3L938.4 373.3L938.5 371.2L938.7 369.2L938.8 367.2L939.0 365.2L939.1 363.2L939.2 361.1L939.4 359.1L939.5 357.1L939.6 355.1L939.8 353.1L939.9 351.0L940.1 349.0L940.2 347.0L940.3 345.0L940.5 343.0L940.6 340.9L940.7 338.9L940.9 336.9L941.0 334.9L941.1 332.8L941.3 330.8L941.4 328.8L941.6 326.8L941.7 324.8L941.8 322.7L942.0 320.7L942.1 318.7L942.1 318.7L942.2 320.7L942.3 322.7L942.5 324.8L942.6 326.8L942.7 328.8L942.8 330.8L942.9 332.9L943.1 334.9L943.2 336.9L943.3 338.9L943.4 340.9L943.5 343.0L943.7 345.0L943.8 347.0L943.9 349.0L944.0 351.0L944.1 353.1L944.3 355.1L944.4 357.1L944.5 359.1L944.6 361.2L944.8 363.2L944.9 365.2L945.0 367.2L945.1 369.2L945.3 371.3L945.4 373.3L945.5 375.3L945.6 377.3L945.8 379.3L945.9 381.4L946.0 383.4L946.2 385.4L946.3 387.4L946.4 389.4L946.5 391.5L946.7 393.5L946.8 395.5L946.9 397.5L947.1 399.6L947.2 401.6L947.3 403.6L947.4 405.6L947.6 407.6L947.7 409.7L947.8 411.7L948.0 413.7L948.1 415.7L948.2 417.7L948.4 419.8L948.5 421.8L948.6 423.8L948.8 425.8L948.9 427.8L949.1 429.9L949.2 431.9L949.3 433.9L949.5 435.9L949.6 437.9L949.7 440.0L949.9 442.0L950.0 444.0L950.2 446.0L950.3 448.0L950.4 450.1L950.6 452.1L950.7 454.1L950.9 456.1L951.0 458.1L951.1 460.2L951.3 462.2L951.4 464.2L951.6 466.2L951.7 468.2L951.9 470.3L952.0 472.3L952.1 474.3L952.3 476.3L952.4 478.3L952.6 480.4L952.7 482.4L952.9 484.4L953.0 486.4L953.2 488.4L953.3 490.5L953.5 492.5L953.6 494.5L953.8 496.5L953.9 498.5L954.1 500.6L954.2 502.6L954.4 504.6L954.5 506.6L954.7 508.6L954.8 510.7L955.0 512.7L955.1 514.7L955.3 516.7L955.4 518.7L955.6 520.8L955.8 522.8L955.9 524.8L956.1 526.8L956.2 528.8L956.4 530.8L956.6 532.9L956.7 534.9L956.9 536.9L957.0 538.9L957.2 540.9L957.4 543.0L957.5 545.0L957.7 547.0L957.8 549.0L958.0 551.0L958.2 553.1L958.3 555.1L958.5 557.1L958.7 559.1L958.8 561.1L959.0 563.1L959.2 565.2L959.3 567.2L959.5 569.2" fill="none" stroke="#ee22ee" stroke-width="2.5" stroke-dasharray="9,4,2.5,4" stroke-linejoin="round" clip-path="url(#cf)"/>
<path d="M112.9 849.5L113.0 847.5L113.1 845.4L113.2 843.4L113.3 841.3L113.4 839.3L113.5 837.3L113.6 835.2L113.7 833.2L113.9 831.2L114.0 829.2L114.1 827.2L114.3 825.1L114.4 823.1L114.5 821.1L114.7 819.1L114.9 817.1L115.0 815.1L115.2 813.1L115.3 811.1L115.5 809.1L115.7 807.2L115.9 805.2L116.1 803.2L116.3 801.2L116.5 799.2L116.7 797.2L116.9 795.2L117.1 793.3L117.3 791.3L117.5 789.3L117.8 787.3L118.0 785.3L118.3 783.3L118.5 781.4L118.8 779.4L119.0 777.4L119.3 775.4L119.6 773.4L119.9 771.5L120.1 769.5L120.4 767.5L120.7 765.5L121.0 763.5L121.4 761.5L121.7 759.5L122.0 757.6L122.3 755.6L122.7 753.6L123.0 751.6L123.4 749.6L123.8 747.6L124.1 745.6L124.5 743.6L124.9 741.6L125.3 739.6L125.7 737.5L126.1 735.5L126.5 733.5L127.0 731.5L127.4 729.5L127.9 727.5L128.4 725.5L128.9 723.5L129.4 721.5L130.0 719.6L130.5 717.6L131.1 715.6L131.7 713.7L132.4 711.7L133.0 709.8L133.7 707.9L134.4 706.0L135.2 704.2L136.0 702.3L136.8 700.5L137.6 698.7L138.5 696.9L139.4 695.1L140.4 693.3L141.4 691.6L142.5 689.9L143.5 688.2L144.7 686.6L145.8 685.0L147.0 683.4L148.3 681.8L149.6 680.3L150.9 678.8L152.2 677.4L153.6 676.0L155.1 674.6L156.5 673.3L158.0 672.0L159.6 670.8L161.1 669.6L162.7 668.5L164.4 667.4L166.0 666.4L167.7 665.4L169.5 664.5L171.2 663.7L173.0 662.9L174.8 662.2L176.6 661.5L178.5 660.9L180.4 660.3L182.3 659.8L184.2 659.4L186.2 659.0L188.1 658.6L190.1 658.3L192.1 658.0L194.2 657.8L196.2 657.6L198.2 657.4L200.3 657.2L202.3 657.1L204.4 657.0L206.4 656.9L208.5 656.9L210.6 656.8L212.7 656.8L214.7 656.7L216.8 656.7L218.9 656.7L220.9 656.7L223.0 656.7L225.0 656.6L227.1 656.6L229.1 656.6L231.2 656.6L233.2 656.6L235.2 656.5L237.2 656.5L239.2 656.5L241.3 656.5L243.3 656.4L245.3 656.4L247.3 656.4L249.3 656.4L251.3 656.3L253.3 656.3L255.3 656.3L257.3 656.3L259.3 656.2L261.3 656.2L263.3 656.2L265.3 656.1L267.2 656.1L269.2 656.1L271.2 656.0L273.2 656.0L275.2 656.0L277.2 655.9L279.2 655.9L281.2 655.9L283.2 655.8L285.2 655.8L287.2 655.8L289.2 655.7L291.3 655.7L293.3 655.7L295.3 655.6L297.3 655.6L299.3 655.5L301.3 655.5L303.4 655.5L305.4 655.4L307.4 655.4L309.4 655.3L311.4 655.3L313.5 655.3L315.5 655.2L317.5 655.2L319.5 655.1L321.6 655.1L323.6 655.0L325.6 655.0L327.6 654.9L329.6 654.9L331.7 654.8L333.7 654.8L335.7 654.7L337.7 654.7L339.8 654.6L341.8 654.6L343.8 654.5L345.8 654.4L347.9 654.4L349.9 654.3L351.9 654.3L353.9 654.2L355.9 654.1L357.9 654.1L360.0 654.0L362.0 653.9L364.0 653.8L366.0 653.8L368.0 653.7L370.0 653.6L372.0 653.5L374.0 653.5L376.0 653.4L378.0 653.3L378.0 653.3L377.9 655.3L377.8 657.4L377.8 659.4L377.7 661.4L377.6 663.4L377.5 665.5L377.4 667.5L377.3 669.5L377.2 671.5L377.1 673.5L377.0 675.5L376.9 677.5L376.7 679.5L376.6 681.5L376.5 683.5L376.3 685.5L376.2 687.5L376.0 689.5L375.9 691.5L375.7 693.5L375.6 695.5L375.4 697.5L375.2 699.5L375.0 701.5L374.8 703.5L374.6 705.4L374.4 707.4L374.1 709.4L373.9 711.4L373.6 713.4L373.4 715.3L373.1 717.3L372.8 719.3L372.5 721.3L372.2 723.2L371.9 725.2L371.6 727.2L371.3 729.2L370.9 731.1L370.6 733.1L370.2 735.1L369.8 737.1L369.4 739.0L369.0 741.0L368.5 743.0L368.1 744.9L367.6 746.9L367.1 748.9L366.7 750.9L366.1 752.8L365.6 754.8L365.1 756.8L364.5 758.8L363.9 760.7L363.3 762.7L362.7 764.6L362.1 766.6L361.4 768.5L360.7 770.4L360.0 772.4L359.2 774.2L358.4 776.1L357.6 778.0L356.7 779.8L355.8 781.6L354.8 783.4L353.8 785.1L352.8 786.8L351.7 788.5L350.6 790.1L349.4 791.7L348.2 793.2L347.0 794.7L345.6 796.1L344.3 797.4L342.8 798.7L341.3 799.9L339.8 801.0L338.2 802.1L336.6 803.1L334.9 804.1L333.2 805.0L331.4 805.9L329.6 806.7L327.8 807.4L326.0 808.2L324.1 808.8L322.2 809.5L320.2 810.1L318.3 810.7L316.3 811.2L314.3 811.7L312.3 812.3L310.3 812.7L308.3 813.2L306.3 813.7L304.3 814.1L302.3 814.5L300.3 815.0L298.3 815.4L296.3 815.8L294.3 816.2L292.3 816.6L290.3 817.0L288.3 817.4L286.3 817.8L284.3 818.2L282.3 818.6L280.3 818.9L278.3 819.3L276.3 819.7L274.4 820.0L272.4 820.4L270.4 820.7L268.4 821.1L266.4 821.4L264.5 821.7L262.5 822.0L260.5 822.4L258.5 822.7L256.5 823.0L254.6 823.3L252.6 823.6L250.6 823.9L248.6 824.2L246.7 824.5L244.7 824.8L242.7 825.0L240.7 825.3L238.8 825.6L236.8 825.8L234.8 826.1L232.8 826.4L230.9 826.6L228.9 826.9L226.9 827.1L224.9 827.4L222.9 827.6L220.9 827.8L219.0 828.1L217.0 828.3L215.0 828.5L213.0 828.7L211.0 829.0L209.0 829.2L207.0 829.4L205.0 829.6L203.0 829.8L201.0 830.0L199.0 830.2L197.0 830.4L195.0 830.7L193.0 830.9L191.0 831.1L189.0 831.3L187.0 831.5L185.0 831.8L183.0 832.0L180.9 832.2L178.9 832.5L176.9 832.7L174.9 833.0L172.9 833.3L171.0 833.6L169.0 833.9L167.0 834.2L165.0 834.6L163.0 834.9L161.0 835.3L159.1 835.7L157.1 836.1L155.1 836.5L153.2 836.9L151.2 837.4L149.3 837.9L147.3 838.4L145.4 838.9L143.4 839.4L141.5 840.0L139.6 840.6L137.7 841.2L135.8 841.8L133.8 842.4L131.9 843.0L130.0 843.6L128.1 844.3L126.2 844.9L124.3 845.6L122.4 846.2L120.5 846.9L118.6 847.5L116.7 848.2L114.8 848.8L112.9 849.5" fill="none" stroke="#3a8a48" stroke-width="2.5" stroke-dasharray="7,3,2.5,3,2.5,3" stroke-linejoin="round" clip-path="url(#cg)"/>
<path d="M112.9 802.5L114.0 770.0L118.5 743.4L118.5 743.4L119.1 741.6L119.7 739.7L120.3 737.8L120.9 735.9L121.6 733.9L122.3 732.0L123.1 730.0L123.9 728.0L124.7 726.1L125.6 724.2L126.5 722.3L127.5 720.5L128.6 718.7L129.7 717.0L130.9 715.4L132.2 713.9L133.5 712.4L135.0 711.1L136.5 709.9L138.1 708.8L139.7 707.8L141.4 706.9L143.2 706.0L145.0 705.3L146.9 704.5L148.8 703.9L150.7 703.3L152.7 702.8L154.6 702.3L156.6 701.8L158.6 701.4L160.6 701.0L162.5 700.6L164.5 700.3L166.5 700.0L168.5 699.7L170.5 699.4L172.5 699.2L174.5 699.0L176.5 698.8L178.6 698.6L180.6 698.4L182.6 698.3L184.6 698.2L186.6 698.1L188.7 698.0L190.7 697.9L192.7 697.9L194.8 697.8L196.8 697.8L198.8 697.8L200.9 697.8L202.9 697.7L204.9 697.7L207.0 697.7L209.0 697.8L211.0 697.8L213.1 697.8L215.1 697.8L217.2 697.8L219.2 697.8L221.2 697.8L223.3 697.8L225.3 697.8L227.3 697.8L229.4 697.8L231.4 697.8L233.4 697.8L235.5 697.8L237.5 697.8L239.5 697.8L241.6 697.8L243.6 697.8L245.6 697.8L247.7 697.7L249.7 697.7L251.7 697.7L253.7 697.7L255.8 697.6L257.8 697.6L259.8 697.6L261.8 697.6L263.9 697.5L265.9 697.5L267.9 697.5L270.0 697.4L272.0 697.4L274.0 697.3L276.0 697.3L278.0 697.3L280.1 697.2L282.1 697.2L284.1 697.1L286.1 697.1L288.2 697.0L290.2 697.0L292.2 697.0L294.2 696.9L296.3 696.9L298.3 696.8L300.3 696.8L302.3 696.7L304.3 696.7L306.4 696.6L308.4 696.6L310.4 696.5L312.4 696.5L314.5 696.5L316.5 696.4L318.5 696.4L320.5 696.3L322.6 696.3L324.6 696.2L326.6 696.2L328.6 696.1L330.7 696.1L332.7 696.1L334.7 696.0L336.7 696.0L338.8 695.9L340.8 695.9L342.8 695.9L344.8 695.8L346.9 695.8L348.9 695.8L350.9 695.7L352.9 695.7L355.0 695.7L357.0 695.7L359.0 695.6L361.1 695.6L363.1 695.6L365.1 695.6L367.2 695.6L369.2 695.5L371.2 695.5L373.3 695.5L375.3 695.5L375.3 695.5L378.0 699.1L377.6 726.9L371.6 747.2L371.6 747.2L371.1 749.5L370.5 751.7L369.8 753.8L369.0 755.8L368.1 757.7L367.1 759.4L366.0 761.1L364.9 762.7L363.6 764.2L362.3 765.7L360.9 767.0L359.5 768.2L358.0 769.4L356.4 770.5L354.8 771.5L353.1 772.4L351.4 773.3L349.7 774.1L347.9 774.8L346.1 775.5L344.2 776.1L342.3 776.7L340.4 777.2L338.5 777.6L336.5 778.0L334.5 778.4L332.5 778.7L330.5 779.0L328.5 779.3L326.4 779.6L324.4 779.8L322.3 780.0L320.2 780.2L318.2 780.4L316.1 780.5L314.0 780.7L312.0 780.9L309.9 781.0L307.8 781.2L305.8 781.4L303.7 781.5L301.7 781.7L299.7 781.9L297.6 782.0L295.6 782.2L293.6 782.4L291.5 782.5L289.5 782.7L287.5 782.9L285.5 783.0L283.5 783.2L281.4 783.4L279.4 783.5L277.4 783.7L275.4 783.9L273.4 784.0L271.4 784.2L269.4 784.4L267.4 784.5L265.4 784.7L263.4 784.9L261.4 785.0L259.4 785.2L257.4 785.3L255.4 785.5L253.4 785.6L251.4 785.8L249.4 785.9L247.4 786.1L245.3 786.2L243.3 786.4L241.3 786.5L239.3 786.6L237.3 786.8L235.3 786.9L233.3 787.0L231.2 787.2L229.2 787.3L227.2 787.4L225.2 787.6L223.2 787.7L221.1 787.8L219.1 788.0L217.1 788.1L215.1 788.2L213.1 788.4L211.0 788.5L209.0 788.6L207.0 788.8L205.0 788.9L202.9 789.1L200.9 789.2L198.9 789.4L196.9 789.5L194.8 789.7L192.8 789.9L190.8 790.0L188.8 790.2L186.7 790.4L184.7 790.6L182.7 790.8L180.7 791.0L178.7 791.2L176.6 791.4L174.6 791.6L172.6 791.8L170.6 792.0L168.6 792.2L166.6 792.5L164.6 792.7L162.5 793.0L160.5 793.2L158.5 793.5L156.5 793.8L154.5 794.1L152.5 794.4L150.5 794.7L148.5 795.0L146.5 795.3L144.5 795.6L142.5 796.0L140.5 796.3L138.5 796.7L136.6 797.1L134.6 797.5L132.6 797.9L130.6 798.3L128.6 798.7L126.7 799.1L124.7 799.6L122.7 800.0L120.7 800.5L118.8 801.0L116.8 801.5L114.9 802.0L112.9 802.5" fill="none" stroke="#ee22ee" stroke-width="2.5" stroke-dasharray="9,4,2.5,4" stroke-linejoin="round" clip-path="url(#cg)"/>
<path d="M112.9 776.6L113.5 750.0L122.2 734.1L122.2 734.1L123.9 732.8L125.5 731.6L127.2 730.5L129.0 729.4L130.7 728.5L132.5 727.5L134.3 726.7L136.1 725.9L137.9 725.1L139.7 724.5L141.6 723.8L143.5 723.2L145.4 722.7L147.3 722.2L149.2 721.8L151.1 721.4L153.0 721.1L155.0 720.7L157.0 720.5L158.9 720.2L160.9 720.0L162.9 719.8L164.9 719.7L166.9 719.6L168.9 719.5L170.9 719.4L173.0 719.3L175.0 719.3L177.0 719.2L179.1 719.2L181.1 719.2L183.1 719.2L185.2 719.2L187.2 719.2L189.3 719.2L191.3 719.2L193.3 719.3L195.4 719.3L197.4 719.3L199.4 719.3L201.5 719.3L203.5 719.3L205.5 719.3L207.6 719.4L209.6 719.4L211.6 719.4L213.7 719.4L215.7 719.4L217.7 719.4L219.7 719.4L221.8 719.4L223.8 719.5L225.8 719.5L227.8 719.5L229.9 719.5L231.9 719.5L233.9 719.5L235.9 719.5L238.0 719.5L240.0 719.5L242.0 719.5L244.0 719.5L246.1 719.5L248.1 719.5L250.1 719.5L252.1 719.5L254.1 719.5L256.2 719.5L258.2 719.5L260.2 719.5L262.2 719.4L264.2 719.4L266.3 719.4L268.3 719.4L270.3 719.4L272.3 719.4L274.3 719.3L276.3 719.3L278.4 719.3L280.4 719.3L282.4 719.2L284.4 719.2L286.4 719.2L288.4 719.1L290.5 719.1L292.5 719.1L294.5 719.0L296.5 719.0L298.5 719.0L300.6 718.9L302.6 718.9L304.6 718.9L306.6 718.8L308.6 718.8L310.6 718.7L312.7 718.7L314.7 718.7L316.7 718.6L318.7 718.6L320.7 718.5L322.7 718.5L324.8 718.5L326.8 718.4L328.8 718.4L330.8 718.3L332.8 718.3L334.9 718.3L336.9 718.2L338.9 718.2L340.9 718.2L342.9 718.1L345.0 718.1L347.0 718.0L349.0 718.0L351.0 718.0L353.0 717.9L355.1 717.9L357.1 717.9L359.1 717.8L361.1 717.8L363.2 717.8L365.2 717.7L367.2 717.7L369.2 717.7L371.2 717.7L373.3 717.6L375.3 717.6L375.3 717.6L378.0 721.3L377.6 739.8L367.9 754.6L367.9 754.6L365.9 755.0L364.0 755.4L362.0 755.7L360.0 756.1L358.0 756.4L356.0 756.8L354.0 757.1L352.1 757.4L350.1 757.7L348.1 758.0L346.1 758.3L344.1 758.6L342.1 758.9L340.1 759.1L338.1 759.4L336.1 759.6L334.1 759.8L332.1 760.1L330.1 760.3L328.1 760.5L326.1 760.7L324.1 760.9L322.1 761.1L320.1 761.3L318.1 761.5L316.1 761.7L314.1 761.8L312.1 762.0L310.1 762.1L308.1 762.3L306.0 762.5L304.0 762.6L302.0 762.7L300.0 762.9L298.0 763.0L296.0 763.1L294.0 763.3L292.0 763.4L289.9 763.5L287.9 763.6L285.9 763.7L283.9 763.9L281.9 764.0L279.9 764.1L277.9 764.2L275.8 764.3L273.8 764.4L271.8 764.5L269.8 764.6L267.8 764.7L265.7 764.8L263.7 764.8L261.7 764.9L259.7 765.0L257.7 765.1L255.6 765.2L253.6 765.3L251.6 765.4L249.6 765.5L247.6 765.6L245.6 765.6L243.5 765.7L241.5 765.8L239.5 765.9L237.5 766.0L235.5 766.1L233.4 766.2L231.4 766.3L229.4 766.4L227.4 766.5L225.4 766.6L223.4 766.7L221.3 766.7L219.3 766.8L217.3 766.9L215.3 767.0L213.3 767.2L211.2 767.3L209.2 767.4L207.2 767.5L205.2 767.6L203.2 767.7L201.2 767.8L199.2 767.9L197.1 768.1L195.1 768.2L193.1 768.3L191.1 768.4L189.1 768.6L187.1 768.7L185.1 768.8L183.0 769.0L181.0 769.1L179.0 769.3L177.0 769.4L175.0 769.6L173.0 769.7L171.0 769.9L169.0 770.1L167.0 770.2L164.9 770.4L162.9 770.6L160.9 770.8L158.9 770.9L156.9 771.1L154.9 771.3L152.9 771.5L150.9 771.7L148.9 771.9L146.9 772.1L144.9 772.4L142.9 772.6L140.9 772.8L138.9 773.0L136.9 773.3L134.9 773.5L132.9 773.8L130.9 774.0L128.9 774.3L126.9 774.6L124.9 774.8L122.9 775.1L120.9 775.4L118.9 775.7L116.9 776.0L114.9 776.3L112.9 776.6" fill="none" stroke="#2a2aee" stroke-width="2.5" stroke-dasharray="2.5,8" stroke-linejoin="round" clip-path="url(#cg)"/>
<path d="M112.9 758.1L114.8 747.1L122.2 738.8L122.2 738.8L124.2 738.5L126.2 738.2L128.1 737.9L130.1 737.6L132.1 737.3L134.1 737.1L136.1 736.8L138.1 736.6L140.1 736.4L142.1 736.1L144.1 735.9L146.1 735.7L148.1 735.5L150.1 735.4L152.1 735.2L154.1 735.0L156.1 734.9L158.1 734.7L160.1 734.6L162.1 734.5L164.1 734.4L166.1 734.2L168.1 734.1L170.1 734.0L172.1 733.9L174.2 733.9L176.2 733.8L178.2 733.7L180.2 733.6L182.2 733.6L184.2 733.5L186.2 733.5L188.3 733.4L190.3 733.4L192.3 733.3L194.3 733.3L196.3 733.3L198.3 733.2L200.4 733.2L202.4 733.2L204.4 733.2L206.4 733.2L208.4 733.1L210.5 733.1L212.5 733.1L214.5 733.1L216.5 733.1L218.6 733.1L220.6 733.1L222.6 733.1L224.6 733.1L226.6 733.1L228.7 733.1L230.7 733.1L232.7 733.1L234.7 733.1L236.8 733.1L238.8 733.1L240.8 733.1L242.8 733.1L244.8 733.1L246.9 733.1L248.9 733.1L250.9 733.1L252.9 733.1L254.9 733.0L257.0 733.0L259.0 733.0L261.0 733.0L263.0 733.0L265.0 732.9L267.1 732.9L269.1 732.9L271.1 732.8L273.1 732.8L275.1 732.8L277.1 732.7L279.2 732.7L281.2 732.7L283.2 732.6L285.2 732.6L287.2 732.5L289.2 732.5L291.3 732.4L293.3 732.4L295.3 732.3L297.3 732.3L299.3 732.3L301.3 732.2L303.3 732.2L305.4 732.1L307.4 732.0L309.4 732.0L311.4 731.9L313.4 731.9L315.4 731.8L317.5 731.8L319.5 731.7L321.5 731.7L323.5 731.6L325.5 731.6L327.5 731.5L329.5 731.5L331.6 731.4L333.6 731.4L335.6 731.3L337.6 731.3L339.6 731.2L341.6 731.2L343.7 731.1L345.7 731.1L347.7 731.0L349.7 731.0L351.7 730.9L353.8 730.9L355.8 730.8L357.8 730.8L359.8 730.8L361.8 730.7L363.9 730.7L365.9 730.6L367.9 730.6L367.9 730.6L377.1 732.4L378.0 739.8L373.4 747.2L373.4 747.2L371.4 747.4L369.4 747.5L367.4 747.7L365.3 747.8L363.3 748.0L361.3 748.1L359.3 748.3L357.3 748.4L355.3 748.6L353.3 748.7L351.2 748.8L349.2 748.9L347.2 749.1L345.2 749.2L343.2 749.3L341.2 749.4L339.1 749.5L337.1 749.6L335.1 749.7L333.1 749.8L331.1 749.9L329.1 750.0L327.0 750.1L325.0 750.2L323.0 750.3L321.0 750.4L319.0 750.5L317.0 750.6L314.9 750.7L312.9 750.7L310.9 750.8L308.9 750.9L306.9 751.0L304.8 751.0L302.8 751.1L300.8 751.2L298.8 751.2L296.8 751.3L294.7 751.4L292.7 751.4L290.7 751.5L288.7 751.5L286.6 751.6L284.6 751.7L282.6 751.7L280.6 751.8L278.6 751.8L276.5 751.9L274.5 751.9L272.5 752.0L270.5 752.0L268.4 752.1L266.4 752.1L264.4 752.2L262.4 752.2L260.4 752.3L258.3 752.3L256.3 752.3L254.3 752.4L252.3 752.4L250.2 752.5L248.2 752.5L246.2 752.6L244.2 752.6L242.2 752.6L240.1 752.7L238.1 752.7L236.1 752.8L234.1 752.8L232.0 752.9L230.0 752.9L228.0 753.0L226.0 753.0L224.0 753.0L221.9 753.1L219.9 753.1L217.9 753.2L215.9 753.2L213.8 753.3L211.8 753.3L209.8 753.4L207.8 753.4L205.8 753.5L203.7 753.5L201.7 753.6L199.7 753.7L197.7 753.7L195.6 753.8L193.6 753.8L191.6 753.9L189.6 754.0L187.6 754.0L185.5 754.1L183.5 754.2L181.5 754.2L179.5 754.3L177.5 754.4L175.4 754.5L173.4 754.5L171.4 754.6L169.4 754.7L167.4 754.8L165.3 754.9L163.3 755.0L161.3 755.0L159.3 755.1L157.3 755.2L155.2 755.3L153.2 755.4L151.2 755.5L149.2 755.6L147.2 755.8L145.1 755.9L143.1 756.0L141.1 756.1L139.1 756.2L137.1 756.3L135.1 756.5L133.0 756.6L131.0 756.7L129.0 756.9L127.0 757.0L125.0 757.2L123.0 757.3L121.0 757.5L118.9 757.6L116.9 757.8L114.9 757.9L112.9 758.1" fill="none" stroke="#ee2a2a" stroke-width="2.5" stroke-dasharray="8,5" stroke-linejoin="round" clip-path="url(#cg)"/>
<path d="M113.8 753.5L113.6 751.1L113.8 748.9L114.2 747.0L115.0 745.3L116.0 743.8L117.2 742.5L118.5 741.4L120.0 740.4L121.6 739.6L123.2 738.9L125.0 738.3L126.8 737.8L128.7 737.5L130.7 737.2L132.7 737.0L134.7 736.8L136.8 736.7L138.9 736.7L141.0 736.7L143.1 736.7L145.3 736.7L147.4 736.7L149.5 736.7L151.6 736.8L153.7 736.8L155.8 736.8L157.9 736.8L160.0 736.8L162.1 736.8L164.1 736.8L166.2 736.8L168.2 736.8L170.3 736.8L172.3 736.7L174.4 736.7L176.4 736.7L178.4 736.7L180.5 736.7L182.5 736.7L184.5 736.6L186.5 736.6L188.5 736.6L190.5 736.6L192.5 736.5L194.5 736.5L196.5 736.5L198.5 736.5L200.5 736.4L202.5 736.4L204.5 736.4L206.5 736.3L208.5 736.3L210.5 736.3L212.5 736.3L214.4 736.2L216.4 736.2L218.4 736.2L220.4 736.2L222.4 736.1L224.4 736.1L226.4 736.1L228.4 736.1L230.4 736.0L232.4 736.0L234.5 736.0L236.5 736.0L238.5 736.0L240.5 735.9L242.5 735.9L244.5 735.9L246.5 735.9L248.6 735.9L250.6 735.9L252.6 735.9L254.6 735.8L256.6 735.8L258.7 735.8L260.7 735.8L262.7 735.8L264.7 735.8L266.8 735.8L268.8 735.7L270.8 735.7L272.8 735.7L274.9 735.7L276.9 735.7L278.9 735.7L281.0 735.7L283.0 735.6L285.0 735.6L287.1 735.6L289.1 735.6L291.1 735.6L293.1 735.6L295.2 735.6L297.2 735.5L299.2 735.5L301.3 735.5L303.3 735.5L305.3 735.5L307.4 735.4L309.4 735.4L311.4 735.4L313.5 735.4L315.5 735.4L317.5 735.3L319.5 735.3L321.6 735.3L323.6 735.2L325.6 735.2L327.6 735.2L329.7 735.2L331.7 735.1L333.7 735.1L335.7 735.1L337.7 735.0L339.8 735.0L341.8 734.9L343.8 734.9L345.8 734.9L347.8 734.8L349.8 734.8L351.9 734.7L353.9 734.7L355.9 734.6L357.9 734.6L359.9 734.5L361.9 734.5L363.9 734.4L365.9 734.4L367.9 734.3L367.9 734.3L370.0 733.8L371.8 733.7L373.5 734.0L374.9 734.6L376.0 735.5L376.9 736.7L377.4 737.9L377.6 739.2L377.5 740.6L377.0 741.9L376.2 743.2L375.2 744.3L373.9 745.4L372.5 746.2L370.9 746.9L369.2 747.3L367.5 747.5L365.9 747.3L364.2 746.8L364.2 746.8L362.2 746.9L360.2 747.0L358.1 747.1L356.1 747.2L354.1 747.3L352.1 747.3L350.1 747.4L348.1 747.5L346.0 747.6L344.0 747.7L342.0 747.7L340.0 747.8L338.0 747.9L335.9 748.0L333.9 748.0L331.9 748.1L329.9 748.2L327.9 748.2L325.8 748.3L323.8 748.3L321.8 748.4L319.8 748.4L317.8 748.5L315.7 748.5L313.7 748.6L311.7 748.6L309.7 748.7L307.7 748.7L305.6 748.8L303.6 748.8L301.6 748.9L299.6 748.9L297.6 749.0L295.5 749.0L293.5 749.0L291.5 749.1L289.5 749.1L287.5 749.1L285.4 749.2L283.4 749.2L281.4 749.2L279.4 749.3L277.4 749.3L275.3 749.3L273.3 749.4L271.3 749.4L269.3 749.4L267.3 749.4L265.2 749.5L263.2 749.5L261.2 749.5L259.2 749.6L257.2 749.6L255.1 749.6L253.1 749.6L251.1 749.7L249.1 749.7L247.1 749.7L245.0 749.7L243.0 749.8L241.0 749.8L239.0 749.8L237.0 749.8L234.9 749.9L232.9 749.9L230.9 749.9L228.9 750.0L226.9 750.0L224.8 750.0L222.8 750.0L220.8 750.1L218.8 750.1L216.8 750.1L214.7 750.2L212.7 750.2L210.7 750.2L208.7 750.3L206.7 750.3L204.6 750.3L202.6 750.4L200.6 750.4L198.6 750.4L196.6 750.5L194.5 750.5L192.5 750.6L190.5 750.6L188.5 750.6L186.5 750.7L184.4 750.7L182.4 750.8L180.4 750.8L178.4 750.9L176.4 750.9L174.3 751.0L172.3 751.0L170.3 751.1L168.3 751.2L166.3 751.2L164.3 751.3L162.2 751.3L160.2 751.4L158.2 751.5L156.2 751.5L154.2 751.6L152.1 751.7L150.1 751.8L148.1 751.8L146.1 751.9L144.1 752.0L142.0 752.1L140.0 752.2L138.0 752.3L136.0 752.3L134.0 752.4L132.0 752.5L129.9 752.6L127.9 752.7L125.9 752.8L123.9 752.9L121.9 753.0L119.9 753.2L117.8 753.3L115.8 753.4L113.8 753.5" fill="none" stroke="#1c1c1c" stroke-width="2.6" stroke-linejoin="round" clip-path="url(#cg)"/>
<path d="M537.7 812.8L539.3 811.6L540.9 810.4L542.6 809.2L544.2 808.0L545.8 806.8L547.4 805.6L549.1 804.4L550.7 803.2L552.3 802.0L553.9 800.9L555.6 799.7L557.2 798.5L558.8 797.3L560.5 796.1L562.1 794.9L563.7 793.7L565.4 792.5L567.0 791.4L568.6 790.2L570.3 789.0L571.9 787.8L573.5 786.6L575.2 785.5L576.8 784.3L578.5 783.1L580.1 781.9L581.8 780.8L583.4 779.6L585.1 778.4L586.7 777.3L588.4 776.1L590.0 774.9L591.7 773.8L593.3 772.6L595.0 771.4L596.6 770.3L598.3 769.1L600.0 768.0L601.6 766.8L603.3 765.7L604.9 764.5L606.6 763.4L608.3 762.2L609.9 761.1L611.6 760.0L613.3 758.8L615.0 757.7L616.6 756.6L618.3 755.4L620.0 754.3L621.7 753.2L623.4 752.0L625.0 750.9L626.7 749.8L628.4 748.7L630.1 747.6L631.8 746.5L633.5 745.4L635.2 744.2L636.9 743.1L638.5 742.0L640.2 740.9L641.9 739.8L643.6 738.8L645.3 737.7L647.0 736.6L648.8 735.5L650.5 734.4L652.2 733.3L653.9 732.3L655.6 731.2L657.3 730.1L659.0 729.1L660.7 728.0L662.5 726.9L664.2 725.9L665.9 724.8L667.6 723.8L669.4 722.7L671.1 721.7L672.8 720.7L674.6 719.6L676.3 718.6L678.0 717.6L679.8 716.5L681.5 715.5L683.2 714.5L685.0 713.5L686.7 712.5L688.5 711.5L690.2 710.5L692.0 709.5L693.8 708.5L695.5 707.5L697.3 706.5L699.0 705.5L700.8 704.5L702.6 703.6L704.3 702.6L706.1 701.6L707.9 700.7L709.7 699.7L711.4 698.8L713.2 697.8L715.0 696.9L716.8 695.9L718.6 695.0L720.4 694.1L722.1 693.1L723.9 692.2L725.7 691.3L727.5 690.4L729.3 689.5L731.1 688.6L732.9 687.7L734.8 686.8L736.6 685.9L738.4 685.0L740.2 684.2L742.0 683.3L743.8 682.4L745.7 681.5L747.5 680.7L749.3 679.8L751.1 679.0L753.0 678.1L754.8 677.3L756.6 676.5L758.5 675.7L760.3 674.8L762.2 674.0L764.0 673.2L765.9 672.4L767.7 671.6L769.6 670.8L771.5 670.0L773.3 669.2L775.2 668.5L777.1 667.7L778.9 666.9L780.8 666.2L782.7 665.4L784.6 664.7L786.4 663.9L788.3 663.2L790.2 662.4L792.1 661.7L794.0 661.0L795.9 660.3L797.8 659.6L799.7 658.9L801.6 658.2L803.5 657.5L803.5 657.5L802.4 659.2L801.2 660.8L800.0 662.5L798.9 664.1L797.7 665.7L796.5 667.4L795.3 669.0L794.1 670.6L792.9 672.2L791.7 673.8L790.4 675.4L789.2 677.0L788.0 678.6L786.7 680.2L785.5 681.8L784.2 683.3L782.9 684.9L781.7 686.4L780.4 688.0L779.1 689.5L777.8 691.1L776.5 692.6L775.2 694.1L773.9 695.7L772.6 697.2L771.2 698.7L769.9 700.2L768.6 701.7L767.2 703.2L765.9 704.7L764.5 706.2L763.1 707.6L761.8 709.1L760.4 710.6L759.0 712.0L757.6 713.5L756.2 715.0L754.8 716.4L753.4 717.8L752.0 719.3L750.6 720.7L749.2 722.1L747.7 723.5L746.3 724.9L744.9 726.3L743.4 727.7L742.0 729.1L740.5 730.5L739.0 731.9L737.6 733.3L736.1 734.6L734.6 736.0L733.1 737.4L731.6 738.7L730.1 740.1L728.6 741.4L727.1 742.7L725.6 744.1L724.1 745.4L722.6 746.7L721.0 748.0L719.5 749.3L718.0 750.6L716.4 751.9L714.9 753.2L713.3 754.5L711.8 755.8L710.2 757.1L708.7 758.3L707.1 759.6L705.5 760.9L703.9 762.1L702.3 763.4L700.8 764.6L699.2 765.8L697.6 767.1L696.0 768.3L694.4 769.5L692.8 770.7L691.1 772.0L689.5 773.2L687.9 774.4L686.3 775.5L684.7 776.7L683.0 777.9L681.4 779.1L679.8 780.3L678.1 781.4L676.5 782.6L674.8 783.8L673.2 784.9L671.5 786.0L669.8 787.2L668.2 788.3L666.5 789.4L664.8 790.6L663.1 791.7L661.5 792.8L659.8 793.9L658.1 795.0L656.4 796.1L654.7 797.2L653.0 798.3L651.3 799.3L649.6 800.4L647.9 801.5L646.2 802.5L644.4 803.6L642.7 804.7L641.0 805.7L639.3 806.7L637.5 807.8L635.8 808.8L634.1 809.8L632.3 810.8L630.6 811.8L628.8 812.8L627.1 813.8L625.3 814.8L623.6 815.8L621.8 816.8L620.0 817.8L618.3 818.7L616.5 819.7L614.7 820.7L613.0 821.6L611.2 822.6L609.4 823.5L607.6 824.4L605.8 825.4L604.0 826.3L602.2 827.2L600.4 828.1L598.6 829.0L596.8 829.9L595.0 830.8L593.2 831.7L591.4 832.6L589.6 833.5L587.8 834.3L586.0 835.2L584.1 836.0L582.3 836.9L580.5 837.7L578.6 838.6L576.8 839.4L575.0 840.2L573.1 841.1L571.3 841.9L569.4 842.7L567.6 843.5L565.8 844.3L563.9 845.1L562.0 845.9L560.2 846.6L558.3 847.4L556.5 848.2L554.6 848.9L552.7 849.7L550.9 850.4L549.0 851.2L547.1 851.9L545.2 852.6L543.4 853.4L541.5 854.1L539.6 854.8L537.7 855.5L537.7 855.5L538.8 853.8L539.8 852.1L540.9 850.4L542.1 848.7L543.2 847.1L544.3 845.4L545.5 843.8L546.7 842.2L547.9 840.6L549.1 839.0L550.3 837.4L551.5 835.8L552.8 834.2L554.0 832.7L555.3 831.1L556.6 829.6L557.8 828.0L559.2 826.5L560.5 825.0L561.8 823.5L563.1 822.0L564.5 820.5L565.8 819.1L567.2 817.6L568.6 816.1L570.0 814.7L571.4 813.2L572.8 811.8L574.2 810.4L575.6 809.0L577.0 807.5L578.5 806.1L579.9 804.7L581.4 803.3L582.8 802.0L584.3 800.6L585.8 799.2L587.3 797.8L588.8 796.5L590.2 795.1L591.7 793.8L593.2 792.4L594.8 791.1L596.3 789.8L597.8 788.4L599.3 787.1L600.8 785.8L602.4 784.5L603.9 783.2L605.4 781.9L607.0 780.6L608.5 779.3L610.1 778.0L611.7 776.7L613.2 775.5L614.8 774.2L616.4 772.9L617.9 771.7L619.5 770.4L621.1 769.2L622.7 767.9L624.3 766.7L625.9 765.5L627.5 764.2L629.1 763.0L630.7 761.8L632.3 760.6L633.9 759.4L635.6 758.2L637.2 757.0L638.8 755.8L640.4 754.7L642.1 753.5L643.7 752.3L645.4 751.1L647.0 750.0L648.7 748.8L650.3 747.7L652.0 746.6L653.7 745.4L655.3 744.3L657.0 743.2L658.7 742.1L660.4 741.0L662.1 739.9L663.7 738.8L665.4 737.7L667.1 736.6L668.8 735.5L670.5 734.5L672.3 733.4L674.0 732.3L675.7 731.3L677.4 730.2L679.1 729.2L680.8 728.2L682.6 727.1L684.3 726.1L686.0 725.1L687.8 724.1L689.5 723.1L691.3 722.1L693.0 721.1L694.8 720.1L696.5 719.1L698.3 718.2L700.0 717.2L701.8 716.2L703.6 715.3L705.4 714.3L707.1 713.4L708.9 712.5L710.7 711.5L712.5 710.6L714.3 709.7L716.1 708.8L717.9 707.9L719.7 707.0L721.5 706.1L723.3 705.2L725.1 704.3L726.9 703.4L728.7 702.6L730.5 701.7L732.3 700.8L734.2 700.0L736.0 699.2L737.8 698.3L739.6 697.5L741.5 696.7L743.3 695.8L745.2 695.0L747.0 694.2L748.8 693.4L750.7 692.6L752.5 691.8L754.4 691.0L756.3 690.3L758.1 689.5L760.0 688.7L761.8 688.0L763.7 687.2L765.6 686.5L767.4 685.7L769.3 685.0L771.2 684.3L773.1 683.5L775.0 682.8L776.9 682.1L778.7 681.4L780.6 680.7L782.5 680.0L784.4 679.3L786.3 678.7L788.2 678.0L790.1 677.3L792.0 676.7L793.9 676.0L795.8 675.3L797.8 674.7L799.7 674.1L801.6 673.4L803.5 672.8L803.5 672.8L802.4 674.5L801.2 676.1L800.0 677.8L798.8 679.4L797.6 681.0L796.4 682.6L795.2 684.2L793.9 685.8L792.6 687.3L791.4 688.9L790.1 690.4L788.8 692.0L787.5 693.5L786.2 695.0L784.8 696.5L783.5 698.0L782.2 699.5L780.8 701.0L779.4 702.4L778.1 703.9L776.7 705.4L775.3 706.8L773.9 708.2L772.5 709.7L771.1 711.1L769.7 712.5L768.2 713.9L766.8 715.3L765.4 716.7L763.9 718.1L762.5 719.5L761.0 720.9L759.5 722.3L758.1 723.7L756.6 725.1L755.1 726.4L753.7 727.8L752.2 729.2L750.7 730.6L749.2 731.9L747.7 733.3L746.3 734.6L744.8 736.0L743.3 737.4L741.8 738.7L740.3 740.1L738.8 741.4L737.3 742.8L735.8 744.2L734.3 745.5L732.8 746.9L731.4 748.2L729.9 749.6L728.4 751.0L726.9 752.3L725.4 753.7L723.9 755.0L722.4 756.4L720.9 757.7L719.4 759.0L717.9 760.4L716.4 761.7L714.9 763.1L713.3 764.4L711.8 765.7L710.3 767.0L708.8 768.3L707.3 769.6L705.7 770.9L704.2 772.2L702.6 773.5L701.1 774.8L699.5 776.1L698.0 777.3L696.4 778.6L694.8 779.8L693.3 781.1L691.7 782.3L690.1 783.5L688.5 784.7L686.9 785.9L685.3 787.1L683.6 788.3L682.0 789.4L680.4 790.6L678.7 791.8L677.1 792.9L675.4 794.0L673.7 795.1L672.1 796.2L670.4 797.3L668.7 798.4L667.0 799.5L665.3 800.5L663.6 801.6L661.9 802.6L660.1 803.7L658.4 804.7L656.7 805.7L654.9 806.7L653.2 807.7L651.4 808.7L649.7 809.7L647.9 810.7L646.2 811.6L644.4 812.6L642.6 813.6L640.8 814.5L639.0 815.4L637.3 816.4L635.5 817.3L633.7 818.2L631.9 819.1L630.1 820.0L628.3 820.9L626.4 821.8L624.6 822.7L622.8 823.6L621.0 824.4L619.2 825.3L617.3 826.2L615.5 827.0L613.7 827.9L611.9 828.7L610.0 829.5L608.2 830.4L606.3 831.2L604.5 832.0L602.7 832.8L600.8 833.7L599.0 834.5L597.1 835.3L595.3 836.1L593.4 836.8L591.6 837.6L589.7 838.4L587.9 839.2L586.0 839.9L584.2 840.7L582.3 841.4L580.4 842.1L578.5 842.8L576.7 843.5L574.8 844.2L572.9 844.8L571.0 845.4L569.1 846.1L567.2 846.7L565.3 847.3L563.3 847.8L561.4 848.4L559.5 848.9L557.5 849.4L555.6 849.9L553.6 850.3L551.7 850.7L549.7 851.1L547.7 851.5L545.7 851.9L543.7 852.2L541.7 852.5L539.7 852.8L537.7 853.0" fill="none" stroke="#ee22ee" stroke-width="2.5" stroke-dasharray="10,3,2,3" stroke-linejoin="round" clip-path="url(#ch)"/>
<path d="M537.7 828.1L539.2 826.8L540.7 825.4L542.1 824.1L543.6 822.7L545.1 821.3L546.5 819.9L548.0 818.6L549.4 817.2L550.9 815.8L552.3 814.4L553.8 813.0L555.2 811.5L556.7 810.1L558.1 808.7L559.6 807.3L561.0 805.9L562.5 804.5L563.9 803.0L565.4 801.6L566.8 800.2L568.3 798.8L569.7 797.4L571.2 796.0L572.6 794.6L574.1 793.1L575.6 791.7L577.0 790.3L578.5 788.9L580.0 787.6L581.5 786.2L582.9 784.8L584.4 783.4L585.9 782.1L587.4 780.7L589.0 779.4L590.5 778.0L592.0 776.7L593.5 775.4L595.1 774.1L596.6 772.8L598.2 771.5L599.7 770.2L601.3 769.0L602.9 767.7L604.5 766.5L606.1 765.3L607.7 764.1L609.3 762.9L611.0 761.7L612.6 760.6L614.2 759.4L615.9 758.3L617.6 757.2L619.2 756.1L620.9 755.0L622.6 753.9L624.3 752.8L626.0 751.8L627.7 750.8L629.5 749.8L631.2 748.8L633.0 747.8L634.7 746.9L636.5 745.9L638.3 745.0L640.1 744.1L641.9 743.2L643.7 742.4L645.5 741.5L647.3 740.6L649.1 739.8L651.0 739.0L652.8 738.2L654.6 737.4L656.5 736.6L658.4 735.9L660.2 735.1L662.1 734.4L664.0 733.6L665.9 732.9L667.7 732.2L669.6 731.5L671.5 730.9L673.4 730.2L675.3 729.5L677.3 728.9L679.2 728.2L681.1 727.6L683.0 727.0L684.9 726.4L686.9 725.8L688.8 725.2L690.8 724.6L692.7 724.0L694.6 723.4L696.6 722.9L698.5 722.3L700.5 721.8L702.4 721.2L704.4 720.7L706.4 720.2L708.3 719.6L710.3 719.1L712.2 718.6L714.2 718.1L716.2 717.6L718.1 717.1L720.1 716.6L722.1 716.1L724.0 715.7L726.0 715.2L728.0 714.7L729.9 714.2L731.9 713.8L733.9 713.3L735.8 712.9L737.8 712.4L739.7 712.0L741.7 711.5L743.7 711.1L745.6 710.7L747.6 710.2L749.6 709.8L751.6 709.4L753.5 709.0L755.5 708.6L757.5 708.3L759.4 707.9L761.4 707.6L763.4 707.2L765.4 706.9L767.4 706.6L769.3 706.3L771.3 706.0L773.3 705.7L775.3 705.4L777.3 705.2L779.3 704.9L781.3 704.7L783.3 704.5L785.3 704.3L787.3 704.1L789.3 704.0L791.3 703.8L793.4 703.7L795.4 703.6L797.4 703.5L799.4 703.5L801.5 703.4L803.5 703.4L803.5 703.4L802.9 705.4L802.3 707.4L801.6 709.3L800.8 711.2L800.1 713.1L799.2 714.9L798.3 716.7L797.4 718.4L796.4 720.2L795.4 721.9L794.3 723.5L793.2 725.2L792.1 726.8L790.9 728.4L789.7 730.0L788.4 731.5L787.1 733.0L785.8 734.5L784.5 736.0L783.1 737.4L781.7 738.8L780.3 740.2L778.8 741.6L777.3 743.0L775.8 744.3L774.3 745.7L772.8 747.0L771.2 748.3L769.6 749.5L768.0 750.8L766.4 752.0L764.8 753.3L763.2 754.5L761.6 755.7L759.9 756.9L758.3 758.1L756.6 759.3L755.0 760.4L753.3 761.6L751.6 762.7L749.9 763.9L748.2 765.0L746.5 766.1L744.8 767.2L743.1 768.3L741.4 769.3L739.7 770.4L737.9 771.4L736.2 772.4L734.4 773.4L732.7 774.4L730.9 775.4L729.1 776.3L727.4 777.3L725.6 778.2L723.8 779.1L722.0 779.9L720.2 780.8L718.3 781.7L716.5 782.5L714.7 783.3L712.8 784.1L711.0 784.9L709.1 785.7L707.3 786.4L705.4 787.2L703.6 787.9L701.7 788.6L699.8 789.4L697.9 790.1L696.1 790.8L694.2 791.5L692.3 792.2L690.4 792.9L688.5 793.5L686.6 794.2L684.7 794.9L682.8 795.5L680.9 796.2L679.0 796.8L677.1 797.5L675.2 798.1L673.3 798.7L671.4 799.4L669.5 800.0L667.5 800.6L665.6 801.2L663.7 801.8L661.8 802.4L659.8 803.0L657.9 803.6L656.0 804.2L654.0 804.7L652.1 805.3L650.2 805.9L648.2 806.4L646.3 807.0L644.4 807.5L642.4 808.1L640.5 808.6L638.5 809.1L636.6 809.6L634.6 810.2L632.7 810.7L630.7 811.2L628.8 811.7L626.8 812.2L624.8 812.7L622.9 813.2L620.9 813.6L619.0 814.1L617.0 814.6L615.0 815.1L613.1 815.5L611.1 816.0L609.1 816.4L607.2 816.9L605.2 817.3L603.2 817.7L601.2 818.2L599.3 818.6L597.3 819.0L595.3 819.4L593.3 819.8L591.4 820.2L589.4 820.6L587.4 821.0L585.4 821.4L583.4 821.8L581.5 822.2L579.5 822.5L577.5 822.9L575.5 823.3L573.5 823.6L571.5 824.0L569.5 824.3L567.6 824.7L565.6 825.0L563.6 825.3L561.6 825.7L559.6 826.0L557.6 826.3L555.6 826.6L553.6 826.9L551.6 827.2L549.7 827.5L547.7 827.8L545.7 828.1L543.7 828.4L541.7 828.7L539.7 828.9L537.7 829.2" fill="none" stroke="#2a2aee" stroke-width="2.5" stroke-dasharray="2.2,4.2" stroke-linejoin="round" clip-path="url(#ch)"/>
<path d="M537.7 806.3L538.9 804.7L540.2 803.1L541.4 801.5L542.7 799.9L544.0 798.4L545.4 796.8L546.7 795.3L548.1 793.8L549.5 792.4L550.8 790.9L552.3 789.5L553.7 788.1L555.1 786.7L556.6 785.3L558.1 783.9L559.6 782.6L561.1 781.3L562.6 779.9L564.2 778.7L565.7 777.4L567.3 776.1L568.9 774.9L570.5 773.7L572.1 772.5L573.8 771.3L575.4 770.2L577.1 769.0L578.7 767.9L580.4 766.8L582.1 765.7L583.8 764.6L585.5 763.6L587.3 762.6L589.0 761.6L590.8 760.6L592.5 759.6L594.3 758.6L596.1 757.7L597.9 756.7L599.7 755.8L601.5 754.9L603.3 754.1L605.2 753.2L607.0 752.4L608.8 751.6L610.7 750.8L612.6 750.0L614.4 749.2L616.3 748.4L618.2 747.7L620.1 747.0L622.0 746.3L623.9 745.6L625.8 744.9L627.7 744.3L629.7 743.7L631.6 743.0L633.5 742.4L635.5 741.9L637.4 741.3L639.4 740.7L641.3 740.2L643.3 739.7L645.3 739.2L647.2 738.7L649.2 738.2L651.2 737.8L653.1 737.4L655.1 736.9L657.1 736.5L659.1 736.2L661.0 735.8L663.0 735.4L665.0 735.1L667.0 734.8L669.0 734.5L671.0 734.2L673.0 733.9L675.0 733.6L676.9 733.3L678.9 733.1L680.9 732.8L682.9 732.6L684.9 732.4L686.9 732.2L688.9 732.0L691.0 731.8L693.0 731.6L695.0 731.5L697.0 731.3L699.0 731.1L701.0 731.0L703.0 730.9L705.0 730.7L707.0 730.6L709.1 730.5L711.1 730.4L713.1 730.2L715.1 730.1L717.1 730.0L719.1 729.9L721.2 729.8L723.2 729.7L725.2 729.7L727.2 729.6L729.3 729.5L731.3 729.4L733.3 729.3L735.3 729.2L737.4 729.1L739.4 729.1L741.4 729.0L743.4 728.9L745.5 728.8L747.5 728.8L749.5 728.7L751.5 728.6L753.6 728.6L755.6 728.5L757.6 728.5L759.6 728.4L761.7 728.4L763.7 728.3L765.7 728.3L767.7 728.3L769.8 728.3L771.8 728.2L773.8 728.2L775.8 728.2L777.8 728.2L779.8 728.3L781.9 728.3L783.9 728.3L785.9 728.4L787.9 728.4L789.9 728.5L791.9 728.6L793.8 728.8L795.8 729.0L797.8 729.3L799.7 729.7L801.6 730.1L803.5 730.6L803.5 730.6L802.4 732.3L801.2 733.9L800.0 735.5L798.8 737.1L797.5 738.6L796.2 740.1L794.9 741.6L793.5 743.0L792.1 744.4L790.6 745.7L789.2 747.1L787.7 748.3L786.2 749.6L784.6 750.8L783.0 752.0L781.4 753.2L779.8 754.4L778.2 755.5L776.5 756.6L774.8 757.7L773.1 758.7L771.4 759.7L769.6 760.7L767.9 761.7L766.1 762.7L764.3 763.6L762.5 764.6L760.7 765.5L758.9 766.3L757.1 767.2L755.2 768.1L753.4 768.9L751.5 769.7L749.6 770.5L747.8 771.3L745.9 772.1L744.0 772.9L742.1 773.7L740.3 774.4L738.4 775.1L736.5 775.9L734.6 776.6L732.7 777.3L730.8 778.0L728.9 778.6L726.9 779.3L725.0 780.0L723.1 780.6L721.2 781.2L719.3 781.8L717.3 782.5L715.4 783.1L713.5 783.6L711.5 784.2L709.6 784.8L707.6 785.3L705.7 785.9L703.7 786.4L701.8 786.9L699.8 787.4L697.9 787.9L695.9 788.4L694.0 788.9L692.0 789.3L690.0 789.8L688.1 790.2L686.1 790.7L684.1 791.1L682.1 791.5L680.2 791.9L678.2 792.3L676.2 792.7L674.2 793.0L672.2 793.4L670.3 793.7L668.3 794.1L666.3 794.4L664.3 794.7L662.3 795.0L660.3 795.4L658.3 795.7L656.3 795.9L654.3 796.2L652.3 796.5L650.3 796.8L648.3 797.0L646.3 797.3L644.3 797.5L642.3 797.8L640.3 798.0L638.3 798.2L636.3 798.4L634.3 798.6L632.3 798.8L630.3 799.1L628.3 799.2L626.3 799.4L624.3 799.6L622.3 799.8L620.3 800.0L618.2 800.2L616.2 800.3L614.2 800.5L612.2 800.7L610.2 800.8L608.2 801.0L606.2 801.1L604.2 801.3L602.1 801.4L600.1 801.6L598.1 801.7L596.1 801.9L594.1 802.0L592.1 802.2L590.0 802.3L588.0 802.4L586.0 802.6L584.0 802.7L582.0 802.9L580.0 803.0L578.0 803.1L575.9 803.3L573.9 803.4L571.9 803.6L569.9 803.7L567.9 803.8L565.9 804.0L563.8 804.1L561.8 804.3L559.8 804.4L557.8 804.6L555.8 804.7L553.8 804.9L551.8 805.1L549.8 805.2L547.7 805.4L545.7 805.6L543.7 805.7L541.7 805.9L539.7 806.1L537.7 806.3" fill="none" stroke="#ee2a2a" stroke-width="2.5" stroke-dasharray="8,4" stroke-linejoin="round" clip-path="url(#ch)"/>
<path d="M537.7 788.8L539.0 787.2L540.4 785.6L541.8 784.1L543.2 782.6L544.7 781.1L546.2 779.7L547.7 778.4L549.2 777.1L550.8 775.8L552.3 774.6L553.9 773.4L555.5 772.2L557.2 771.1L558.8 770.0L560.5 769.0L562.2 768.0L563.9 767.0L565.6 766.1L567.4 765.2L569.1 764.3L570.9 763.5L572.7 762.7L574.5 761.9L576.3 761.1L578.2 760.4L580.0 759.7L581.9 759.1L583.8 758.4L585.6 757.8L587.5 757.2L589.4 756.7L591.3 756.1L593.3 755.6L595.2 755.1L597.1 754.6L599.1 754.2L601.0 753.8L603.0 753.3L604.9 753.0L606.9 752.6L608.9 752.2L610.9 751.9L612.9 751.6L614.9 751.3L616.9 751.0L618.9 750.7L620.9 750.4L622.9 750.2L624.9 750.0L626.9 749.8L629.0 749.6L631.0 749.4L633.0 749.2L635.0 749.0L637.1 748.8L639.1 748.7L641.2 748.6L643.2 748.4L645.2 748.3L647.3 748.2L649.3 748.1L651.3 748.0L653.4 747.9L655.4 747.8L657.4 747.7L659.5 747.6L661.5 747.5L663.5 747.4L665.6 747.3L667.6 747.3L669.6 747.2L671.6 747.1L673.7 747.1L675.7 747.0L677.7 747.0L679.7 746.9L681.8 746.9L683.8 746.8L685.8 746.8L687.8 746.7L689.8 746.7L691.8 746.6L693.9 746.6L695.9 746.6L697.9 746.6L699.9 746.5L701.9 746.5L703.9 746.5L705.9 746.5L707.9 746.4L709.9 746.4L712.0 746.4L714.0 746.4L716.0 746.4L718.0 746.4L720.0 746.3L722.0 746.3L724.0 746.3L726.0 746.3L728.0 746.3L730.0 746.3L732.0 746.3L734.0 746.3L736.0 746.3L738.0 746.3L740.1 746.3L742.1 746.3L744.1 746.3L746.1 746.2L748.1 746.2L750.1 746.2L752.1 746.2L754.1 746.2L756.1 746.2L758.1 746.2L760.1 746.2L762.1 746.2L764.1 746.2L766.2 746.1L768.2 746.1L770.2 746.1L772.2 746.1L774.2 746.1L776.2 746.0L778.2 746.0L780.2 746.0L782.3 746.0L784.3 745.9L786.3 745.9L788.3 745.9L790.3 745.8L792.4 745.8L794.4 745.8L796.4 745.7L798.4 745.7L800.4 745.6L802.5 745.6L804.5 745.5L804.5 745.5L803.5 747.4L802.4 749.2L801.3 751.0L800.1 752.7L798.8 754.3L797.6 755.8L796.2 757.3L794.8 758.7L793.4 760.0L791.9 761.3L790.4 762.5L788.8 763.7L787.2 764.8L785.6 765.8L783.9 766.8L782.2 767.8L780.5 768.7L778.7 769.5L776.9 770.3L775.1 771.1L773.3 771.8L771.4 772.5L769.6 773.1L767.7 773.7L765.7 774.3L763.8 774.9L761.9 775.4L759.9 775.9L757.9 776.3L756.0 776.8L754.0 777.2L752.0 777.6L750.0 778.0L748.0 778.4L746.0 778.7L744.0 779.1L742.0 779.4L740.0 779.7L738.0 780.0L736.0 780.3L734.0 780.5L732.0 780.8L730.0 781.0L727.9 781.2L725.9 781.4L723.9 781.6L721.9 781.8L719.8 782.0L717.8 782.2L715.8 782.3L713.7 782.5L711.7 782.6L709.7 782.7L707.6 782.9L705.6 783.0L703.5 783.1L701.5 783.2L699.5 783.3L697.4 783.4L695.4 783.5L693.3 783.6L691.3 783.7L689.3 783.7L687.2 783.8L685.2 783.9L683.2 784.0L681.1 784.1L679.1 784.2L677.1 784.2L675.0 784.3L673.0 784.4L671.0 784.5L669.0 784.6L666.9 784.6L664.9 784.7L662.9 784.8L660.9 784.9L658.8 785.0L656.8 785.1L654.8 785.1L652.8 785.2L650.8 785.3L648.7 785.4L646.7 785.5L644.7 785.5L642.7 785.6L640.7 785.7L638.7 785.8L636.7 785.9L634.6 785.9L632.6 786.0L630.6 786.1L628.6 786.2L626.6 786.2L624.6 786.3L622.6 786.4L620.6 786.5L618.6 786.6L616.5 786.6L614.5 786.7L612.5 786.8L610.5 786.9L608.5 786.9L606.5 787.0L604.5 787.1L602.5 787.2L600.4 787.2L598.4 787.3L596.4 787.4L594.4 787.4L592.4 787.5L590.4 787.6L588.4 787.7L586.4 787.7L584.3 787.8L582.3 787.9L580.3 787.9L578.3 788.0L576.3 788.1L574.2 788.1L572.2 788.2L570.2 788.3L568.2 788.3L566.2 788.4L564.1 788.4L562.1 788.5L560.1 788.6L558.1 788.6L556.0 788.7L554.0 788.8L552.0 788.8L549.9 788.9L547.9 788.9L545.9 789.0L543.8 789.0L541.8 789.1L539.7 789.1L537.7 789.2" fill="none" stroke="#1c1c1c" stroke-width="2.6" stroke-linejoin="round" clip-path="url(#ch)"/>
<path d="M920.4 874.2L921.5 872.5L922.5 870.8L923.6 869.1L924.6 867.4L925.7 865.6L926.8 863.9L927.8 862.2L928.9 860.5L929.9 858.8L930.9 857.0L932.0 855.3L933.0 853.6L934.1 851.9L935.1 850.1L936.1 848.4L937.2 846.7L938.2 844.9L939.2 843.2L940.2 841.5L941.3 839.7L942.3 838.0L943.3 836.3L944.3 834.5L945.3 832.8L946.4 831.0L947.4 829.3L948.4 827.5L949.4 825.8L950.4 824.0L951.4 822.3L952.4 820.6L953.4 818.8L954.4 817.1L955.5 815.3L956.5 813.6L957.5 811.8L958.5 810.1L959.5 808.3L960.5 806.6L961.5 804.8L962.5 803.0L963.5 801.3L964.5 799.5L965.5 797.8L966.5 796.0L967.5 794.3L968.5 792.5L969.5 790.8L970.5 789.0L971.5 787.3L972.5 785.5L973.5 783.8L974.5 782.0L975.5 780.2L976.5 778.5L977.5 776.7L978.5 775.0L979.5 773.2L980.5 771.5L981.5 769.7L982.5 768.0L983.5 766.2L984.5 764.5L985.5 762.7L986.5 761.0L987.5 759.2L988.5 757.5L989.5 755.7L990.5 754.0L991.6 752.2L992.6 750.5L993.6 748.7L994.6 747.0L995.6 745.2L996.6 743.5L997.6 741.7L998.7 740.0L999.7 738.3L1000.7 736.5L1001.7 734.8L1002.8 733.0L1003.8 731.3L1004.8 729.6L1005.8 727.8L1006.9 726.1L1007.9 724.4L1008.9 722.6L1010.0 720.9L1011.0 719.2L1012.1 717.4L1013.1 715.7L1014.2 714.0L1015.2 712.3L1016.3 710.5L1017.3 708.8L1018.4 707.1L1019.4 705.4L1020.5 703.7L1021.5 702.0L1022.6 700.3L1023.7 698.5L1024.8 696.8L1025.8 695.1L1026.9 693.4L1028.0 691.7L1029.1 690.0L1030.2 688.3L1031.3 686.6L1032.3 684.9L1033.4 683.2L1034.5 681.6L1035.6 679.9L1036.8 678.2L1037.9 676.5L1039.0 674.8L1040.1 673.1L1041.2 671.5L1042.3 669.8L1043.5 668.1L1044.6 666.5L1045.7 664.8L1046.9 663.1L1048.0 661.5L1049.2 659.8L1050.3 658.2L1051.5 656.5L1052.6 654.9L1053.8 653.2L1055.0 651.6L1056.1 649.9L1057.3 648.3L1058.5 646.7L1059.7 645.0L1060.9 643.4L1062.0 641.8L1063.2 640.1L1064.4 638.5L1065.7 636.9L1066.9 635.3L1068.1 633.7L1069.3 632.1L1070.5 630.5L1071.8 628.9L1073.0 627.3L1074.2 625.7L1075.5 624.1L1076.5 624.1L1077.2 626.0L1077.9 627.9L1078.6 629.8L1079.3 631.7L1080.1 633.6L1080.8 635.5L1081.5 637.4L1082.3 639.3L1083.0 641.2L1083.8 643.1L1084.6 644.9L1085.3 646.8L1086.1 648.7L1086.9 650.6L1087.7 652.4L1088.5 654.3L1089.3 656.2L1090.1 658.0L1090.9 659.9L1091.7 661.7L1092.5 663.6L1093.3 665.5L1094.2 667.3L1095.0 669.1L1095.8 671.0L1096.7 672.8L1097.6 674.7L1098.4 676.5L1099.3 678.3L1100.1 680.2L1101.0 682.0L1101.9 683.8L1102.8 685.6L1103.7 687.4L1104.6 689.3L1105.5 691.1L1106.4 692.9L1107.3 694.7L1108.2 696.5L1109.1 698.3L1110.1 700.1L1111.0 701.9L1111.9 703.7L1112.9 705.5L1113.8 707.3L1114.8 709.0L1115.7 710.8L1116.7 712.6L1117.7 714.4L1118.6 716.2L1119.6 717.9L1120.6 719.7L1121.6 721.5L1122.6 723.2L1123.6 725.0L1124.6 726.8L1125.6 728.5L1126.6 730.3L1127.6 732.0L1128.6 733.8L1129.6 735.5L1130.7 737.3L1131.7 739.0L1132.7 740.8L1133.8 742.5L1134.8 744.2L1135.9 746.0L1136.9 747.7L1138.0 749.4L1139.0 751.1L1140.1 752.9L1141.2 754.6L1142.2 756.3L1143.3 758.0L1144.4 759.7L1145.5 761.5L1146.6 763.2L1147.7 764.9L1148.8 766.6L1149.9 768.3L1151.0 770.0L1152.1 771.7L1153.2 773.4L1154.3 775.1L1155.4 776.8L1156.5 778.4L1157.7 780.1L1158.8 781.8L1159.9 783.5L1161.1 785.2L1162.2 786.9L1163.3 788.5L1164.5 790.2L1165.6 791.9L1166.8 793.5L1167.9 795.2L1169.1 796.9L1170.3 798.5L1171.4 800.2L1172.6 801.9L1173.8 803.5L1174.9 805.2L1176.1 806.8L1177.3 808.5L1178.5 810.1L1179.7 811.8L1180.9 813.4L1182.1 815.0L1183.3 816.7L1184.5 818.3L1185.7 820.0L1186.9 821.6L1188.1 823.2L1189.3 824.8L1190.5 826.5L1191.7 828.1L1192.9 829.7L1194.1 831.3L1195.4 833.0L1196.6 834.6L1197.8 836.2L1199.0 837.8L1200.3 839.4L1201.5 841.0L1202.8 842.6L1204.0 844.2L1205.2 845.8L1206.5 847.4L1207.7 849.0L1209.0 850.6L1210.2 852.2L1211.5 853.8L1212.7 855.4L1214.0 857.0L1215.2 858.6L1216.5 860.2L1217.8 861.8L1219.0 863.3L1220.3 864.9L1221.6 866.5L1222.8 868.1L1224.1 869.6L1225.4 871.2L1226.7 872.8L1227.9 874.4L1229.2 875.9L1230.5 877.5" fill="none" stroke="#1c1c1c" stroke-width="2.5" stroke-linejoin="round" clip-path="url(#ci)"/>
<path d="M920.4 874.2L921.2 872.3L922.0 870.5L922.8 868.6L923.6 866.8L924.4 865.0L925.2 863.1L926.1 861.3L926.9 859.5L927.7 857.6L928.6 855.8L929.4 854.0L930.3 852.2L931.1 850.3L932.0 848.5L932.9 846.7L933.7 844.9L934.6 843.1L935.5 841.3L936.4 839.4L937.2 837.6L938.1 835.8L939.0 834.0L939.9 832.2L940.8 830.4L941.7 828.6L942.6 826.8L943.6 825.0L944.5 823.2L945.4 821.4L946.3 819.6L947.2 817.8L948.1 816.0L949.1 814.3L950.0 812.5L950.9 810.7L951.9 808.9L952.8 807.1L953.7 805.3L954.7 803.5L955.6 801.7L956.5 799.9L957.5 798.2L958.4 796.4L959.3 794.6L960.3 792.8L961.2 791.0L962.2 789.2L963.1 787.4L964.0 785.7L965.0 783.9L965.9 782.1L966.8 780.3L967.8 778.5L968.7 776.7L969.7 774.9L970.6 773.1L971.5 771.4L972.5 769.6L973.4 767.8L974.3 766.0L975.2 764.2L976.2 762.4L977.1 760.6L978.0 758.8L978.9 757.0L979.8 755.2L980.7 753.4L981.7 751.6L982.6 749.8L983.5 748.0L984.4 746.2L985.3 744.4L986.2 742.6L987.1 740.8L987.9 739.0L988.8 737.2L989.7 735.4L990.6 733.6L991.5 731.7L992.3 729.9L993.2 728.1L994.1 726.3L994.9 724.5L995.8 722.6L996.6 720.8L997.5 719.0L998.3 717.1L999.2 715.3L1000.0 713.5L1000.8 711.7L1001.7 709.8L1002.5 708.0L1003.3 706.1L1004.1 704.3L1004.9 702.5L1005.7 700.6L1006.5 698.8L1007.3 696.9L1008.1 695.1L1008.9 693.2L1009.7 691.3L1010.5 689.5L1011.3 687.6L1012.0 685.8L1012.8 683.9L1013.6 682.0L1014.3 680.2L1015.1 678.3L1015.8 676.4L1016.5 674.5L1017.3 672.7L1018.0 670.8L1018.7 668.9L1019.4 667.0L1020.2 665.1L1020.9 663.3L1021.6 661.4L1022.3 659.5L1023.0 657.6L1023.6 655.7L1024.3 653.8L1025.0 651.9L1025.7 650.0L1026.3 648.1L1027.0 646.1L1027.6 644.2L1028.3 642.3L1028.9 640.4L1029.5 638.5L1030.2 636.6L1030.8 634.6L1031.4 632.7L1032.0 630.8L1032.6 628.8L1033.2 626.9L1034.3 626.9L1034.9 628.8L1035.5 630.8L1036.0 632.7L1036.6 634.6L1037.2 636.6L1037.8 638.5L1038.4 640.4L1039.0 642.4L1039.6 644.3L1040.2 646.2L1040.8 648.1L1041.4 650.1L1042.0 652.0L1042.7 653.9L1043.3 655.8L1043.9 657.8L1044.5 659.7L1045.2 661.6L1045.8 663.5L1046.4 665.4L1047.1 667.3L1047.7 669.3L1048.3 671.2L1049.0 673.1L1049.6 675.0L1050.3 676.9L1051.0 678.8L1051.6 680.7L1052.3 682.6L1052.9 684.5L1053.6 686.5L1054.3 688.4L1055.0 690.3L1055.6 692.2L1056.3 694.1L1057.0 696.0L1057.7 697.9L1058.4 699.8L1059.1 701.7L1059.8 703.5L1060.5 705.4L1061.2 707.3L1061.9 709.2L1062.6 711.1L1063.4 713.0L1064.1 714.9L1064.8 716.8L1065.5 718.6L1066.3 720.5L1067.0 722.4L1067.8 724.3L1068.5 726.2L1069.3 728.0L1070.0 729.9L1070.8 731.8L1071.5 733.6L1072.3 735.5L1073.1 737.4L1073.8 739.2L1074.6 741.1L1075.4 743.0L1076.2 744.8L1077.0 746.7L1077.7 748.5L1078.5 750.4L1079.3 752.2L1080.2 754.1L1081.0 755.9L1081.8 757.8L1082.6 759.6L1083.4 761.5L1084.2 763.3L1085.1 765.2L1085.9 767.0L1086.7 768.8L1087.6 770.7L1088.4 772.5L1089.3 774.3L1090.1 776.1L1091.0 778.0L1091.8 779.8L1092.7 781.6L1093.6 783.4L1094.5 785.3L1095.3 787.1L1096.2 788.9L1097.1 790.7L1098.0 792.5L1098.9 794.3L1099.8 796.1L1100.7 797.9L1101.6 799.7L1102.6 801.5L1103.5 803.3L1104.4 805.1L1105.3 806.9L1106.3 808.7L1107.2 810.4L1108.1 812.2L1109.1 814.0L1110.1 815.8L1111.0 817.6L1112.0 819.3L1112.9 821.1L1113.9 822.9L1114.9 824.6L1115.9 826.4L1116.9 828.2L1117.9 829.9L1118.9 831.7L1119.9 833.4L1120.9 835.2L1121.9 836.9L1122.9 838.7L1123.9 840.4L1124.9 842.1L1126.0 843.9L1127.0 845.6L1128.1 847.3L1129.1 849.1L1130.2 850.8L1131.2 852.5L1132.3 854.2L1133.3 855.9L1134.4 857.7L1135.5 859.4L1136.6 861.1L1137.7 862.8L1138.8 864.5L1139.9 866.2L1141.0 867.9L1142.1 869.6L1143.2 871.3L1144.3 873.0L1145.4 874.6L1146.6 876.3L1147.7 878.0" fill="none" stroke="#ee2a2a" stroke-width="2.5" stroke-dasharray="8,5" stroke-linejoin="round" clip-path="url(#ci)"/>
<path d="M920.4 874.2L920.6 872.2L920.8 870.2L921.0 868.1L921.3 866.1L921.5 864.1L921.7 862.1L922.0 860.1L922.2 858.1L922.4 856.1L922.7 854.0L922.9 852.0L923.2 850.0L923.5 848.0L923.7 846.0L924.0 844.0L924.2 842.0L924.5 840.0L924.8 838.0L925.1 835.9L925.4 833.9L925.6 831.9L925.9 829.9L926.2 827.9L926.5 825.9L926.8 823.9L927.1 821.9L927.4 819.9L927.7 817.9L928.0 815.9L928.3 813.9L928.7 811.9L929.0 809.9L929.3 807.9L929.6 805.9L929.9 803.9L930.3 801.9L930.6 799.9L930.9 797.9L931.3 795.9L931.6 793.9L931.9 791.9L932.3 789.9L932.6 787.9L932.9 785.9L933.3 783.9L933.6 781.9L934.0 779.9L934.3 777.9L934.7 775.9L935.0 773.9L935.4 771.9L935.7 769.9L936.1 767.9L936.4 765.9L936.8 763.9L937.2 761.9L937.5 759.9L937.9 757.9L938.2 755.9L938.6 753.9L939.0 751.9L939.3 749.9L939.7 747.9L940.1 745.9L940.4 743.9L940.8 741.9L941.2 739.9L941.5 737.9L941.9 735.9L942.3 733.9L942.6 732.0L943.0 730.0L943.4 728.0L943.7 726.0L944.1 724.0L944.5 722.0L944.9 720.0L945.2 718.0L945.6 716.0L946.0 714.0L946.3 712.0L946.7 710.0L947.1 708.0L947.4 706.0L947.8 704.0L948.2 702.0L948.5 700.0L948.9 698.0L949.2 696.0L949.6 694.0L950.0 692.0L950.3 690.0L950.7 688.0L951.0 686.0L951.4 684.0L951.7 682.0L952.1 680.0L952.4 678.1L952.8 676.1L953.1 674.1L953.5 672.1L953.8 670.1L954.2 668.1L954.5 666.1L954.9 664.1L955.2 662.1L955.5 660.1L955.9 658.1L956.2 656.1L956.5 654.1L956.9 652.1L957.2 650.0L957.5 648.0L957.8 646.0L958.1 644.0L958.5 642.0L958.8 640.0L959.1 638.0L959.4 636.0L959.7 634.0L960.0 632.0L960.3 630.0L960.6 628.0L960.6 628.0L960.8 630.0L960.9 632.0L961.1 634.1L961.3 636.1L961.5 638.1L961.7 640.1L961.9 642.1L962.1 644.1L962.3 646.2L962.5 648.2L962.7 650.2L962.9 652.2L963.1 654.2L963.3 656.2L963.6 658.2L963.8 660.2L964.0 662.2L964.3 664.3L964.5 666.3L964.8 668.3L965.0 670.3L965.3 672.3L965.5 674.3L965.8 676.3L966.0 678.3L966.3 680.3L966.6 682.3L966.8 684.3L967.1 686.3L967.4 688.3L967.7 690.3L968.0 692.3L968.3 694.3L968.5 696.3L968.8 698.3L969.1 700.3L969.4 702.3L969.7 704.3L970.0 706.3L970.4 708.3L970.7 710.3L971.0 712.3L971.3 714.3L971.6 716.3L971.9 718.3L972.3 720.3L972.6 722.3L972.9 724.3L973.2 726.3L973.6 728.3L973.9 730.3L974.2 732.3L974.6 734.3L974.9 736.2L975.3 738.2L975.6 740.2L976.0 742.2L976.3 744.2L976.7 746.2L977.0 748.2L977.4 750.2L977.7 752.2L978.1 754.2L978.4 756.2L978.8 758.1L979.1 760.1L979.5 762.1L979.9 764.1L980.2 766.1L980.6 768.1L980.9 770.1L981.3 772.1L981.7 774.1L982.0 776.1L982.4 778.0L982.8 780.0L983.2 782.0L983.5 784.0L983.9 786.0L984.3 788.0L984.6 790.0L985.0 792.0L985.4 793.9L985.8 795.9L986.1 797.9L986.5 799.9L986.9 801.9L987.3 803.9L987.6 805.9L988.0 807.9L988.4 809.8L988.8 811.8L989.1 813.8L989.5 815.8L989.9 817.8L990.2 819.8L990.6 821.8L991.0 823.8L991.4 825.7L991.7 827.7L992.1 829.7L992.5 831.7L992.8 833.7L993.2 835.7L993.6 837.7L994.0 839.7L994.3 841.7L994.7 843.6L995.0 845.6L995.4 847.6L995.8 849.6L996.1 851.6L996.5 853.6L996.9 855.6L997.2 857.6L997.6 859.6L997.9 861.6L998.3 863.6L998.6 865.5L999.0 867.5L999.3 869.5L999.7 871.5L1000.0 873.5L1000.4 875.5L1000.7 877.5" fill="none" stroke="#2a2aee" stroke-width="2.5" stroke-dasharray="2.5,8" stroke-linejoin="round" clip-path="url(#ci)"/>
<path d="M920.4 874.2L920.5 872.2L920.5 870.2L920.6 868.1L920.7 866.1L920.7 864.1L920.8 862.1L920.9 860.0L921.0 858.0L921.0 856.0L921.1 854.0L921.2 852.0L921.3 849.9L921.4 847.9L921.5 845.9L921.6 843.9L921.7 841.9L921.8 839.8L921.9 837.8L922.0 835.8L922.1 833.8L922.3 831.8L922.4 829.7L922.5 827.7L922.6 825.7L922.7 823.7L922.9 821.7L923.0 819.6L923.1 817.6L923.2 815.6L923.4 813.6L923.5 811.6L923.6 809.5L923.8 807.5L923.9 805.5L924.1 803.5L924.2 801.5L924.3 799.5L924.5 797.4L924.6 795.4L924.8 793.4L924.9 791.4L925.1 789.4L925.2 787.3L925.4 785.3L925.5 783.3L925.7 781.3L925.8 779.3L926.0 777.3L926.2 775.2L926.3 773.2L926.5 771.2L926.6 769.2L926.8 767.2L927.0 765.2L927.1 763.1L927.3 761.1L927.5 759.1L927.6 757.1L927.8 755.1L928.0 753.1L928.1 751.0L928.3 749.0L928.5 747.0L928.6 745.0L928.8 743.0L929.0 741.0L929.2 738.9L929.3 736.9L929.5 734.9L929.7 732.9L929.8 730.9L930.0 728.9L930.2 726.9L930.4 724.8L930.5 722.8L930.7 720.8L930.9 718.8L931.0 716.8L931.2 714.8L931.4 712.7L931.6 710.7L931.7 708.7L931.9 706.7L932.1 704.7L932.2 702.7L932.4 700.6L932.6 698.6L932.7 696.6L932.9 694.6L933.1 692.6L933.2 690.6L933.4 688.5L933.6 686.5L933.7 684.5L933.9 682.5L934.1 680.5L934.2 678.5L934.4 676.4L934.5 674.4L934.7 672.4L934.9 670.4L935.0 668.4L935.2 666.4L935.3 664.3L935.5 662.3L935.6 660.3L935.8 658.3L935.9 656.3L936.1 654.2L936.2 652.2L936.3 650.2L936.5 648.2L936.6 646.2L936.8 644.2L936.9 642.1L937.0 640.1L937.2 638.1L937.3 636.1L937.4 634.1L937.5 632.0L937.7 630.0L937.8 628.0L938.4 628.0L938.5 630.0L938.6 632.0L938.6 634.1L938.7 636.1L938.8 638.1L938.9 640.1L939.0 642.1L939.1 644.1L939.2 646.2L939.2 648.2L939.3 650.2L939.4 652.2L939.5 654.2L939.6 656.2L939.7 658.3L939.8 660.3L939.9 662.3L940.0 664.3L940.1 666.3L940.2 668.3L940.3 670.3L940.4 672.4L940.5 674.4L940.7 676.4L940.8 678.4L940.9 680.4L941.0 682.4L941.1 684.5L941.2 686.5L941.3 688.5L941.5 690.5L941.6 692.5L941.7 694.5L941.8 696.5L942.0 698.6L942.1 700.6L942.2 702.6L942.3 704.6L942.5 706.6L942.6 708.6L942.7 710.6L942.9 712.7L943.0 714.7L943.1 716.7L943.3 718.7L943.4 720.7L943.5 722.7L943.7 724.7L943.8 726.7L944.0 728.8L944.1 730.8L944.3 732.8L944.4 734.8L944.6 736.8L944.7 738.8L944.9 740.8L945.0 742.8L945.2 744.9L945.3 746.9L945.5 748.9L945.6 750.9L945.8 752.9L945.9 754.9L946.1 756.9L946.3 758.9L946.4 761.0L946.6 763.0L946.7 765.0L946.9 767.0L947.1 769.0L947.2 771.0L947.4 773.0L947.6 775.0L947.7 777.0L947.9 779.1L948.1 781.1L948.2 783.1L948.4 785.1L948.6 787.1L948.8 789.1L948.9 791.1L949.1 793.1L949.3 795.1L949.5 797.1L949.7 799.2L949.8 801.2L950.0 803.2L950.2 805.2L950.4 807.2L950.6 809.2L950.8 811.2L950.9 813.2L951.1 815.2L951.3 817.2L951.5 819.3L951.7 821.3L951.9 823.3L952.1 825.3L952.3 827.3L952.5 829.3L952.6 831.3L952.8 833.3L953.0 835.3L953.2 837.3L953.4 839.3L953.6 841.4L953.8 843.4L954.0 845.4L954.2 847.4L954.4 849.4L954.6 851.4L954.8 853.4L955.0 855.4L955.2 857.4L955.4 859.4L955.6 861.4L955.8 863.4L956.1 865.5L956.3 867.5L956.5 869.5L956.7 871.5L956.9 873.5L957.1 875.5L957.3 877.5" fill="none" stroke="#ee22ee" stroke-width="2.5" stroke-dasharray="9,4,2.5,4" stroke-linejoin="round" clip-path="url(#ci)"/>
<rect x="138.8" y="967.6" width="3.2" height="3.2" fill="#111"/>
<rect x="122.7" y="1007.3" width="3.2" height="3.2" fill="#111"/>
<rect x="108.1" y="1040.3" width="3.2" height="3.2" fill="#111"/>
<rect x="101.2" y="1067.8" width="3.2" height="3.2" fill="#111"/>
<rect x="93.5" y="1091.2" width="3.2" height="3.2" fill="#111"/>
<rect x="85.1" y="1110.6" width="3.2" height="3.2" fill="#111"/>
<rect x="83.5" y="1125.2" width="3.2" height="3.2" fill="#111"/>
<rect x="78.9" y="1137.8" width="3.2" height="3.2" fill="#111"/>
<rect x="76.1" y="1148.2" width="3.2" height="3.2" fill="#111"/>
<rect x="74.1" y="1156.6" width="3.2" height="3.2" fill="#111"/>
<rect x="72.0" y="1162.8" width="3.2" height="3.2" fill="#111"/>
<rect x="69.9" y="1170.1" width="3.2" height="3.2" fill="#111"/>
<rect x="69.2" y="1172.9" width="3.2" height="3.2" fill="#111"/>
<rect x="68.6" y="1175.6" width="3.2" height="3.2" fill="#111"/>
<rect x="68.0" y="1178.4" width="3.2" height="3.2" fill="#111"/>
<rect x="67.3" y="1181.1" width="3.2" height="3.2" fill="#111"/>
<rect x="66.7" y="1183.9" width="3.2" height="3.2" fill="#111"/>
<rect x="66.0" y="1186.6" width="3.2" height="3.2" fill="#111"/>
<rect x="65.4" y="1189.4" width="3.2" height="3.2" fill="#111"/>
<rect x="64.7" y="1192.1" width="3.2" height="3.2" fill="#111"/>
<circle cx="111.8" cy="956.3" r="1.7" fill="#f01818"/>
<circle cx="107.0" cy="1003.0" r="1.7" fill="#f01818"/>
<circle cx="100.3" cy="1040.6" r="1.7" fill="#f01818"/>
<circle cx="91.7" cy="1070.5" r="1.7" fill="#f01818"/>
<circle cx="90.3" cy="1093.4" r="1.7" fill="#f01818"/>
<circle cx="87.1" cy="1113.3" r="1.7" fill="#f01818"/>
<circle cx="83.0" cy="1129.6" r="1.7" fill="#f01818"/>
<circle cx="84.0" cy="1142.5" r="1.7" fill="#f01818"/>
<circle cx="80.3" cy="1151.9" r="1.7" fill="#f01818"/>
<circle cx="78.8" cy="1160.3" r="1.7" fill="#f01818"/>
<circle cx="79.0" cy="1167.6" r="1.7" fill="#f01818"/>
<circle cx="78.4" cy="1170.5" r="1.7" fill="#f01818"/>
<circle cx="77.8" cy="1173.4" r="1.7" fill="#f01818"/>
<circle cx="77.2" cy="1176.3" r="1.7" fill="#f01818"/>
<circle cx="76.6" cy="1179.2" r="1.7" fill="#f01818"/>
<circle cx="76.0" cy="1182.1" r="1.7" fill="#f01818"/>
<circle cx="75.4" cy="1185.0" r="1.7" fill="#f01818"/>
<circle cx="74.8" cy="1187.9" r="1.7" fill="#f01818"/>
<circle cx="74.2" cy="1190.8" r="1.7" fill="#f01818"/>
<circle cx="73.6" cy="1193.7" r="1.7" fill="#f01818"/>
<path d="M176.5 1161.3L178.8 1165.3L174.2 1165.3Z" fill="#1818f0"/>
<path d="M184.5 1159.2L186.8 1163.2L182.2 1163.2Z" fill="#1818f0"/>
<path d="M192.5 1158.2L194.8 1162.2L190.2 1162.2Z" fill="#1818f0"/>
<path d="M200.2 1157.8L202.4 1161.8L197.9 1161.8Z" fill="#1818f0"/>
<path d="M208.2 1157.8L210.4 1161.8L205.9 1161.8Z" fill="#1818f0"/>
<path d="M216.2 1157.8L218.4 1161.8L213.9 1161.8Z" fill="#1818f0"/>
<path d="M224.7 1158.8L226.9 1162.8L222.4 1162.8Z" fill="#1818f0"/>
<path d="M232.3 1159.4L234.6 1163.4L230.1 1163.4Z" fill="#1818f0"/>
<path d="M239.9 1160.2L242.2 1164.2L237.7 1164.2Z" fill="#1818f0"/>
<path d="M246.7 1162.5L248.9 1166.5L244.4 1166.5Z" fill="#1818f0"/>
<path d="M252.0 1162.5L254.2 1166.5L249.8 1166.5Z" fill="#1818f0"/>
<path d="M258.4 1165.9L260.6 1169.9L256.1 1169.9Z" fill="#1818f0"/>
<path d="M263.4 1167.9L265.6 1171.9L261.1 1171.9Z" fill="#1818f0"/>
<path d="M268.4 1169.9L270.6 1173.9L266.1 1173.9Z" fill="#1818f0"/>
<path d="M273.5 1171.9L275.8 1175.9L271.2 1175.9Z" fill="#1818f0"/>
<path d="M278.5 1174.9L280.8 1178.9L276.2 1178.9Z" fill="#1818f0"/>
<path d="M282.5 1178.9L284.8 1182.9L280.2 1182.9Z" fill="#1818f0"/>
<path d="M286.5 1180.9L288.8 1184.9L284.2 1184.9Z" fill="#1818f0"/>
<path d="M290.5 1184.0L292.8 1188.0L288.2 1188.0Z" fill="#1818f0"/>
<path d="M294.5 1186.0L296.8 1190.0L292.2 1190.0Z" fill="#1818f0"/>
<path d="M298.6 1188.0L300.9 1192.0L296.4 1192.0Z" fill="#1818f0"/>
<path d="M300.6 1189.0L302.9 1193.0L298.4 1193.0Z" fill="#1818f0"/>
<path d="M301.6 1186.0L303.9 1190.0L299.4 1190.0Z" fill="#1818f0"/>
<path d="M302.6 1181.9L304.9 1185.9L300.4 1185.9Z" fill="#1818f0"/>
<path d="M303.6 1176.9L305.9 1180.9L301.4 1180.9Z" fill="#1818f0"/>
<path d="M305.0 1170.9L307.2 1174.9L302.8 1174.9Z" fill="#1818f0"/>
<path d="M305.6 1165.9L307.9 1169.9L303.4 1169.9Z" fill="#1818f0"/>
<path d="M307.0 1158.8L309.2 1162.8L304.8 1162.8Z" fill="#1818f0"/>
<path d="M308.0 1150.8L310.2 1154.8L305.8 1154.8Z" fill="#1818f0"/>
<path d="M309.0 1140.8L311.2 1144.8L306.8 1144.8Z" fill="#1818f0"/>
<path d="M313.6 1133.7L315.9 1137.7L311.4 1137.7Z" fill="#1818f0"/>
<path d="M312.2 1113.1L314.4 1117.1L309.9 1117.1Z" fill="#1818f0"/>
<path d="M318.6 1101.6L320.9 1105.6L316.4 1105.6Z" fill="#1818f0"/>
<path d="M317.0 1071.5L319.2 1075.5L314.8 1075.5Z" fill="#1818f0"/>
<path d="M324.3 1051.4L326.6 1055.4L322.1 1055.4Z" fill="#1818f0"/>
<path d="M335.3 1015.3L337.6 1019.3L333.1 1019.3Z" fill="#1818f0"/>
<path d="M343.1 966.5L345.4 970.5L340.9 970.5Z" fill="#1818f0"/>
<path d="M276.0 1173.0L278.2 1177.0L273.8 1177.0Z" fill="#1818f0"/>
<path d="M277.5 1174.0L279.8 1178.1L275.3 1178.1Z" fill="#1818f0"/>
<path d="M279.1 1175.0L281.3 1179.1L276.8 1179.1Z" fill="#1818f0"/>
<path d="M280.6 1176.1L282.8 1180.1L278.3 1180.1Z" fill="#1818f0"/>
<path d="M282.1 1177.1L284.4 1181.2L279.9 1181.2Z" fill="#1818f0"/>
<path d="M283.7 1178.1L285.9 1182.2L281.4 1182.2Z" fill="#1818f0"/>
<path d="M285.2 1179.2L287.4 1183.2L282.9 1183.2Z" fill="#1818f0"/>
<path d="M286.7 1180.2L289.0 1184.2L284.5 1184.2Z" fill="#1818f0"/>
<path d="M288.2 1181.2L290.5 1185.3L286.0 1185.3Z" fill="#1818f0"/>
<path d="M289.8 1182.3L292.0 1186.3L287.5 1186.3Z" fill="#1818f0"/>
<path d="M291.3 1183.3L293.6 1187.3L289.1 1187.3Z" fill="#1818f0"/>
<path d="M292.8 1184.3L295.1 1188.4L290.6 1188.4Z" fill="#1818f0"/>
<path d="M294.4 1185.3L296.6 1189.4L292.1 1189.4Z" fill="#1818f0"/>
<path d="M295.9 1186.4L298.2 1190.4L293.7 1190.4Z" fill="#1818f0"/>
<path d="M297.4 1187.4L299.7 1191.5L295.2 1191.5Z" fill="#1818f0"/>
<path d="M299.0 1188.4L301.2 1192.5L296.7 1192.5Z" fill="#1818f0"/>
<path d="M300.5 1189.5L302.8 1193.5L298.2 1193.5Z" fill="#1818f0"/>
<path d="M300.5 1189.5L302.8 1193.5L298.2 1193.5Z" fill="#1818f0"/>
<path d="M301.1 1187.0L303.3 1191.1L298.8 1191.1Z" fill="#1818f0"/>
<path d="M301.6 1184.6L303.9 1188.7L299.4 1188.7Z" fill="#1818f0"/>
<path d="M302.2 1182.2L304.4 1186.2L299.9 1186.2Z" fill="#1818f0"/>
<path d="M302.8 1179.7L305.0 1183.8L300.5 1183.8Z" fill="#1818f0"/>
<path d="M303.3 1177.3L305.6 1181.3L301.1 1181.3Z" fill="#1818f0"/>
<path d="M303.9 1174.8L306.1 1178.9L301.6 1178.9Z" fill="#1818f0"/>
<path d="M304.4 1172.4L306.7 1176.5L302.2 1176.5Z" fill="#1818f0"/>
<path d="M305.0 1170.0L307.2 1174.0L302.8 1174.0Z" fill="#1818f0"/>
<rect x="528.5" y="1193.9" width="3" height="3" fill="#111"/>
<rect x="530.5" y="1192.8" width="3" height="3" fill="#111"/>
<rect x="532.6" y="1191.6" width="3" height="3" fill="#111"/>
<rect x="534.6" y="1190.5" width="3" height="3" fill="#111"/>
<rect x="534.6" y="1190.5" width="3" height="3" fill="#111"/>
<rect x="536.6" y="1189.8" width="3" height="3" fill="#111"/>
<rect x="538.6" y="1189.0" width="3" height="3" fill="#111"/>
<rect x="540.6" y="1188.2" width="3" height="3" fill="#111"/>
<rect x="542.6" y="1187.5" width="3" height="3" fill="#111"/>
<rect x="544.6" y="1186.8" width="3" height="3" fill="#111"/>
<rect x="546.6" y="1186.0" width="3" height="3" fill="#111"/>
<rect x="548.6" y="1185.2" width="3" height="3" fill="#111"/>
<rect x="550.6" y="1184.5" width="3" height="3" fill="#111"/>
<rect x="550.6" y="1184.5" width="3" height="3" fill="#111"/>
<rect x="552.4" y="1182.7" width="3" height="3" fill="#111"/>
<rect x="554.2" y="1181.0" width="3" height="3" fill="#111"/>
<rect x="555.9" y="1179.2" width="3" height="3" fill="#111"/>
<rect x="557.7" y="1177.4" width="3" height="3" fill="#111"/>
<rect x="557.7" y="1177.4" width="3" height="3" fill="#111"/>
<rect x="558.7" y="1174.9" width="3" height="3" fill="#111"/>
<rect x="559.7" y="1172.4" width="3" height="3" fill="#111"/>
<rect x="560.7" y="1169.9" width="3" height="3" fill="#111"/>
<rect x="561.7" y="1167.4" width="3" height="3" fill="#111"/>
<rect x="564.3" y="1162.4" width="3" height="3" fill="#111"/>
<rect x="566.7" y="1156.3" width="3" height="3" fill="#111"/>
<rect x="569.3" y="1148.7" width="3" height="3" fill="#111"/>
<rect x="571.9" y="1139.3" width="3" height="3" fill="#111"/>
<rect x="574.7" y="1127.6" width="3" height="3" fill="#111"/>
<rect x="577.9" y="1113.6" width="3" height="3" fill="#111"/>
<rect x="581.8" y="1095.5" width="3" height="3" fill="#111"/>
<rect x="585.8" y="1073.0" width="3" height="3" fill="#111"/>
<rect x="590.8" y="1044.9" width="3" height="3" fill="#111"/>
<rect x="596.8" y="1010.3" width="3" height="3" fill="#111"/>
<rect x="604.4" y="967.0" width="3" height="3" fill="#111"/>
<circle cx="719.6" cy="1195.0" r="1.6" fill="#f01818"/>
<circle cx="721.6" cy="1193.9" r="1.6" fill="#f01818"/>
<circle cx="723.6" cy="1192.8" r="1.6" fill="#f01818"/>
<circle cx="725.6" cy="1191.6" r="1.6" fill="#f01818"/>
<circle cx="727.5" cy="1190.5" r="1.6" fill="#f01818"/>
<circle cx="729.5" cy="1189.4" r="1.6" fill="#f01818"/>
<circle cx="731.5" cy="1188.2" r="1.6" fill="#f01818"/>
<circle cx="733.5" cy="1187.1" r="1.6" fill="#f01818"/>
<circle cx="735.5" cy="1186.0" r="1.6" fill="#f01818"/>
<circle cx="735.5" cy="1186.0" r="1.6" fill="#f01818"/>
<circle cx="737.6" cy="1185.4" r="1.6" fill="#f01818"/>
<circle cx="739.8" cy="1184.8" r="1.6" fill="#f01818"/>
<circle cx="741.9" cy="1184.3" r="1.6" fill="#f01818"/>
<circle cx="744.0" cy="1183.7" r="1.6" fill="#f01818"/>
<circle cx="746.2" cy="1183.1" r="1.6" fill="#f01818"/>
<circle cx="748.3" cy="1182.6" r="1.6" fill="#f01818"/>
<circle cx="750.5" cy="1182.0" r="1.6" fill="#f01818"/>
<circle cx="752.6" cy="1181.4" r="1.6" fill="#f01818"/>
<circle cx="752.6" cy="1181.4" r="1.6" fill="#f01818"/>
<circle cx="753.7" cy="1179.0" r="1.6" fill="#f01818"/>
<circle cx="754.9" cy="1176.6" r="1.6" fill="#f01818"/>
<circle cx="756.0" cy="1174.2" r="1.6" fill="#f01818"/>
<circle cx="757.1" cy="1171.7" r="1.6" fill="#f01818"/>
<circle cx="758.3" cy="1169.3" r="1.6" fill="#f01818"/>
<circle cx="759.4" cy="1166.9" r="1.6" fill="#f01818"/>
<circle cx="761.1" cy="1162.2" r="1.6" fill="#f01818"/>
<circle cx="763.6" cy="1155.2" r="1.6" fill="#f01818"/>
<circle cx="765.7" cy="1146.7" r="1.6" fill="#f01818"/>
<circle cx="767.9" cy="1135.6" r="1.6" fill="#f01818"/>
<circle cx="770.6" cy="1122.2" r="1.6" fill="#f01818"/>
<circle cx="773.4" cy="1105.6" r="1.6" fill="#f01818"/>
<circle cx="777.0" cy="1085.0" r="1.6" fill="#f01818"/>
<circle cx="781.3" cy="1058.8" r="1.6" fill="#f01818"/>
<circle cx="786.2" cy="1026.9" r="1.6" fill="#f01818"/>
<circle cx="791.9" cy="986.1" r="1.6" fill="#f01818"/>
<circle cx="800.4" cy="939.3" r="1.6" fill="#f01818"/>
<path d="M971.0 951.2L986.7 987.8L1080.8 1031.5L1237.6 1049.1" fill="none" stroke="#1c1c1c" stroke-width="2.2"/>
<rect x="968.1" y="948.3" width="5.8" height="5.8" fill="#1c1c1c"/>
<rect x="983.8" y="984.9" width="5.8" height="5.8" fill="#1c1c1c"/>
<rect x="1077.9" y="1028.6" width="5.8" height="5.8" fill="#1c1c1c"/>
<rect x="1234.7" y="1046.2" width="5.8" height="5.8" fill="#1c1c1c"/>
<path d="M971.0 999.8L986.7 1018.1L1080.8 1044.2L1237.6 1056.8" fill="none" stroke="#f01818" stroke-width="2.2"/>
<circle cx="971.0" cy="999.8" r="3.3" fill="#f01818"/>
<circle cx="986.7" cy="1018.1" r="3.3" fill="#f01818"/>
<circle cx="1080.8" cy="1044.2" r="3.3" fill="#f01818"/>
<circle cx="1237.6" cy="1056.8" r="3.3" fill="#f01818"/>
<path d="M971.0 1104.7L986.7 1106.8L1080.8 1115.3L1237.6 1122.3" fill="none" stroke="#1818f0" stroke-width="2.2"/>
<path d="M971.0 1101.6L974.5 1107.9L967.5 1107.9Z" fill="#1818f0"/>
<path d="M986.7 1103.7L990.2 1110.0L983.2 1110.0Z" fill="#1818f0"/>
<path d="M1080.8 1112.1L1084.3 1118.4L1077.3 1118.4Z" fill="#1818f0"/>
<path d="M1237.6 1119.2L1241.1 1125.5L1234.1 1125.5Z" fill="#1818f0"/>
<text class="pl" x="3.2" y="12.6">(a)</text>
<text class="pl" x="438.6" y="12.6">(b)</text>
<text class="pl" x="860" y="13.5">(c)</text>
<text class="pl" x="5" y="324">(d)</text>
<text class="pl" x="434.5" y="324">(e)</text>
<text class="pl" x="868" y="321.5">(f)</text>
<text class="pl" x="4.4" y="636">(g)</text>
<text class="pl" x="436" y="632">(h)</text>
<text class="pl" x="865.5" y="628">(i)</text>
<text class="pl" x="3.8" y="946">(j)</text>
<text class="pl" x="432.6" y="946">(k)</text>
<text class="pl" x="860.3" y="944">(l)</text>
<text class="ti" style="font-size:14.8px" x="243.4" y="306.8" text-anchor="middle" textLength="176.5" lengthAdjust="spacingAndGlyphs">Potential, V (vs. Ag/AgCl)</text>
<text class="ti" style="font-size:14.8px" x="666.3" y="307.3" text-anchor="middle" textLength="178.8" lengthAdjust="spacingAndGlyphs">Potential, V (vs. Ag/AgCl)</text>
<text class="ti" style="font-size:14.8px" x="1090.9" y="307.7" text-anchor="middle" textLength="50.7" lengthAdjust="spacingAndGlyphs">Time. s</text>
<text class="ti" style="font-size:14.8px" x="242.6" y="616.4" text-anchor="middle" textLength="178.1" lengthAdjust="spacingAndGlyphs">Potential, V (vs. Ag/AgCl)</text>
<text class="ti" style="font-size:14.8px" x="667.7" y="617.2" text-anchor="middle" textLength="180.0" lengthAdjust="spacingAndGlyphs">Potential, V (vs. Ag/AgCl)</text>
<text class="ti" style="font-size:14.8px" x="1096.7" y="615.9" text-anchor="middle" textLength="49.6" lengthAdjust="spacingAndGlyphs">Time. s</text>
<text class="ti" style="font-size:14.8px" x="245.8" y="926.4" text-anchor="middle" textLength="175.6" lengthAdjust="spacingAndGlyphs">Potential, V (vs. Ag/AgCl)</text>
<text class="ti" style="font-size:14.8px" x="671.6" y="927.2" text-anchor="middle" textLength="177.2" lengthAdjust="spacingAndGlyphs">Potential, V (vs. Ag/AgCl)</text>
<text class="ti" style="font-size:14.8px" x="1093.7" y="924.7" text-anchor="middle" textLength="51.1" lengthAdjust="spacingAndGlyphs">Time, s</text>
<text class="ti" style="font-size:14.8px" x="238.3" y="1240.6" text-anchor="middle" textLength="50.1" lengthAdjust="spacingAndGlyphs">Z'/Ohm</text>
<text class="ti" style="font-size:14.8px" x="667.0" y="1241.6" text-anchor="middle" textLength="51.1" lengthAdjust="spacingAndGlyphs">Z'/Ohm</text>
<text class="ti" style="font-size:14.8px" x="1097.0" y="1235.4" text-anchor="middle" textLength="167.6" lengthAdjust="spacingAndGlyphs">Current Density, <tspan class="sr">&#956;</tspan>A/cm<tspan dy="-6" font-size="8">2</tspan></text>
<text class="ti" style="font-size:15px" transform="translate(16.2,128.8) rotate(-90)" text-anchor="middle" textLength="179.5" lengthAdjust="spacingAndGlyphs">Current Density (mA/cm<tspan dy="-6" font-size="8">2</tspan><tspan dy="6">)</tspan></text>
<text class="ti" style="font-size:15px" transform="translate(449.6,136.2) rotate(-90)" text-anchor="middle" textLength="180.9" lengthAdjust="spacingAndGlyphs">Current Density (mA/cm<tspan dy="-6" font-size="8">2</tspan><tspan dy="6">)</tspan></text>
<text class="ti" style="font-size:15px" transform="translate(873.5,135.9) rotate(-90)" text-anchor="middle" textLength="178.4" lengthAdjust="spacingAndGlyphs">Potential, V (vs. Ag/AgCl)</text>
<text class="ti" style="font-size:15.8px" transform="translate(21.5,454.8) rotate(-90)" text-anchor="middle" textLength="201.3" lengthAdjust="spacingAndGlyphs">Current Density <tspan font-size="25" font-weight="normal" dy="1.5">(</tspan><tspan dy="-1.5">mA/cm</tspan><tspan dy="-6" font-size="8">2</tspan><tspan dy="7.5" font-size="25" font-weight="normal">)</tspan></text>
<text class="ti" style="font-size:15px" transform="translate(448,457.1) rotate(-90)" text-anchor="middle" textLength="189.8" lengthAdjust="spacingAndGlyphs">Current Density <tspan font-size="25" font-weight="normal" dy="1.5">(</tspan><tspan dy="-1.5">mA/cm</tspan><tspan dy="-6" font-size="8">2</tspan><tspan dy="7.5" font-size="25" font-weight="normal">)</tspan></text>
<text class="ti" style="font-size:15px" transform="translate(879.5,444.9) rotate(-90)" text-anchor="middle" textLength="177.7" lengthAdjust="spacingAndGlyphs">Potential, V (vs. Ag/AgCl)</text>
<text class="ti" style="font-size:15px" transform="translate(20,775.5) rotate(-90)" text-anchor="middle" textLength="184.5" lengthAdjust="spacingAndGlyphs">Current Density <tspan font-size="25" font-weight="normal" dy="1.5">(</tspan><tspan dy="-1.5">mA/cm</tspan><tspan dy="-6" font-size="8">2</tspan><tspan dy="7.5" font-size="25" font-weight="normal">)</tspan></text>
<text class="ti" style="font-size:15px" transform="translate(451,766.0) rotate(-90)" text-anchor="middle" textLength="185.9" lengthAdjust="spacingAndGlyphs">Current Density <tspan font-size="25" font-weight="normal" dy="1.5">(</tspan><tspan dy="-1.5">mA/cm</tspan><tspan dy="-6" font-size="8">2</tspan><tspan dy="7.5" font-size="25" font-weight="normal">)</tspan></text>
<text class="ti" style="font-size:15px" transform="translate(876,752.7) rotate(-90)" text-anchor="middle" textLength="178.1" lengthAdjust="spacingAndGlyphs">Potential, V (vs. Ag/AgCl)</text>
<text class="ti" style="font-size:15px" transform="translate(14.4,1077.7) rotate(-90)" text-anchor="middle" textLength="57.3" lengthAdjust="spacingAndGlyphs">-Z''/Ohm</text>
<text class="ti" style="font-size:15px" transform="translate(447.8,1077.1) rotate(-90)" text-anchor="middle" textLength="59.6" lengthAdjust="spacingAndGlyphs">-Z''/Ohm</text>
<text class="ti" style="font-size:15px" transform="translate(871.2,1077.6) rotate(-90)" text-anchor="middle" textLength="210.4" lengthAdjust="spacingAndGlyphs">Specific Capacitance, <tspan class="sr">&#956;</tspan>F/cm<tspan dy="-6" font-size="8">2</tspan></text>
<line x1="318.6" y1="179.2" x2="353" y2="179.2" stroke="#1c1c1c" stroke-width="2.6"/>
<text class="lg" x="358.1" y="183.5">1 mV/s</text>
<line x1="318.6" y1="197.8" x2="353" y2="197.8" stroke="#ee2a2a" stroke-width="2.6" stroke-dasharray="10,7"/>
<text class="lg" x="358.1" y="202.4">2 mV/s</text>
<line x1="318.6" y1="216.6" x2="353" y2="216.6" stroke="#2a2aee" stroke-width="2.6" stroke-dasharray="2.5,8.2"/>
<text class="lg" x="358.1" y="220.9">5 mV/s</text>
<line x1="318.6" y1="235" x2="353" y2="235" stroke="#ee22ee" stroke-width="2.6" stroke-dasharray="11,5,2.5,5"/>
<text class="lg" x="358.1" y="239.8">10 mV/s</text>
<line x1="318.6" y1="253.9" x2="353" y2="253.9" stroke="#3a8a48" stroke-width="2.6" stroke-dasharray="7,3.5,2.5,3.5,2.5,3.5"/>
<text class="lg" x="358.1" y="257.8">20 mV/s</text>
<line x1="736.1" y1="196.7" x2="770.8" y2="196.7" stroke="#1c1c1c" stroke-width="2.6"/>
<text class="lg" x="775.5" y="201.6">50 mV/s</text>
<line x1="736.1" y1="215.6" x2="770.8" y2="215.6" stroke="#ee2a2a" stroke-width="2.6" stroke-dasharray="10,7"/>
<text class="lg" x="775.5" y="220.3">100 mV/s</text>
<line x1="736.1" y1="234.4" x2="770.8" y2="234.4" stroke="#2a2aee" stroke-width="2.6" stroke-dasharray="2.5,8.2"/>
<text class="lg" x="775.5" y="239">200 mV/s</text>
<line x1="736.1" y1="253.1" x2="770.8" y2="253.1" stroke="#ee22ee" stroke-width="2.6" stroke-dasharray="11,5,2.5,5"/>
<text class="lg" x="775.5" y="257.3">500 mV/s</text>
<line x1="320.7" y1="489" x2="352.5" y2="489" stroke="#1c1c1c" stroke-width="2.6"/>
<text class="lg" x="357.7" y="493.3">1 mV/s</text>
<line x1="320.7" y1="508.2" x2="352.5" y2="508.2" stroke="#ee2a2a" stroke-width="2.6" stroke-dasharray="10,7"/>
<text class="lg" x="357.7" y="512.7">2 mV/s</text>
<line x1="320.7" y1="527.1" x2="352.5" y2="527.1" stroke="#2a2aee" stroke-width="2.6" stroke-dasharray="2.5,8.2"/>
<text class="lg" x="357.7" y="531.1">5 mV/s</text>
<line x1="320.7" y1="545.7" x2="352.5" y2="545.7" stroke="#ee22ee" stroke-width="2.6" stroke-dasharray="11,5,2.5,5"/>
<text class="lg" x="357.7" y="550">10 mV/s</text>
<line x1="320.7" y1="564.7" x2="352.5" y2="564.7" stroke="#3a8a48" stroke-width="2.6" stroke-dasharray="7,3.5,2.5,3.5,2.5,3.5"/>
<text class="lg" x="357.7" y="568.1">20 mV/s</text>
<line x1="738.4" y1="505.9" x2="773.1" y2="505.9" stroke="#1c1c1c" stroke-width="2.6"/>
<text class="lg" x="777.3" y="510.6">50 mV/s</text>
<line x1="738.4" y1="525.2" x2="773.1" y2="525.2" stroke="#ee2a2a" stroke-width="2.6" stroke-dasharray="10,7"/>
<text class="lg" x="777.3" y="529.4">100 mV/s</text>
<line x1="738.4" y1="543.9" x2="773.1" y2="543.9" stroke="#2a2aee" stroke-width="2.6" stroke-dasharray="2.5,8.2"/>
<text class="lg" x="777.3" y="548.6">200 mV/s</text>
<line x1="738.4" y1="562.9" x2="773.1" y2="562.9" stroke="#ee22ee" stroke-width="2.6" stroke-dasharray="11,5,2.5,5"/>
<text class="lg" x="777.3" y="567.3">500 mV/s</text>
<line x1="330.3" y1="806.6" x2="362.1" y2="806.6" stroke="#1c1c1c" stroke-width="2.6"/>
<text class="lgs" x="366.4" y="810.9">1 mV/s</text>
<line x1="330.3" y1="823.8" x2="362.1" y2="823.8" stroke="#ee2a2a" stroke-width="2.6" stroke-dasharray="10,7"/>
<text class="lgs" x="366.4" y="827.7">2 mV/s</text>
<line x1="330.3" y1="841.4" x2="362.1" y2="841.4" stroke="#2a2aee" stroke-width="2.6" stroke-dasharray="2.5,8.2"/>
<text class="lgs" x="366.4" y="844.8">5 mV/s</text>
<line x1="330.3" y1="858.2" x2="362.1" y2="858.2" stroke="#ee22ee" stroke-width="2.6" stroke-dasharray="11,5,2.5,5"/>
<text class="lgs" x="366.4" y="862">10 mV/s</text>
<line x1="330.3" y1="874.9" x2="362.1" y2="874.9" stroke="#3a8a48" stroke-width="2.6" stroke-dasharray="7,3.5,2.5,3.5,2.5,3.5"/>
<text class="lgs" x="366.4" y="878.4">20 mV/s</text>
<line x1="738.4" y1="813.6" x2="773.1" y2="813.6" stroke="#1c1c1c" stroke-width="2.6"/>
<text class="lg" x="776.9" y="818.3">50 mV/s</text>
<line x1="738.4" y1="832.3" x2="773.1" y2="832.3" stroke="#ee2a2a" stroke-width="2.6" stroke-dasharray="10,7"/>
<text class="lg" x="776.9" y="836.6">100 mV/s</text>
<line x1="738.4" y1="851.1" x2="773.1" y2="851.1" stroke="#2a2aee" stroke-width="2.6" stroke-dasharray="2.5,8.2"/>
<text class="lg" x="776.9" y="855.3">200 mV/s</text>
<line x1="738.4" y1="869.4" x2="773.1" y2="869.4" stroke="#ee22ee" stroke-width="2.6" stroke-dasharray="11,5,2.5,5"/>
<text class="lg" x="776.9" y="873.6">500 mV/s</text>
<line x1="1151.5" y1="20.3" x2="1186" y2="20.3" stroke="#1c1c1c" stroke-width="2.6"/>
<text class="lg" x="1190.3" y="25.2">1.5 <tspan class="sr">&#956;</tspan>F/cm<tspan dy="-6" font-size="8">2</tspan></text>
<line x1="1151.5" y1="41.1" x2="1186" y2="41.1" stroke="#ee2a2a" stroke-width="2.6" stroke-dasharray="10,7"/>
<text class="lg" x="1190.3" y="45.7">2 <tspan class="sr">&#956;</tspan>F/cm<tspan dy="-6" font-size="8">2</tspan></text>
<line x1="1151.5" y1="61.9" x2="1186" y2="61.9" stroke="#2a2aee" stroke-width="2.6" stroke-dasharray="2.5,8.2"/>
<text class="lg" x="1190.3" y="66.8">5 <tspan class="sr">&#956;</tspan>F/cm<tspan dy="-6" font-size="8">2</tspan></text>
<line x1="1151.5" y1="82.7" x2="1186" y2="82.7" stroke="#ee22ee" stroke-width="2.6" stroke-dasharray="11,5,2.5,5"/>
<text class="lg" x="1190.3" y="87">10 <tspan class="sr">&#956;</tspan>F/cm<tspan dy="-6" font-size="8">2</tspan></text>
<line x1="1159.6" y1="330.3" x2="1193.7" y2="330.3" stroke="#1c1c1c" stroke-width="2.6"/>
<text class="lg" x="1198.3" y="335.4"><tspan class="sr">1.5 &#956;</tspan>F/cm<tspan dy="-6" font-size="8">2</tspan></text>
<line x1="1159.6" y1="351.1" x2="1193.7" y2="351.1" stroke="#ee2a2a" stroke-width="2.6" stroke-dasharray="10,7"/>
<text class="lg" x="1198.3" y="355.7">2 <tspan class="sr">&#956;</tspan>F/cm<tspan dy="-6" font-size="8">2</tspan></text>
<line x1="1159.6" y1="371.9" x2="1193.7" y2="371.9" stroke="#2a2aee" stroke-width="2.6" stroke-dasharray="2.5,8.2"/>
<text class="lg" x="1198.3" y="376">5 <tspan class="sr">&#956;</tspan>F/cm<tspan dy="-6" font-size="8">2</tspan></text>
<line x1="1159.6" y1="392.7" x2="1193.7" y2="392.7" stroke="#ee22ee" stroke-width="2.6" stroke-dasharray="11,5,2.5,5"/>
<text class="lg" x="1198.3" y="396.8">10 <tspan class="sr">&#956;</tspan>F/cm<tspan dy="-6" font-size="8">2</tspan></text>
<line x1="1154.1" y1="637.8" x2="1188.2" y2="637.8" stroke="#1c1c1c" stroke-width="2.6"/>
<text class="lg" x="1193.2" y="642.9"><tspan class="sr">1.5 &#956;A/</tspan>cm<tspan dy="-6" font-size="8">2</tspan></text>
<line x1="1154.1" y1="658.6" x2="1188.2" y2="658.6" stroke="#ee2a2a" stroke-width="2.6" stroke-dasharray="10,7"/>
<text class="lg" x="1193.2" y="663.2"><tspan class="sr">2 &#956;A/</tspan>cm<tspan dy="-6" font-size="8">2</tspan></text>
<line x1="1154.1" y1="679.4" x2="1188.2" y2="679.4" stroke="#2a2aee" stroke-width="2.6" stroke-dasharray="2.5,8.2"/>
<text class="lg" x="1193.2" y="684"><tspan class="sr">5 &#956;A/</tspan>cm<tspan dy="-6" font-size="8">2</tspan></text>
<line x1="1154.1" y1="700.2" x2="1188.2" y2="700.2" stroke="#ee22ee" stroke-width="2.6" stroke-dasharray="11,5,2.5,5"/>
<text class="lg" x="1193.2" y="704.3"><tspan class="sr">10 &#956;A/</tspan>cm<tspan dy="-6" font-size="8">2</tspan></text>
<rect x="218.5" y="950.5" width="3.6" height="3.6" fill="#111"/>
<circle cx="220.3" cy="971.1" r="2.2" fill="#f01818"/>
<path d="M220.3 987.6750000000001L222.55 991.725L218.05 991.725Z" fill="#1818f0"/>
<text class="lg" x="241.4" y="957.3">NT-600</text>
<text class="lg" x="241.4" y="975.6">NT-650</text>
<text class="lg" x="241.4" y="994.4">NT-700</text>
<rect x="669.0" y="947.6" width="3.2" height="3.2" fill="#111"/>
<circle cx="670.6" cy="968.3" r="1.9" fill="#f01818"/>
<text class="lg" x="692.5" y="953.9">NT-600</text>
<text class="lg" x="692.5" y="973.2">NT-650</text>
<line x1="1180.7" y1="949.8" x2="1214.7" y2="949.8" stroke="#1c1c1c" stroke-width="2.2"/>
<line x1="1180.7" y1="968.5" x2="1214.7" y2="968.5" stroke="#f01818" stroke-width="2.2"/>
<line x1="1180.7" y1="987" x2="1214.7" y2="987" stroke="#1818f0" stroke-width="2.2"/>
<rect x="1194.5" y="946.8" width="6" height="6" fill="#111"/>
<circle cx="1197.5" cy="968.5" r="3.3" fill="#f01818"/>
<path d="M1197.5 983.35L1201.0 989.65L1194.0 989.65Z" fill="#1818f0"/>
<text class="lg" x="1219.4" y="954.3">NT-600</text>
<text class="lg" x="1219.4" y="973.2">NT-650</text>
<text class="lg" x="1219.4" y="991.3">NT-700</text>
</svg>
</body></html>
